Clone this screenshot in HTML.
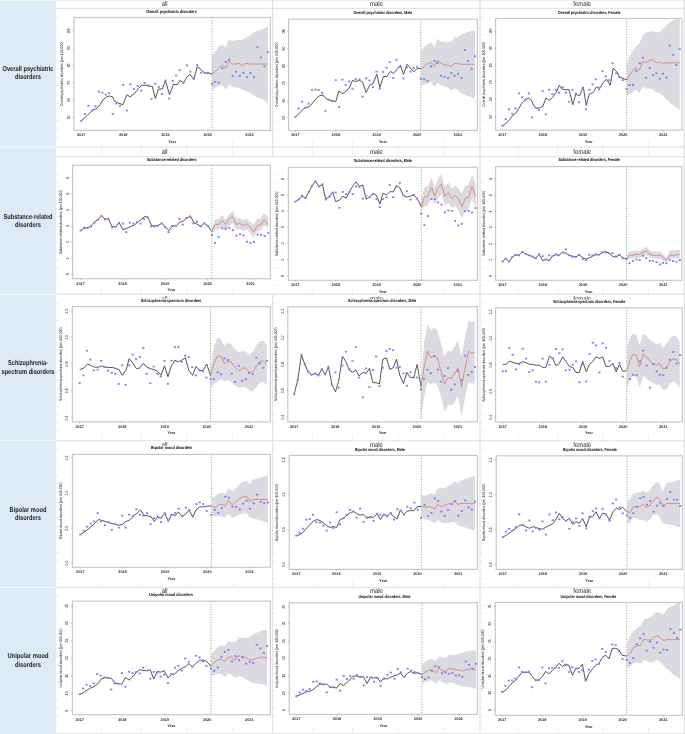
<!DOCTYPE html>
<html><head><meta charset="utf-8"><title>Charts</title>
<style>
html,body{margin:0;padding:0;background:#fff;}
body{width:685px;height:734px;overflow:hidden;font-family:"Liberation Sans",sans-serif;}
svg{display:block;text-rendering:geometricPrecision;}
svg{will-change:transform;}
</style></head><body>
<svg width="685" height="734" viewBox="0 0 685 734" font-family="Liberation Sans, sans-serif"><rect x="0" y="0" width="685" height="734" fill="#fff"/>
<rect x="0" y="0" width="56" height="734" fill="#DEEAF6"/>
<line x1="0" y1="0.5" x2="56" y2="0.5" stroke="#f4f8fc" stroke-width="1.2" />
<line x1="0" y1="147" x2="56" y2="147" stroke="#f4f8fc" stroke-width="1.2" />
<line x1="0" y1="294.3" x2="56" y2="294.3" stroke="#f4f8fc" stroke-width="1.2" />
<line x1="0" y1="440.5" x2="56" y2="440.5" stroke="#f4f8fc" stroke-width="1.2" />
<line x1="0" y1="587.4" x2="56" y2="587.4" stroke="#f4f8fc" stroke-width="1.2" />
<line x1="56" y1="0.5" x2="685" y2="0.5" stroke="#ebebeb" stroke-width="1.2" />
<line x1="56" y1="147" x2="685" y2="147" stroke="#e6e6e6" stroke-width="1.6" />
<line x1="56" y1="294.3" x2="685" y2="294.3" stroke="#e6e6e6" stroke-width="1.6" />
<line x1="56" y1="440.5" x2="685" y2="440.5" stroke="#e6e6e6" stroke-width="1.6" />
<line x1="56" y1="587.4" x2="685" y2="587.4" stroke="#e6e6e6" stroke-width="1.6" />
<line x1="56" y1="733.5" x2="685" y2="733.5" stroke="#e6e6e6" stroke-width="1.2" />
<line x1="56" y1="8.4" x2="685" y2="8.4" stroke="#e4e4e4" stroke-width="1.2" />
<line x1="56" y1="156.6" x2="685" y2="156.6" stroke="#e4e4e4" stroke-width="1.2" />
<line x1="272.6" y1="0" x2="272.6" y2="734" stroke="#e2e2e2" stroke-width="1.3" />
<line x1="480" y1="0" x2="480" y2="734" stroke="#e2e2e2" stroke-width="1.3" />
<line x1="684.3" y1="0" x2="684.3" y2="734" stroke="#e2e2e2" stroke-width="1.3" />
<rect x="271.5" y="157.4" width="2.4" height="136.2" fill="#fff"/>
<text x="164.7" y="5.8" font-size="6.8" text-anchor="middle" fill="#262626" textLength="5.8" lengthAdjust="spacingAndGlyphs" >all</text>
<text x="376.4" y="5.8" font-size="6.8" text-anchor="middle" fill="#262626" textLength="13" lengthAdjust="spacingAndGlyphs" >male</text>
<text x="582.2" y="5.8" font-size="6.8" text-anchor="middle" fill="#262626" textLength="17.9" lengthAdjust="spacingAndGlyphs" >female</text>
<text x="164.7" y="153.8" font-size="6.8" text-anchor="middle" fill="#262626" textLength="5.8" lengthAdjust="spacingAndGlyphs" >all</text>
<text x="376.4" y="153.8" font-size="6.8" text-anchor="middle" fill="#262626" textLength="13" lengthAdjust="spacingAndGlyphs" >male</text>
<text x="582.2" y="153.8" font-size="6.8" text-anchor="middle" fill="#262626" textLength="17.9" lengthAdjust="spacingAndGlyphs" >female</text>
<text x="164.7" y="300.7" font-size="6.8" text-anchor="middle" fill="#262626" textLength="5.8" lengthAdjust="spacingAndGlyphs" >all</text>
<text x="376.4" y="300.7" font-size="6.8" text-anchor="middle" fill="#262626" textLength="13" lengthAdjust="spacingAndGlyphs" >male</text>
<text x="582.2" y="300.7" font-size="6.8" text-anchor="middle" fill="#262626" textLength="17.9" lengthAdjust="spacingAndGlyphs" >female</text>
<text x="164.7" y="446.7" font-size="6.8" text-anchor="middle" fill="#262626" textLength="5.8" lengthAdjust="spacingAndGlyphs" >all</text>
<text x="376.4" y="446.7" font-size="6.8" text-anchor="middle" fill="#262626" textLength="13" lengthAdjust="spacingAndGlyphs" >male</text>
<text x="582.2" y="446.7" font-size="6.8" text-anchor="middle" fill="#262626" textLength="17.9" lengthAdjust="spacingAndGlyphs" >female</text>
<text x="164.7" y="593.2" font-size="6.8" text-anchor="middle" fill="#262626" textLength="5.8" lengthAdjust="spacingAndGlyphs" >all</text>
<text x="376.4" y="593.2" font-size="6.8" text-anchor="middle" fill="#262626" textLength="13" lengthAdjust="spacingAndGlyphs" >male</text>
<text x="582.2" y="593.2" font-size="6.8" text-anchor="middle" fill="#262626" textLength="17.9" lengthAdjust="spacingAndGlyphs" >female</text>
<rect x="57" y="298.5" width="214.8" height="141.3" fill="#fff"/>
<rect x="273.4" y="299" width="205.8" height="140.8" fill="#fff"/>
<rect x="480.8" y="299.5" width="202.8" height="140.3" fill="#fff"/>
<rect x="57" y="445.8" width="214.8" height="140.8" fill="#fff"/>
<rect x="273.4" y="447.4" width="205.8" height="139.2" fill="#fff"/>
<rect x="480.8" y="447.4" width="202.8" height="139.2" fill="#fff"/>
<rect x="57" y="593" width="214.8" height="139.8" fill="#fff"/>
<rect x="273.4" y="593.8" width="205.8" height="139" fill="#fff"/>
<rect x="480.8" y="593.8" width="202.8" height="139" fill="#fff"/>
<line x1="56.3" y1="17.3" x2="58.9" y2="17.3" stroke="#e4e4e4" stroke-width="0.8"/>
<line x1="56.3" y1="25.89" x2="58.9" y2="25.89" stroke="#e4e4e4" stroke-width="0.8"/>
<line x1="56.3" y1="34.48" x2="58.9" y2="34.48" stroke="#e4e4e4" stroke-width="0.8"/>
<line x1="56.3" y1="43.07" x2="58.9" y2="43.07" stroke="#e4e4e4" stroke-width="0.8"/>
<line x1="56.3" y1="51.66" x2="58.9" y2="51.66" stroke="#e4e4e4" stroke-width="0.8"/>
<line x1="56.3" y1="60.25" x2="58.9" y2="60.25" stroke="#e4e4e4" stroke-width="0.8"/>
<line x1="56.3" y1="68.84" x2="58.9" y2="68.84" stroke="#e4e4e4" stroke-width="0.8"/>
<line x1="56.3" y1="77.43" x2="58.9" y2="77.43" stroke="#e4e4e4" stroke-width="0.8"/>
<line x1="56.3" y1="86.02" x2="58.9" y2="86.02" stroke="#e4e4e4" stroke-width="0.8"/>
<line x1="56.3" y1="94.61" x2="58.9" y2="94.61" stroke="#e4e4e4" stroke-width="0.8"/>
<line x1="56.3" y1="103.2" x2="58.9" y2="103.2" stroke="#e4e4e4" stroke-width="0.8"/>
<line x1="56.3" y1="111.79" x2="58.9" y2="111.79" stroke="#e4e4e4" stroke-width="0.8"/>
<line x1="56.3" y1="120.38" x2="58.9" y2="120.38" stroke="#e4e4e4" stroke-width="0.8"/>
<line x1="56.3" y1="128.97" x2="58.9" y2="128.97" stroke="#e4e4e4" stroke-width="0.8"/>
<line x1="56.3" y1="137.56" x2="58.9" y2="137.56" stroke="#e4e4e4" stroke-width="0.8"/>
<line x1="56.3" y1="165.8" x2="58.9" y2="165.8" stroke="#e4e4e4" stroke-width="0.8"/>
<line x1="56.3" y1="174.35" x2="58.9" y2="174.35" stroke="#e4e4e4" stroke-width="0.8"/>
<line x1="56.3" y1="182.9" x2="58.9" y2="182.9" stroke="#e4e4e4" stroke-width="0.8"/>
<line x1="56.3" y1="191.45" x2="58.9" y2="191.45" stroke="#e4e4e4" stroke-width="0.8"/>
<line x1="56.3" y1="200" x2="58.9" y2="200" stroke="#e4e4e4" stroke-width="0.8"/>
<line x1="56.3" y1="208.55" x2="58.9" y2="208.55" stroke="#e4e4e4" stroke-width="0.8"/>
<line x1="56.3" y1="217.1" x2="58.9" y2="217.1" stroke="#e4e4e4" stroke-width="0.8"/>
<line x1="56.3" y1="225.65" x2="58.9" y2="225.65" stroke="#e4e4e4" stroke-width="0.8"/>
<line x1="56.3" y1="234.2" x2="58.9" y2="234.2" stroke="#e4e4e4" stroke-width="0.8"/>
<line x1="56.3" y1="242.75" x2="58.9" y2="242.75" stroke="#e4e4e4" stroke-width="0.8"/>
<line x1="56.3" y1="251.3" x2="58.9" y2="251.3" stroke="#e4e4e4" stroke-width="0.8"/>
<line x1="56.3" y1="259.85" x2="58.9" y2="259.85" stroke="#e4e4e4" stroke-width="0.8"/>
<line x1="56.3" y1="268.4" x2="58.9" y2="268.4" stroke="#e4e4e4" stroke-width="0.8"/>
<line x1="56.3" y1="276.95" x2="58.9" y2="276.95" stroke="#e4e4e4" stroke-width="0.8"/>
<line x1="56.3" y1="285.5" x2="58.9" y2="285.5" stroke="#e4e4e4" stroke-width="0.8"/>
<line x1="56.3" y1="303.3" x2="58.9" y2="303.3" stroke="#e4e4e4" stroke-width="0.8"/>
<line x1="56.3" y1="311.86" x2="58.9" y2="311.86" stroke="#e4e4e4" stroke-width="0.8"/>
<line x1="56.3" y1="320.42" x2="58.9" y2="320.42" stroke="#e4e4e4" stroke-width="0.8"/>
<line x1="56.3" y1="328.98" x2="58.9" y2="328.98" stroke="#e4e4e4" stroke-width="0.8"/>
<line x1="56.3" y1="337.54" x2="58.9" y2="337.54" stroke="#e4e4e4" stroke-width="0.8"/>
<line x1="56.3" y1="346.1" x2="58.9" y2="346.1" stroke="#e4e4e4" stroke-width="0.8"/>
<line x1="56.3" y1="354.66" x2="58.9" y2="354.66" stroke="#e4e4e4" stroke-width="0.8"/>
<line x1="56.3" y1="363.22" x2="58.9" y2="363.22" stroke="#e4e4e4" stroke-width="0.8"/>
<line x1="56.3" y1="371.78" x2="58.9" y2="371.78" stroke="#e4e4e4" stroke-width="0.8"/>
<line x1="56.3" y1="380.34" x2="58.9" y2="380.34" stroke="#e4e4e4" stroke-width="0.8"/>
<line x1="56.3" y1="388.9" x2="58.9" y2="388.9" stroke="#e4e4e4" stroke-width="0.8"/>
<line x1="56.3" y1="397.46" x2="58.9" y2="397.46" stroke="#e4e4e4" stroke-width="0.8"/>
<line x1="56.3" y1="406.02" x2="58.9" y2="406.02" stroke="#e4e4e4" stroke-width="0.8"/>
<line x1="56.3" y1="414.58" x2="58.9" y2="414.58" stroke="#e4e4e4" stroke-width="0.8"/>
<line x1="56.3" y1="423.14" x2="58.9" y2="423.14" stroke="#e4e4e4" stroke-width="0.8"/>
<line x1="56.3" y1="431.7" x2="58.9" y2="431.7" stroke="#e4e4e4" stroke-width="0.8"/>
<line x1="56.3" y1="449.5" x2="58.9" y2="449.5" stroke="#e4e4e4" stroke-width="0.8"/>
<line x1="56.3" y1="458.1" x2="58.9" y2="458.1" stroke="#e4e4e4" stroke-width="0.8"/>
<line x1="56.3" y1="466.7" x2="58.9" y2="466.7" stroke="#e4e4e4" stroke-width="0.8"/>
<line x1="56.3" y1="475.3" x2="58.9" y2="475.3" stroke="#e4e4e4" stroke-width="0.8"/>
<line x1="56.3" y1="483.9" x2="58.9" y2="483.9" stroke="#e4e4e4" stroke-width="0.8"/>
<line x1="56.3" y1="492.5" x2="58.9" y2="492.5" stroke="#e4e4e4" stroke-width="0.8"/>
<line x1="56.3" y1="501.1" x2="58.9" y2="501.1" stroke="#e4e4e4" stroke-width="0.8"/>
<line x1="56.3" y1="509.7" x2="58.9" y2="509.7" stroke="#e4e4e4" stroke-width="0.8"/>
<line x1="56.3" y1="518.3" x2="58.9" y2="518.3" stroke="#e4e4e4" stroke-width="0.8"/>
<line x1="56.3" y1="526.9" x2="58.9" y2="526.9" stroke="#e4e4e4" stroke-width="0.8"/>
<line x1="56.3" y1="535.5" x2="58.9" y2="535.5" stroke="#e4e4e4" stroke-width="0.8"/>
<line x1="56.3" y1="544.1" x2="58.9" y2="544.1" stroke="#e4e4e4" stroke-width="0.8"/>
<line x1="56.3" y1="552.7" x2="58.9" y2="552.7" stroke="#e4e4e4" stroke-width="0.8"/>
<line x1="56.3" y1="561.3" x2="58.9" y2="561.3" stroke="#e4e4e4" stroke-width="0.8"/>
<line x1="56.3" y1="569.9" x2="58.9" y2="569.9" stroke="#e4e4e4" stroke-width="0.8"/>
<line x1="56.3" y1="578.5" x2="58.9" y2="578.5" stroke="#e4e4e4" stroke-width="0.8"/>
<line x1="56.3" y1="596.3" x2="58.9" y2="596.3" stroke="#e4e4e4" stroke-width="0.8"/>
<line x1="56.3" y1="604.88" x2="58.9" y2="604.88" stroke="#e4e4e4" stroke-width="0.8"/>
<line x1="56.3" y1="613.46" x2="58.9" y2="613.46" stroke="#e4e4e4" stroke-width="0.8"/>
<line x1="56.3" y1="622.04" x2="58.9" y2="622.04" stroke="#e4e4e4" stroke-width="0.8"/>
<line x1="56.3" y1="630.62" x2="58.9" y2="630.62" stroke="#e4e4e4" stroke-width="0.8"/>
<line x1="56.3" y1="639.2" x2="58.9" y2="639.2" stroke="#e4e4e4" stroke-width="0.8"/>
<line x1="56.3" y1="647.78" x2="58.9" y2="647.78" stroke="#e4e4e4" stroke-width="0.8"/>
<line x1="56.3" y1="656.36" x2="58.9" y2="656.36" stroke="#e4e4e4" stroke-width="0.8"/>
<line x1="56.3" y1="664.94" x2="58.9" y2="664.94" stroke="#e4e4e4" stroke-width="0.8"/>
<line x1="56.3" y1="673.52" x2="58.9" y2="673.52" stroke="#e4e4e4" stroke-width="0.8"/>
<line x1="56.3" y1="682.1" x2="58.9" y2="682.1" stroke="#e4e4e4" stroke-width="0.8"/>
<line x1="56.3" y1="690.68" x2="58.9" y2="690.68" stroke="#e4e4e4" stroke-width="0.8"/>
<line x1="56.3" y1="699.26" x2="58.9" y2="699.26" stroke="#e4e4e4" stroke-width="0.8"/>
<line x1="56.3" y1="707.84" x2="58.9" y2="707.84" stroke="#e4e4e4" stroke-width="0.8"/>
<line x1="56.3" y1="716.42" x2="58.9" y2="716.42" stroke="#e4e4e4" stroke-width="0.8"/>
<line x1="56.3" y1="725" x2="58.9" y2="725" stroke="#e4e4e4" stroke-width="0.8"/>
<line x1="273.3" y1="17.3" x2="275.9" y2="17.3" stroke="#e4e4e4" stroke-width="0.8"/>
<line x1="273.3" y1="25.89" x2="275.9" y2="25.89" stroke="#e4e4e4" stroke-width="0.8"/>
<line x1="273.3" y1="34.48" x2="275.9" y2="34.48" stroke="#e4e4e4" stroke-width="0.8"/>
<line x1="273.3" y1="43.07" x2="275.9" y2="43.07" stroke="#e4e4e4" stroke-width="0.8"/>
<line x1="273.3" y1="51.66" x2="275.9" y2="51.66" stroke="#e4e4e4" stroke-width="0.8"/>
<line x1="273.3" y1="60.25" x2="275.9" y2="60.25" stroke="#e4e4e4" stroke-width="0.8"/>
<line x1="273.3" y1="68.84" x2="275.9" y2="68.84" stroke="#e4e4e4" stroke-width="0.8"/>
<line x1="273.3" y1="77.43" x2="275.9" y2="77.43" stroke="#e4e4e4" stroke-width="0.8"/>
<line x1="273.3" y1="86.02" x2="275.9" y2="86.02" stroke="#e4e4e4" stroke-width="0.8"/>
<line x1="273.3" y1="94.61" x2="275.9" y2="94.61" stroke="#e4e4e4" stroke-width="0.8"/>
<line x1="273.3" y1="103.2" x2="275.9" y2="103.2" stroke="#e4e4e4" stroke-width="0.8"/>
<line x1="273.3" y1="111.79" x2="275.9" y2="111.79" stroke="#e4e4e4" stroke-width="0.8"/>
<line x1="273.3" y1="120.38" x2="275.9" y2="120.38" stroke="#e4e4e4" stroke-width="0.8"/>
<line x1="273.3" y1="128.97" x2="275.9" y2="128.97" stroke="#e4e4e4" stroke-width="0.8"/>
<line x1="273.3" y1="137.56" x2="275.9" y2="137.56" stroke="#e4e4e4" stroke-width="0.8"/>
<line x1="273.3" y1="165.8" x2="275.9" y2="165.8" stroke="#e4e4e4" stroke-width="0.8"/>
<line x1="273.3" y1="174.35" x2="275.9" y2="174.35" stroke="#e4e4e4" stroke-width="0.8"/>
<line x1="273.3" y1="182.9" x2="275.9" y2="182.9" stroke="#e4e4e4" stroke-width="0.8"/>
<line x1="273.3" y1="191.45" x2="275.9" y2="191.45" stroke="#e4e4e4" stroke-width="0.8"/>
<line x1="273.3" y1="200" x2="275.9" y2="200" stroke="#e4e4e4" stroke-width="0.8"/>
<line x1="273.3" y1="208.55" x2="275.9" y2="208.55" stroke="#e4e4e4" stroke-width="0.8"/>
<line x1="273.3" y1="217.1" x2="275.9" y2="217.1" stroke="#e4e4e4" stroke-width="0.8"/>
<line x1="273.3" y1="225.65" x2="275.9" y2="225.65" stroke="#e4e4e4" stroke-width="0.8"/>
<line x1="273.3" y1="234.2" x2="275.9" y2="234.2" stroke="#e4e4e4" stroke-width="0.8"/>
<line x1="273.3" y1="242.75" x2="275.9" y2="242.75" stroke="#e4e4e4" stroke-width="0.8"/>
<line x1="273.3" y1="251.3" x2="275.9" y2="251.3" stroke="#e4e4e4" stroke-width="0.8"/>
<line x1="273.3" y1="259.85" x2="275.9" y2="259.85" stroke="#e4e4e4" stroke-width="0.8"/>
<line x1="273.3" y1="268.4" x2="275.9" y2="268.4" stroke="#e4e4e4" stroke-width="0.8"/>
<line x1="273.3" y1="276.95" x2="275.9" y2="276.95" stroke="#e4e4e4" stroke-width="0.8"/>
<line x1="273.3" y1="285.5" x2="275.9" y2="285.5" stroke="#e4e4e4" stroke-width="0.8"/>
<line x1="273.3" y1="303.3" x2="275.9" y2="303.3" stroke="#e4e4e4" stroke-width="0.8"/>
<line x1="273.3" y1="311.86" x2="275.9" y2="311.86" stroke="#e4e4e4" stroke-width="0.8"/>
<line x1="273.3" y1="320.42" x2="275.9" y2="320.42" stroke="#e4e4e4" stroke-width="0.8"/>
<line x1="273.3" y1="328.98" x2="275.9" y2="328.98" stroke="#e4e4e4" stroke-width="0.8"/>
<line x1="273.3" y1="337.54" x2="275.9" y2="337.54" stroke="#e4e4e4" stroke-width="0.8"/>
<line x1="273.3" y1="346.1" x2="275.9" y2="346.1" stroke="#e4e4e4" stroke-width="0.8"/>
<line x1="273.3" y1="354.66" x2="275.9" y2="354.66" stroke="#e4e4e4" stroke-width="0.8"/>
<line x1="273.3" y1="363.22" x2="275.9" y2="363.22" stroke="#e4e4e4" stroke-width="0.8"/>
<line x1="273.3" y1="371.78" x2="275.9" y2="371.78" stroke="#e4e4e4" stroke-width="0.8"/>
<line x1="273.3" y1="380.34" x2="275.9" y2="380.34" stroke="#e4e4e4" stroke-width="0.8"/>
<line x1="273.3" y1="388.9" x2="275.9" y2="388.9" stroke="#e4e4e4" stroke-width="0.8"/>
<line x1="273.3" y1="397.46" x2="275.9" y2="397.46" stroke="#e4e4e4" stroke-width="0.8"/>
<line x1="273.3" y1="406.02" x2="275.9" y2="406.02" stroke="#e4e4e4" stroke-width="0.8"/>
<line x1="273.3" y1="414.58" x2="275.9" y2="414.58" stroke="#e4e4e4" stroke-width="0.8"/>
<line x1="273.3" y1="423.14" x2="275.9" y2="423.14" stroke="#e4e4e4" stroke-width="0.8"/>
<line x1="273.3" y1="431.7" x2="275.9" y2="431.7" stroke="#e4e4e4" stroke-width="0.8"/>
<line x1="273.3" y1="449.5" x2="275.9" y2="449.5" stroke="#e4e4e4" stroke-width="0.8"/>
<line x1="273.3" y1="458.1" x2="275.9" y2="458.1" stroke="#e4e4e4" stroke-width="0.8"/>
<line x1="273.3" y1="466.7" x2="275.9" y2="466.7" stroke="#e4e4e4" stroke-width="0.8"/>
<line x1="273.3" y1="475.3" x2="275.9" y2="475.3" stroke="#e4e4e4" stroke-width="0.8"/>
<line x1="273.3" y1="483.9" x2="275.9" y2="483.9" stroke="#e4e4e4" stroke-width="0.8"/>
<line x1="273.3" y1="492.5" x2="275.9" y2="492.5" stroke="#e4e4e4" stroke-width="0.8"/>
<line x1="273.3" y1="501.1" x2="275.9" y2="501.1" stroke="#e4e4e4" stroke-width="0.8"/>
<line x1="273.3" y1="509.7" x2="275.9" y2="509.7" stroke="#e4e4e4" stroke-width="0.8"/>
<line x1="273.3" y1="518.3" x2="275.9" y2="518.3" stroke="#e4e4e4" stroke-width="0.8"/>
<line x1="273.3" y1="526.9" x2="275.9" y2="526.9" stroke="#e4e4e4" stroke-width="0.8"/>
<line x1="273.3" y1="535.5" x2="275.9" y2="535.5" stroke="#e4e4e4" stroke-width="0.8"/>
<line x1="273.3" y1="544.1" x2="275.9" y2="544.1" stroke="#e4e4e4" stroke-width="0.8"/>
<line x1="273.3" y1="552.7" x2="275.9" y2="552.7" stroke="#e4e4e4" stroke-width="0.8"/>
<line x1="273.3" y1="561.3" x2="275.9" y2="561.3" stroke="#e4e4e4" stroke-width="0.8"/>
<line x1="273.3" y1="569.9" x2="275.9" y2="569.9" stroke="#e4e4e4" stroke-width="0.8"/>
<line x1="273.3" y1="578.5" x2="275.9" y2="578.5" stroke="#e4e4e4" stroke-width="0.8"/>
<line x1="273.3" y1="596.3" x2="275.9" y2="596.3" stroke="#e4e4e4" stroke-width="0.8"/>
<line x1="273.3" y1="604.88" x2="275.9" y2="604.88" stroke="#e4e4e4" stroke-width="0.8"/>
<line x1="273.3" y1="613.46" x2="275.9" y2="613.46" stroke="#e4e4e4" stroke-width="0.8"/>
<line x1="273.3" y1="622.04" x2="275.9" y2="622.04" stroke="#e4e4e4" stroke-width="0.8"/>
<line x1="273.3" y1="630.62" x2="275.9" y2="630.62" stroke="#e4e4e4" stroke-width="0.8"/>
<line x1="273.3" y1="639.2" x2="275.9" y2="639.2" stroke="#e4e4e4" stroke-width="0.8"/>
<line x1="273.3" y1="647.78" x2="275.9" y2="647.78" stroke="#e4e4e4" stroke-width="0.8"/>
<line x1="273.3" y1="656.36" x2="275.9" y2="656.36" stroke="#e4e4e4" stroke-width="0.8"/>
<line x1="273.3" y1="664.94" x2="275.9" y2="664.94" stroke="#e4e4e4" stroke-width="0.8"/>
<line x1="273.3" y1="673.52" x2="275.9" y2="673.52" stroke="#e4e4e4" stroke-width="0.8"/>
<line x1="273.3" y1="682.1" x2="275.9" y2="682.1" stroke="#e4e4e4" stroke-width="0.8"/>
<line x1="273.3" y1="690.68" x2="275.9" y2="690.68" stroke="#e4e4e4" stroke-width="0.8"/>
<line x1="273.3" y1="699.26" x2="275.9" y2="699.26" stroke="#e4e4e4" stroke-width="0.8"/>
<line x1="273.3" y1="707.84" x2="275.9" y2="707.84" stroke="#e4e4e4" stroke-width="0.8"/>
<line x1="273.3" y1="716.42" x2="275.9" y2="716.42" stroke="#e4e4e4" stroke-width="0.8"/>
<line x1="273.3" y1="725" x2="275.9" y2="725" stroke="#e4e4e4" stroke-width="0.8"/>
<line x1="480.8" y1="17.3" x2="483.4" y2="17.3" stroke="#e4e4e4" stroke-width="0.8"/>
<line x1="480.8" y1="25.89" x2="483.4" y2="25.89" stroke="#e4e4e4" stroke-width="0.8"/>
<line x1="480.8" y1="34.48" x2="483.4" y2="34.48" stroke="#e4e4e4" stroke-width="0.8"/>
<line x1="480.8" y1="43.07" x2="483.4" y2="43.07" stroke="#e4e4e4" stroke-width="0.8"/>
<line x1="480.8" y1="51.66" x2="483.4" y2="51.66" stroke="#e4e4e4" stroke-width="0.8"/>
<line x1="480.8" y1="60.25" x2="483.4" y2="60.25" stroke="#e4e4e4" stroke-width="0.8"/>
<line x1="480.8" y1="68.84" x2="483.4" y2="68.84" stroke="#e4e4e4" stroke-width="0.8"/>
<line x1="480.8" y1="77.43" x2="483.4" y2="77.43" stroke="#e4e4e4" stroke-width="0.8"/>
<line x1="480.8" y1="86.02" x2="483.4" y2="86.02" stroke="#e4e4e4" stroke-width="0.8"/>
<line x1="480.8" y1="94.61" x2="483.4" y2="94.61" stroke="#e4e4e4" stroke-width="0.8"/>
<line x1="480.8" y1="103.2" x2="483.4" y2="103.2" stroke="#e4e4e4" stroke-width="0.8"/>
<line x1="480.8" y1="111.79" x2="483.4" y2="111.79" stroke="#e4e4e4" stroke-width="0.8"/>
<line x1="480.8" y1="120.38" x2="483.4" y2="120.38" stroke="#e4e4e4" stroke-width="0.8"/>
<line x1="480.8" y1="128.97" x2="483.4" y2="128.97" stroke="#e4e4e4" stroke-width="0.8"/>
<line x1="480.8" y1="137.56" x2="483.4" y2="137.56" stroke="#e4e4e4" stroke-width="0.8"/>
<line x1="480.8" y1="165.8" x2="483.4" y2="165.8" stroke="#e4e4e4" stroke-width="0.8"/>
<line x1="480.8" y1="174.35" x2="483.4" y2="174.35" stroke="#e4e4e4" stroke-width="0.8"/>
<line x1="480.8" y1="182.9" x2="483.4" y2="182.9" stroke="#e4e4e4" stroke-width="0.8"/>
<line x1="480.8" y1="191.45" x2="483.4" y2="191.45" stroke="#e4e4e4" stroke-width="0.8"/>
<line x1="480.8" y1="200" x2="483.4" y2="200" stroke="#e4e4e4" stroke-width="0.8"/>
<line x1="480.8" y1="208.55" x2="483.4" y2="208.55" stroke="#e4e4e4" stroke-width="0.8"/>
<line x1="480.8" y1="217.1" x2="483.4" y2="217.1" stroke="#e4e4e4" stroke-width="0.8"/>
<line x1="480.8" y1="225.65" x2="483.4" y2="225.65" stroke="#e4e4e4" stroke-width="0.8"/>
<line x1="480.8" y1="234.2" x2="483.4" y2="234.2" stroke="#e4e4e4" stroke-width="0.8"/>
<line x1="480.8" y1="242.75" x2="483.4" y2="242.75" stroke="#e4e4e4" stroke-width="0.8"/>
<line x1="480.8" y1="251.3" x2="483.4" y2="251.3" stroke="#e4e4e4" stroke-width="0.8"/>
<line x1="480.8" y1="259.85" x2="483.4" y2="259.85" stroke="#e4e4e4" stroke-width="0.8"/>
<line x1="480.8" y1="268.4" x2="483.4" y2="268.4" stroke="#e4e4e4" stroke-width="0.8"/>
<line x1="480.8" y1="276.95" x2="483.4" y2="276.95" stroke="#e4e4e4" stroke-width="0.8"/>
<line x1="480.8" y1="285.5" x2="483.4" y2="285.5" stroke="#e4e4e4" stroke-width="0.8"/>
<line x1="480.8" y1="303.3" x2="483.4" y2="303.3" stroke="#e4e4e4" stroke-width="0.8"/>
<line x1="480.8" y1="311.86" x2="483.4" y2="311.86" stroke="#e4e4e4" stroke-width="0.8"/>
<line x1="480.8" y1="320.42" x2="483.4" y2="320.42" stroke="#e4e4e4" stroke-width="0.8"/>
<line x1="480.8" y1="328.98" x2="483.4" y2="328.98" stroke="#e4e4e4" stroke-width="0.8"/>
<line x1="480.8" y1="337.54" x2="483.4" y2="337.54" stroke="#e4e4e4" stroke-width="0.8"/>
<line x1="480.8" y1="346.1" x2="483.4" y2="346.1" stroke="#e4e4e4" stroke-width="0.8"/>
<line x1="480.8" y1="354.66" x2="483.4" y2="354.66" stroke="#e4e4e4" stroke-width="0.8"/>
<line x1="480.8" y1="363.22" x2="483.4" y2="363.22" stroke="#e4e4e4" stroke-width="0.8"/>
<line x1="480.8" y1="371.78" x2="483.4" y2="371.78" stroke="#e4e4e4" stroke-width="0.8"/>
<line x1="480.8" y1="380.34" x2="483.4" y2="380.34" stroke="#e4e4e4" stroke-width="0.8"/>
<line x1="480.8" y1="388.9" x2="483.4" y2="388.9" stroke="#e4e4e4" stroke-width="0.8"/>
<line x1="480.8" y1="397.46" x2="483.4" y2="397.46" stroke="#e4e4e4" stroke-width="0.8"/>
<line x1="480.8" y1="406.02" x2="483.4" y2="406.02" stroke="#e4e4e4" stroke-width="0.8"/>
<line x1="480.8" y1="414.58" x2="483.4" y2="414.58" stroke="#e4e4e4" stroke-width="0.8"/>
<line x1="480.8" y1="423.14" x2="483.4" y2="423.14" stroke="#e4e4e4" stroke-width="0.8"/>
<line x1="480.8" y1="431.7" x2="483.4" y2="431.7" stroke="#e4e4e4" stroke-width="0.8"/>
<line x1="480.8" y1="449.5" x2="483.4" y2="449.5" stroke="#e4e4e4" stroke-width="0.8"/>
<line x1="480.8" y1="458.1" x2="483.4" y2="458.1" stroke="#e4e4e4" stroke-width="0.8"/>
<line x1="480.8" y1="466.7" x2="483.4" y2="466.7" stroke="#e4e4e4" stroke-width="0.8"/>
<line x1="480.8" y1="475.3" x2="483.4" y2="475.3" stroke="#e4e4e4" stroke-width="0.8"/>
<line x1="480.8" y1="483.9" x2="483.4" y2="483.9" stroke="#e4e4e4" stroke-width="0.8"/>
<line x1="480.8" y1="492.5" x2="483.4" y2="492.5" stroke="#e4e4e4" stroke-width="0.8"/>
<line x1="480.8" y1="501.1" x2="483.4" y2="501.1" stroke="#e4e4e4" stroke-width="0.8"/>
<line x1="480.8" y1="509.7" x2="483.4" y2="509.7" stroke="#e4e4e4" stroke-width="0.8"/>
<line x1="480.8" y1="518.3" x2="483.4" y2="518.3" stroke="#e4e4e4" stroke-width="0.8"/>
<line x1="480.8" y1="526.9" x2="483.4" y2="526.9" stroke="#e4e4e4" stroke-width="0.8"/>
<line x1="480.8" y1="535.5" x2="483.4" y2="535.5" stroke="#e4e4e4" stroke-width="0.8"/>
<line x1="480.8" y1="544.1" x2="483.4" y2="544.1" stroke="#e4e4e4" stroke-width="0.8"/>
<line x1="480.8" y1="552.7" x2="483.4" y2="552.7" stroke="#e4e4e4" stroke-width="0.8"/>
<line x1="480.8" y1="561.3" x2="483.4" y2="561.3" stroke="#e4e4e4" stroke-width="0.8"/>
<line x1="480.8" y1="569.9" x2="483.4" y2="569.9" stroke="#e4e4e4" stroke-width="0.8"/>
<line x1="480.8" y1="578.5" x2="483.4" y2="578.5" stroke="#e4e4e4" stroke-width="0.8"/>
<line x1="480.8" y1="596.3" x2="483.4" y2="596.3" stroke="#e4e4e4" stroke-width="0.8"/>
<line x1="480.8" y1="604.88" x2="483.4" y2="604.88" stroke="#e4e4e4" stroke-width="0.8"/>
<line x1="480.8" y1="613.46" x2="483.4" y2="613.46" stroke="#e4e4e4" stroke-width="0.8"/>
<line x1="480.8" y1="622.04" x2="483.4" y2="622.04" stroke="#e4e4e4" stroke-width="0.8"/>
<line x1="480.8" y1="630.62" x2="483.4" y2="630.62" stroke="#e4e4e4" stroke-width="0.8"/>
<line x1="480.8" y1="639.2" x2="483.4" y2="639.2" stroke="#e4e4e4" stroke-width="0.8"/>
<line x1="480.8" y1="647.78" x2="483.4" y2="647.78" stroke="#e4e4e4" stroke-width="0.8"/>
<line x1="480.8" y1="656.36" x2="483.4" y2="656.36" stroke="#e4e4e4" stroke-width="0.8"/>
<line x1="480.8" y1="664.94" x2="483.4" y2="664.94" stroke="#e4e4e4" stroke-width="0.8"/>
<line x1="480.8" y1="673.52" x2="483.4" y2="673.52" stroke="#e4e4e4" stroke-width="0.8"/>
<line x1="480.8" y1="682.1" x2="483.4" y2="682.1" stroke="#e4e4e4" stroke-width="0.8"/>
<line x1="480.8" y1="690.68" x2="483.4" y2="690.68" stroke="#e4e4e4" stroke-width="0.8"/>
<line x1="480.8" y1="699.26" x2="483.4" y2="699.26" stroke="#e4e4e4" stroke-width="0.8"/>
<line x1="480.8" y1="707.84" x2="483.4" y2="707.84" stroke="#e4e4e4" stroke-width="0.8"/>
<line x1="480.8" y1="716.42" x2="483.4" y2="716.42" stroke="#e4e4e4" stroke-width="0.8"/>
<line x1="480.8" y1="725" x2="483.4" y2="725" stroke="#e4e4e4" stroke-width="0.8"/>
<line x1="101.6" y1="141" x2="101.6" y2="156.6" stroke="#ececec" stroke-width="0.8"/>
<line x1="141.2" y1="141" x2="141.2" y2="156.6" stroke="#ececec" stroke-width="0.8"/>
<line x1="186.9" y1="141" x2="186.9" y2="156.6" stroke="#ececec" stroke-width="0.8"/>
<line x1="232.6" y1="141" x2="232.6" y2="156.6" stroke="#ececec" stroke-width="0.8"/>
<line x1="312.4" y1="141" x2="312.4" y2="156.6" stroke="#ececec" stroke-width="0.8"/>
<line x1="352.5" y1="141" x2="352.5" y2="156.6" stroke="#ececec" stroke-width="0.8"/>
<line x1="398" y1="141" x2="398" y2="156.6" stroke="#ececec" stroke-width="0.8"/>
<line x1="443.6" y1="141" x2="443.6" y2="156.6" stroke="#ececec" stroke-width="0.8"/>
<line x1="518" y1="141" x2="518" y2="156.6" stroke="#ececec" stroke-width="0.8"/>
<line x1="557.8" y1="141" x2="557.8" y2="156.6" stroke="#ececec" stroke-width="0.8"/>
<line x1="602.7" y1="141" x2="602.7" y2="156.6" stroke="#ececec" stroke-width="0.8"/>
<line x1="648.5" y1="141" x2="648.5" y2="156.6" stroke="#ececec" stroke-width="0.8"/>
<line x1="101.6" y1="288.3" x2="101.6" y2="294.3" stroke="#ececec" stroke-width="0.8"/>
<line x1="141.2" y1="288.3" x2="141.2" y2="294.3" stroke="#ececec" stroke-width="0.8"/>
<line x1="186.9" y1="288.3" x2="186.9" y2="294.3" stroke="#ececec" stroke-width="0.8"/>
<line x1="232.6" y1="288.3" x2="232.6" y2="294.3" stroke="#ececec" stroke-width="0.8"/>
<line x1="312.4" y1="288.3" x2="312.4" y2="294.3" stroke="#ececec" stroke-width="0.8"/>
<line x1="352.5" y1="288.3" x2="352.5" y2="294.3" stroke="#ececec" stroke-width="0.8"/>
<line x1="398" y1="288.3" x2="398" y2="294.3" stroke="#ececec" stroke-width="0.8"/>
<line x1="443.6" y1="288.3" x2="443.6" y2="294.3" stroke="#ececec" stroke-width="0.8"/>
<line x1="518" y1="288.3" x2="518" y2="294.3" stroke="#ececec" stroke-width="0.8"/>
<line x1="557.8" y1="288.3" x2="557.8" y2="294.3" stroke="#ececec" stroke-width="0.8"/>
<line x1="602.7" y1="288.3" x2="602.7" y2="294.3" stroke="#ececec" stroke-width="0.8"/>
<line x1="648.5" y1="288.3" x2="648.5" y2="294.3" stroke="#ececec" stroke-width="0.8"/>
<line x1="101.6" y1="434.5" x2="101.6" y2="440.5" stroke="#ececec" stroke-width="0.8"/>
<line x1="141.2" y1="434.5" x2="141.2" y2="440.5" stroke="#ececec" stroke-width="0.8"/>
<line x1="186.9" y1="434.5" x2="186.9" y2="440.5" stroke="#ececec" stroke-width="0.8"/>
<line x1="232.6" y1="434.5" x2="232.6" y2="440.5" stroke="#ececec" stroke-width="0.8"/>
<line x1="312.4" y1="434.5" x2="312.4" y2="440.5" stroke="#ececec" stroke-width="0.8"/>
<line x1="352.5" y1="434.5" x2="352.5" y2="440.5" stroke="#ececec" stroke-width="0.8"/>
<line x1="398" y1="434.5" x2="398" y2="440.5" stroke="#ececec" stroke-width="0.8"/>
<line x1="443.6" y1="434.5" x2="443.6" y2="440.5" stroke="#ececec" stroke-width="0.8"/>
<line x1="518" y1="434.5" x2="518" y2="440.5" stroke="#ececec" stroke-width="0.8"/>
<line x1="557.8" y1="434.5" x2="557.8" y2="440.5" stroke="#ececec" stroke-width="0.8"/>
<line x1="602.7" y1="434.5" x2="602.7" y2="440.5" stroke="#ececec" stroke-width="0.8"/>
<line x1="648.5" y1="434.5" x2="648.5" y2="440.5" stroke="#ececec" stroke-width="0.8"/>
<line x1="101.6" y1="581.4" x2="101.6" y2="587.4" stroke="#ececec" stroke-width="0.8"/>
<line x1="141.2" y1="581.4" x2="141.2" y2="587.4" stroke="#ececec" stroke-width="0.8"/>
<line x1="186.9" y1="581.4" x2="186.9" y2="587.4" stroke="#ececec" stroke-width="0.8"/>
<line x1="232.6" y1="581.4" x2="232.6" y2="587.4" stroke="#ececec" stroke-width="0.8"/>
<line x1="312.4" y1="581.4" x2="312.4" y2="587.4" stroke="#ececec" stroke-width="0.8"/>
<line x1="352.5" y1="581.4" x2="352.5" y2="587.4" stroke="#ececec" stroke-width="0.8"/>
<line x1="398" y1="581.4" x2="398" y2="587.4" stroke="#ececec" stroke-width="0.8"/>
<line x1="443.6" y1="581.4" x2="443.6" y2="587.4" stroke="#ececec" stroke-width="0.8"/>
<line x1="518" y1="581.4" x2="518" y2="587.4" stroke="#ececec" stroke-width="0.8"/>
<line x1="557.8" y1="581.4" x2="557.8" y2="587.4" stroke="#ececec" stroke-width="0.8"/>
<line x1="602.7" y1="581.4" x2="602.7" y2="587.4" stroke="#ececec" stroke-width="0.8"/>
<line x1="648.5" y1="581.4" x2="648.5" y2="587.4" stroke="#ececec" stroke-width="0.8"/>
<line x1="101.6" y1="727.5" x2="101.6" y2="733.5" stroke="#ececec" stroke-width="0.8"/>
<line x1="141.2" y1="727.5" x2="141.2" y2="733.5" stroke="#ececec" stroke-width="0.8"/>
<line x1="186.9" y1="727.5" x2="186.9" y2="733.5" stroke="#ececec" stroke-width="0.8"/>
<line x1="232.6" y1="727.5" x2="232.6" y2="733.5" stroke="#ececec" stroke-width="0.8"/>
<line x1="312.4" y1="727.5" x2="312.4" y2="733.5" stroke="#ececec" stroke-width="0.8"/>
<line x1="352.5" y1="727.5" x2="352.5" y2="733.5" stroke="#ececec" stroke-width="0.8"/>
<line x1="398" y1="727.5" x2="398" y2="733.5" stroke="#ececec" stroke-width="0.8"/>
<line x1="443.6" y1="727.5" x2="443.6" y2="733.5" stroke="#ececec" stroke-width="0.8"/>
<line x1="518" y1="727.5" x2="518" y2="733.5" stroke="#ececec" stroke-width="0.8"/>
<line x1="557.8" y1="727.5" x2="557.8" y2="733.5" stroke="#ececec" stroke-width="0.8"/>
<line x1="602.7" y1="727.5" x2="602.7" y2="733.5" stroke="#ececec" stroke-width="0.8"/>
<line x1="648.5" y1="727.5" x2="648.5" y2="733.5" stroke="#ececec" stroke-width="0.8"/>
<text x="28" y="71" font-size="7.2" text-anchor="middle" fill="#1a1a1a" font-weight="bold" textLength="51" lengthAdjust="spacingAndGlyphs" >Overall psychiatric</text>
<text x="28" y="79.4" font-size="7.2" text-anchor="middle" fill="#1a1a1a" font-weight="bold" textLength="26" lengthAdjust="spacingAndGlyphs" >disorders</text>
<text x="28" y="218.6" font-size="7.2" text-anchor="middle" fill="#1a1a1a" font-weight="bold" textLength="49" lengthAdjust="spacingAndGlyphs" >Substance-related</text>
<text x="28" y="227" font-size="7.2" text-anchor="middle" fill="#1a1a1a" font-weight="bold" textLength="25.8" lengthAdjust="spacingAndGlyphs" >disorders</text>
<text x="28" y="365.2" font-size="7.2" text-anchor="middle" fill="#1a1a1a" font-weight="bold" textLength="39.8" lengthAdjust="spacingAndGlyphs" >Schizophrenia-</text>
<text x="28" y="373.7" font-size="7.2" text-anchor="middle" fill="#1a1a1a" font-weight="bold" textLength="53" lengthAdjust="spacingAndGlyphs" >spectrum disorders</text>
<text x="28" y="511.5" font-size="7.2" text-anchor="middle" fill="#1a1a1a" font-weight="bold" textLength="36.8" lengthAdjust="spacingAndGlyphs" >Bipolar mood</text>
<text x="28" y="520" font-size="7.2" text-anchor="middle" fill="#1a1a1a" font-weight="bold" textLength="25.8" lengthAdjust="spacingAndGlyphs" >disorders</text>
<text x="28" y="658" font-size="7.2" text-anchor="middle" fill="#1a1a1a" font-weight="bold" textLength="41.2" lengthAdjust="spacingAndGlyphs" >Unipolar mood</text>
<text x="28" y="666.8" font-size="7.2" text-anchor="middle" fill="#1a1a1a" font-weight="bold" textLength="26" lengthAdjust="spacingAndGlyphs" >disorders</text>
<polygon points="212.1,55.02 215.52,51.14 218.93,46.48 222.19,44.62 225.6,47.26 229.02,39.03 232.28,41.05 235.69,40.28 239.1,39.97 242.36,40.28 245.78,37.17 249.19,36.4 252.45,33.29 255.86,31.28 259.74,30.19 263.62,28.64 267.97,26 267.97,102.66 263.62,100.02 259.74,98.47 255.86,96.91 252.45,94.59 249.19,92.26 245.78,91.17 242.36,89.93 239.1,88.07 235.69,87.6 232.28,86.83 229.02,84.5 225.6,89.62 222.19,85.28 218.93,85.74 215.52,87.6 212.1,89.93" fill="#dadae0"/>
<polyline points="81.23,120.89 87.53,115.21 92.26,110.48 96.99,108.27 100.15,104.18 103.3,99.45 106.45,96.92 109.61,95.98 112.76,96.92 114.34,101.02 117.49,102.6 122.85,104.81 126.95,94.72 130.1,96.92 134.83,93.14 138.62,88.41 141.77,85.26 145.87,85.26 149.02,86.2 152.18,86.2 155.33,98.5 158.48,89.04 162.27,89.04 165.42,80.53 169.52,94.72 173.3,84.62 177.4,84.62 179.92,80.53 183.71,82.73 186.86,77.37 190.01,74.22 193.8,79.26 197.27,66.65 201.05,69.49 204.84,73.27 207.99,72.64 212.1,74.1" fill="none" stroke="#2a2a2a" stroke-width="0.8" stroke-linejoin="round"/>
<polyline points="212.1,74.1 215.52,71.31 218.93,68.21 222.19,65.1 225.6,68.21 229.02,61.22 232.28,64.02 235.69,64.02 239.1,63.24 242.36,65.57 245.78,63.24 249.19,64.02 252.45,64.02 267.97,64.02" fill="none" stroke="#d9746a" stroke-width="0.75" stroke-linejoin="round"/>
<rect x="80.18" y="119.99" width="2.1" height="1.8" fill="#8080f6"/>
<rect x="83.96" y="113.05" width="2.1" height="1.8" fill="#8080f6"/>
<rect x="87.43" y="104.85" width="2.1" height="1.8" fill="#8080f6"/>
<rect x="90.9" y="109.58" width="2.1" height="1.8" fill="#8080f6"/>
<rect x="94.37" y="105.17" width="2.1" height="1.8" fill="#8080f6"/>
<rect x="97.83" y="90.66" width="2.1" height="1.8" fill="#8080f6"/>
<rect x="101.3" y="91.92" width="2.1" height="1.8" fill="#8080f6"/>
<rect x="104.77" y="93.82" width="2.1" height="1.8" fill="#8080f6"/>
<rect x="107.93" y="92.24" width="2.1" height="1.8" fill="#8080f6"/>
<rect x="111.71" y="113.05" width="2.1" height="1.8" fill="#8080f6"/>
<rect x="115.49" y="102.64" width="2.1" height="1.8" fill="#8080f6"/>
<rect x="118.96" y="104.85" width="2.1" height="1.8" fill="#8080f6"/>
<rect x="122.11" y="84.04" width="2.1" height="1.8" fill="#8080f6"/>
<rect x="125.9" y="109.58" width="2.1" height="1.8" fill="#8080f6"/>
<rect x="129.37" y="83.41" width="2.1" height="1.8" fill="#8080f6"/>
<rect x="132.84" y="88.14" width="2.1" height="1.8" fill="#8080f6"/>
<rect x="136.62" y="84.99" width="2.1" height="1.8" fill="#8080f6"/>
<rect x="140.09" y="89.72" width="2.1" height="1.8" fill="#8080f6"/>
<rect x="143.56" y="82.15" width="2.1" height="1.8" fill="#8080f6"/>
<rect x="147.34" y="84.36" width="2.1" height="1.8" fill="#8080f6"/>
<rect x="150.49" y="97.91" width="2.1" height="1.8" fill="#8080f6"/>
<rect x="154.28" y="82.78" width="2.1" height="1.8" fill="#8080f6"/>
<rect x="157.75" y="85.93" width="2.1" height="1.8" fill="#8080f6"/>
<rect x="160.9" y="93.18" width="2.1" height="1.8" fill="#8080f6"/>
<rect x="164.37" y="79.63" width="2.1" height="1.8" fill="#8080f6"/>
<rect x="168.15" y="97.6" width="2.1" height="1.8" fill="#8080f6"/>
<rect x="171.62" y="79.94" width="2.1" height="1.8" fill="#8080f6"/>
<rect x="175.09" y="74.58" width="2.1" height="1.8" fill="#8080f6"/>
<rect x="178.56" y="69.22" width="2.1" height="1.8" fill="#8080f6"/>
<rect x="182.34" y="82.15" width="2.1" height="1.8" fill="#8080f6"/>
<rect x="185.81" y="64.49" width="2.1" height="1.8" fill="#8080f6"/>
<rect x="189.28" y="70.8" width="2.1" height="1.8" fill="#8080f6"/>
<rect x="192.75" y="78.36" width="2.1" height="1.8" fill="#8080f6"/>
<rect x="196.22" y="64.17" width="2.1" height="1.8" fill="#8080f6"/>
<rect x="200" y="71.74" width="2.1" height="1.8" fill="#8080f6"/>
<rect x="203.47" y="72.06" width="2.1" height="1.8" fill="#8080f6"/>
<rect x="206.94" y="72.37" width="2.1" height="1.8" fill="#8080f6"/>
<rect x="211.05" y="82.82" width="2.1" height="1.8" fill="#8080f6"/>
<rect x="214.16" y="80.96" width="2.1" height="1.8" fill="#8080f6"/>
<rect x="217.73" y="81.74" width="2.1" height="1.8" fill="#8080f6"/>
<rect x="221.14" y="67.31" width="2.1" height="1.8" fill="#8080f6"/>
<rect x="224.71" y="61.1" width="2.1" height="1.8" fill="#8080f6"/>
<rect x="227.97" y="58.93" width="2.1" height="1.8" fill="#8080f6"/>
<rect x="231.69" y="75.22" width="2.1" height="1.8" fill="#8080f6"/>
<rect x="235.11" y="70.88" width="2.1" height="1.8" fill="#8080f6"/>
<rect x="238.83" y="75.07" width="2.1" height="1.8" fill="#8080f6"/>
<rect x="242.24" y="71.96" width="2.1" height="1.8" fill="#8080f6"/>
<rect x="245.81" y="76" width="2.1" height="1.8" fill="#8080f6"/>
<rect x="249.38" y="72.12" width="2.1" height="1.8" fill="#8080f6"/>
<rect x="252.95" y="76.31" width="2.1" height="1.8" fill="#8080f6"/>
<rect x="256.36" y="46.36" width="2.1" height="1.8" fill="#8080f6"/>
<rect x="259.93" y="56.44" width="2.1" height="1.8" fill="#8080f6"/>
<rect x="263.5" y="65.44" width="2.1" height="1.8" fill="#8080f6"/>
<rect x="266.92" y="51.32" width="2.1" height="1.8" fill="#8080f6"/>
<line x1="212.1" y1="17.5" x2="212.1" y2="130.4" stroke="#5ea45a" stroke-width="0.8" stroke-dasharray="1.1 1.5"/>
<rect x="74" y="17.5" width="196.4" height="112.9" fill="none" stroke="#c8c8c8" stroke-width="1.2"/>
<line x1="81.23" y1="130.4" x2="81.23" y2="132" stroke="#aaa" stroke-width="0.6"/>
<line x1="123.16" y1="130.4" x2="123.16" y2="132" stroke="#aaa" stroke-width="0.6"/>
<line x1="165.42" y1="130.4" x2="165.42" y2="132" stroke="#aaa" stroke-width="0.6"/>
<line x1="207.67" y1="130.4" x2="207.67" y2="132" stroke="#aaa" stroke-width="0.6"/>
<line x1="249.61" y1="130.4" x2="249.61" y2="132" stroke="#aaa" stroke-width="0.6"/>
<text x="81.23" y="136.2" font-size="3.9" text-anchor="middle" fill="#333" font-weight="bold" textLength="8.5" lengthAdjust="spacingAndGlyphs">2017</text>
<text x="123.16" y="136.2" font-size="3.9" text-anchor="middle" fill="#333" font-weight="bold" textLength="8.5" lengthAdjust="spacingAndGlyphs">2018</text>
<text x="165.42" y="136.2" font-size="3.9" text-anchor="middle" fill="#333" font-weight="bold" textLength="8.5" lengthAdjust="spacingAndGlyphs">2019</text>
<text x="207.67" y="136.2" font-size="3.9" text-anchor="middle" fill="#333" font-weight="bold" textLength="8.5" lengthAdjust="spacingAndGlyphs">2020</text>
<text x="249.61" y="136.2" font-size="3.9" text-anchor="middle" fill="#333" font-weight="bold" textLength="8.5" lengthAdjust="spacingAndGlyphs">2021</text>
<text x="172.2" y="142.7" font-size="3.9" text-anchor="middle" fill="#333" font-weight="bold" textLength="7.9" lengthAdjust="spacingAndGlyphs">Year</text>
<line x1="72.4" y1="30.7" x2="74" y2="30.7" stroke="#aaa" stroke-width="0.6"/>
<text x="70" y="30.7" font-size="4.5" text-anchor="middle" fill="#1a1a1a" textLength="4.9" lengthAdjust="spacingAndGlyphs" transform="rotate(-90 70 30.7)">100</text>
<line x1="72.4" y1="48.05" x2="74" y2="48.05" stroke="#aaa" stroke-width="0.6"/>
<text x="70" y="48.05" font-size="4.5" text-anchor="middle" fill="#1a1a1a" textLength="3.8" lengthAdjust="spacingAndGlyphs" transform="rotate(-90 70 48.05)">90</text>
<line x1="72.4" y1="65.39" x2="74" y2="65.39" stroke="#aaa" stroke-width="0.6"/>
<text x="70" y="65.39" font-size="4.5" text-anchor="middle" fill="#1a1a1a" textLength="3.8" lengthAdjust="spacingAndGlyphs" transform="rotate(-90 70 65.39)">80</text>
<line x1="72.4" y1="82.73" x2="74" y2="82.73" stroke="#aaa" stroke-width="0.6"/>
<text x="70" y="82.73" font-size="4.5" text-anchor="middle" fill="#1a1a1a" textLength="3.8" lengthAdjust="spacingAndGlyphs" transform="rotate(-90 70 82.73)">70</text>
<line x1="72.4" y1="99.76" x2="74" y2="99.76" stroke="#aaa" stroke-width="0.6"/>
<text x="70" y="99.76" font-size="4.5" text-anchor="middle" fill="#1a1a1a" textLength="3.8" lengthAdjust="spacingAndGlyphs" transform="rotate(-90 70 99.76)">60</text>
<line x1="72.4" y1="117.42" x2="74" y2="117.42" stroke="#aaa" stroke-width="0.6"/>
<text x="70" y="117.42" font-size="4.5" text-anchor="middle" fill="#1a1a1a" textLength="3.8" lengthAdjust="spacingAndGlyphs" transform="rotate(-90 70 117.42)">50</text>
<text x="63.2" y="73.95" font-size="4" text-anchor="middle" fill="#111" textLength="64.81" lengthAdjust="spacingAndGlyphs" transform="rotate(-90 63.2 73.95)">Overall psychiatric disorders (per 100,000)</text>
<text x="171.5" y="13.3" font-size="4.4" text-anchor="middle" font-weight="bold" textLength="50.64" lengthAdjust="spacingAndGlyphs">Overall psychiatric disorders</text>
<polygon points="421.19,50.03 424.29,46.93 427.4,44.6 430.97,42.28 434.38,46.93 437.48,38.86 440.59,41.19 444.47,41.97 448.03,41.97 451.14,41.5 454.55,37.62 457.66,37.31 461.07,34.52 464.64,32.97 468.52,31.72 471.62,30.64 475.03,29.86 475.03,98.91 471.62,97.36 468.52,96.28 464.64,95.03 461.07,93.48 457.66,89.6 454.55,88.52 451.14,90.38 448.03,87.28 444.47,86.5 440.59,84.95 437.48,82.62 434.38,87.28 430.97,81.84 427.4,83.4 424.29,84.48 421.19,86.03" fill="#dadae0"/>
<polyline points="295.38,116.91 299.33,113.26 302.36,109.92 305.4,107.49 309.05,106.88 312.39,103.24 316.03,98.69 319.67,95.65 323.01,95.04 326.05,98.69 329.69,100.2 332.73,100.81 335.77,101.72 338.8,91.09 342.45,93.52 345.79,91.7 349.43,87.45 352.47,80.47 355.5,81.38 359.45,80.47 362.49,81.99 366.13,92.61 369.78,85.02 373.12,83.5 376.76,74.39 379.8,87.45 383.44,76.52 386.78,76.52 390.42,71.36 393.46,73.48 397.1,69.23 400.44,65.28 403.48,74.39 407.12,64.37 410.77,68.32 413.8,71.96 417.14,68.32 421.19,68.66" fill="none" stroke="#2a2a2a" stroke-width="0.8" stroke-linejoin="round"/>
<polyline points="421.19,68.66 424.29,66.33 427.4,64 430.97,62.14 434.38,66.33 437.48,60.12 440.59,63.22 444.47,64.78 448.03,65.24 451.14,66.33 454.55,63.53 457.66,63.53 461.07,64.31 475.03,64.31" fill="none" stroke="#d9746a" stroke-width="0.75" stroke-linejoin="round"/>
<rect x="294.33" y="116.01" width="2.1" height="1.8" fill="#8080f6"/>
<rect x="297.67" y="107.5" width="2.1" height="1.8" fill="#8080f6"/>
<rect x="301.01" y="100.82" width="2.1" height="1.8" fill="#8080f6"/>
<rect x="304.35" y="106.9" width="2.1" height="1.8" fill="#8080f6"/>
<rect x="307.69" y="102.64" width="2.1" height="1.8" fill="#8080f6"/>
<rect x="311.03" y="88.98" width="2.1" height="1.8" fill="#8080f6"/>
<rect x="314.37" y="88.68" width="2.1" height="1.8" fill="#8080f6"/>
<rect x="317.71" y="88.98" width="2.1" height="1.8" fill="#8080f6"/>
<rect x="321.05" y="92.02" width="2.1" height="1.8" fill="#8080f6"/>
<rect x="324.39" y="109.93" width="2.1" height="1.8" fill="#8080f6"/>
<rect x="327.73" y="98.7" width="2.1" height="1.8" fill="#8080f6"/>
<rect x="331.07" y="100.22" width="2.1" height="1.8" fill="#8080f6"/>
<rect x="334.72" y="79.26" width="2.1" height="1.8" fill="#8080f6"/>
<rect x="338.06" y="105.98" width="2.1" height="1.8" fill="#8080f6"/>
<rect x="341.4" y="78.66" width="2.1" height="1.8" fill="#8080f6"/>
<rect x="344.74" y="84.12" width="2.1" height="1.8" fill="#8080f6"/>
<rect x="348.08" y="80.48" width="2.1" height="1.8" fill="#8080f6"/>
<rect x="351.42" y="87.77" width="2.1" height="1.8" fill="#8080f6"/>
<rect x="354.76" y="78.05" width="2.1" height="1.8" fill="#8080f6"/>
<rect x="358.4" y="78.66" width="2.1" height="1.8" fill="#8080f6"/>
<rect x="361.44" y="95.66" width="2.1" height="1.8" fill="#8080f6"/>
<rect x="365.08" y="77.44" width="2.1" height="1.8" fill="#8080f6"/>
<rect x="368.42" y="79.57" width="2.1" height="1.8" fill="#8080f6"/>
<rect x="371.76" y="86.25" width="2.1" height="1.8" fill="#8080f6"/>
<rect x="375.41" y="70.76" width="2.1" height="1.8" fill="#8080f6"/>
<rect x="378.75" y="87.77" width="2.1" height="1.8" fill="#8080f6"/>
<rect x="382.09" y="71.06" width="2.1" height="1.8" fill="#8080f6"/>
<rect x="385.43" y="66.81" width="2.1" height="1.8" fill="#8080f6"/>
<rect x="388.77" y="61.35" width="2.1" height="1.8" fill="#8080f6"/>
<rect x="392.11" y="77.14" width="2.1" height="1.8" fill="#8080f6"/>
<rect x="395.45" y="58.92" width="2.1" height="1.8" fill="#8080f6"/>
<rect x="398.79" y="65.9" width="2.1" height="1.8" fill="#8080f6"/>
<rect x="402.43" y="77.44" width="2.1" height="1.8" fill="#8080f6"/>
<rect x="405.77" y="66.51" width="2.1" height="1.8" fill="#8080f6"/>
<rect x="409.41" y="70.76" width="2.1" height="1.8" fill="#8080f6"/>
<rect x="412.75" y="67.12" width="2.1" height="1.8" fill="#8080f6"/>
<rect x="416.09" y="65.9" width="2.1" height="1.8" fill="#8080f6"/>
<rect x="419.83" y="77.84" width="2.1" height="1.8" fill="#8080f6"/>
<rect x="423.09" y="78.31" width="2.1" height="1.8" fill="#8080f6"/>
<rect x="426.5" y="80.17" width="2.1" height="1.8" fill="#8080f6"/>
<rect x="429.92" y="65.58" width="2.1" height="1.8" fill="#8080f6"/>
<rect x="433.33" y="60" width="2.1" height="1.8" fill="#8080f6"/>
<rect x="436.59" y="62.01" width="2.1" height="1.8" fill="#8080f6"/>
<rect x="439.85" y="74.89" width="2.1" height="1.8" fill="#8080f6"/>
<rect x="443.42" y="75.67" width="2.1" height="1.8" fill="#8080f6"/>
<rect x="446.98" y="77.07" width="2.1" height="1.8" fill="#8080f6"/>
<rect x="450.24" y="72.1" width="2.1" height="1.8" fill="#8080f6"/>
<rect x="453.5" y="74.89" width="2.1" height="1.8" fill="#8080f6"/>
<rect x="456.92" y="72.88" width="2.1" height="1.8" fill="#8080f6"/>
<rect x="460.48" y="77.07" width="2.1" height="1.8" fill="#8080f6"/>
<rect x="463.9" y="49.13" width="2.1" height="1.8" fill="#8080f6"/>
<rect x="467.16" y="60" width="2.1" height="1.8" fill="#8080f6"/>
<rect x="470.57" y="67.76" width="2.1" height="1.8" fill="#8080f6"/>
<rect x="473.98" y="55.34" width="2.1" height="1.8" fill="#8080f6"/>
<line x1="420.72" y1="19.2" x2="420.72" y2="130.5" stroke="#5ea45a" stroke-width="0.8" stroke-dasharray="1.1 1.5"/>
<rect x="288.6" y="19.2" width="188.8" height="111.3" fill="none" stroke="#c8c8c8" stroke-width="1.2"/>
<line x1="295.38" y1="130.5" x2="295.38" y2="132.1" stroke="#aaa" stroke-width="0.6"/>
<line x1="335.77" y1="130.5" x2="335.77" y2="132.1" stroke="#aaa" stroke-width="0.6"/>
<line x1="376.76" y1="130.5" x2="376.76" y2="132.1" stroke="#aaa" stroke-width="0.6"/>
<line x1="417.14" y1="130.5" x2="417.14" y2="132.1" stroke="#aaa" stroke-width="0.6"/>
<line x1="457.83" y1="130.5" x2="457.83" y2="132.1" stroke="#aaa" stroke-width="0.6"/>
<text x="295.38" y="136.3" font-size="3.9" text-anchor="middle" fill="#333" font-weight="bold" textLength="8.5" lengthAdjust="spacingAndGlyphs">2017</text>
<text x="335.77" y="136.3" font-size="3.9" text-anchor="middle" fill="#333" font-weight="bold" textLength="8.5" lengthAdjust="spacingAndGlyphs">2018</text>
<text x="376.76" y="136.3" font-size="3.9" text-anchor="middle" fill="#333" font-weight="bold" textLength="8.5" lengthAdjust="spacingAndGlyphs">2019</text>
<text x="417.14" y="136.3" font-size="3.9" text-anchor="middle" fill="#333" font-weight="bold" textLength="8.5" lengthAdjust="spacingAndGlyphs">2020</text>
<text x="457.83" y="136.3" font-size="3.9" text-anchor="middle" fill="#333" font-weight="bold" textLength="8.5" lengthAdjust="spacingAndGlyphs">2021</text>
<text x="383" y="142.8" font-size="3.9" text-anchor="middle" fill="#333" font-weight="bold" textLength="7.9" lengthAdjust="spacingAndGlyphs">Year</text>
<line x1="287" y1="31.28" x2="288.6" y2="31.28" stroke="#aaa" stroke-width="0.6"/>
<text x="284.6" y="31.28" font-size="4.5" text-anchor="middle" fill="#1a1a1a" textLength="4.9" lengthAdjust="spacingAndGlyphs" transform="rotate(-90 284.6 31.28)">100</text>
<line x1="287" y1="48.58" x2="288.6" y2="48.58" stroke="#aaa" stroke-width="0.6"/>
<text x="284.6" y="48.58" font-size="4.5" text-anchor="middle" fill="#1a1a1a" textLength="3.8" lengthAdjust="spacingAndGlyphs" transform="rotate(-90 284.6 48.58)">90</text>
<line x1="287" y1="65.89" x2="288.6" y2="65.89" stroke="#aaa" stroke-width="0.6"/>
<text x="284.6" y="65.89" font-size="4.5" text-anchor="middle" fill="#1a1a1a" textLength="3.8" lengthAdjust="spacingAndGlyphs" transform="rotate(-90 284.6 65.89)">80</text>
<line x1="287" y1="83.2" x2="288.6" y2="83.2" stroke="#aaa" stroke-width="0.6"/>
<text x="284.6" y="83.2" font-size="4.5" text-anchor="middle" fill="#1a1a1a" textLength="3.8" lengthAdjust="spacingAndGlyphs" transform="rotate(-90 284.6 83.2)">70</text>
<line x1="287" y1="100.51" x2="288.6" y2="100.51" stroke="#aaa" stroke-width="0.6"/>
<text x="284.6" y="100.51" font-size="4.5" text-anchor="middle" fill="#1a1a1a" textLength="3.8" lengthAdjust="spacingAndGlyphs" transform="rotate(-90 284.6 100.51)">60</text>
<line x1="287" y1="117.82" x2="288.6" y2="117.82" stroke="#aaa" stroke-width="0.6"/>
<text x="284.6" y="117.82" font-size="4.5" text-anchor="middle" fill="#1a1a1a" textLength="3.8" lengthAdjust="spacingAndGlyphs" transform="rotate(-90 284.6 117.82)">50</text>
<text x="277.8" y="74.85" font-size="4" text-anchor="middle" fill="#111" textLength="64.81" lengthAdjust="spacingAndGlyphs" transform="rotate(-90 277.8 74.85)">Overall psychiatric disorders (per 100,000)</text>
<text x="382.8" y="14.3" font-size="4.4" text-anchor="middle" font-weight="bold" textLength="58.66" lengthAdjust="spacingAndGlyphs">Overall psychiatric disorders, Male</text>
<polygon points="626.97,65.1 629.29,56.57 632.4,51.14 635.97,46.48 639.38,43.38 642.48,35.62 645.9,32.52 649.47,31.74 653.03,30.97 656.14,32.52 659.55,31.74 662.66,29.41 666.07,25.53 669.64,22.43 673.52,20.1 676.62,18.86 679.72,18.55 679.72,110.1 676.62,107.78 673.52,105.45 669.64,102.34 666.07,99.24 662.66,95.36 659.55,93.03 656.14,92.26 653.03,89.16 649.47,88.38 645.9,88.69 642.48,86.83 639.38,93.03 635.97,89.93 632.4,92.26 629.29,94.28 626.97,96.14" fill="#dadae0"/>
<polyline points="502.45,125.69 506.34,123.3 509.93,119.11 512.92,115.22 515.91,113.12 518.91,108.34 521.9,103.25 524.89,100.26 528.48,98.16 531.47,100.26 533.87,106.24 536.86,108.34 539.85,107.74 542.85,106.24 545.84,98.16 549.43,100.26 552.72,97.26 556.31,92.18 559.31,85.29 562.3,89.18 565.89,89.78 569.18,89.78 572.77,104.74 575.77,94.27 579.66,95.77 583.25,86.79 586.24,105.34 589.23,94.27 592.82,92.77 596.72,86.79 599.71,88.28 603.3,82.3 606.59,79.31 610.18,85.29 613.18,68.23 616.77,71.82 619.76,77.21 623.05,78.41 626.97,79.84" fill="none" stroke="#2a2a2a" stroke-width="0.8" stroke-linejoin="round"/>
<polyline points="626.97,79.84 629.29,75.97 632.4,71.31 635.97,67.9 639.38,70.07 642.79,61.22 645.9,62.78 649.47,60.45 653.03,59.21 656.14,62.78 659.55,61.69 662.66,63.86 666.07,62.78 679.72,62.78" fill="none" stroke="#d9746a" stroke-width="0.75" stroke-linejoin="round"/>
<rect x="501.4" y="124.79" width="2.1" height="1.8" fill="#8080f6"/>
<rect x="504.69" y="118.21" width="2.1" height="1.8" fill="#8080f6"/>
<rect x="507.98" y="108.33" width="2.1" height="1.8" fill="#8080f6"/>
<rect x="511.27" y="112.82" width="2.1" height="1.8" fill="#8080f6"/>
<rect x="514.56" y="107.44" width="2.1" height="1.8" fill="#8080f6"/>
<rect x="517.86" y="92.47" width="2.1" height="1.8" fill="#8080f6"/>
<rect x="521.15" y="96.36" width="2.1" height="1.8" fill="#8080f6"/>
<rect x="524.44" y="98.46" width="2.1" height="1.8" fill="#8080f6"/>
<rect x="527.73" y="92.47" width="2.1" height="1.8" fill="#8080f6"/>
<rect x="531.02" y="116.41" width="2.1" height="1.8" fill="#8080f6"/>
<rect x="534.61" y="106.84" width="2.1" height="1.8" fill="#8080f6"/>
<rect x="537.91" y="109.23" width="2.1" height="1.8" fill="#8080f6"/>
<rect x="541.5" y="90.08" width="2.1" height="1.8" fill="#8080f6"/>
<rect x="544.79" y="113.42" width="2.1" height="1.8" fill="#8080f6"/>
<rect x="548.08" y="88.88" width="2.1" height="1.8" fill="#8080f6"/>
<rect x="551.37" y="93.37" width="2.1" height="1.8" fill="#8080f6"/>
<rect x="554.67" y="88.88" width="2.1" height="1.8" fill="#8080f6"/>
<rect x="557.96" y="91.87" width="2.1" height="1.8" fill="#8080f6"/>
<rect x="561.55" y="86.49" width="2.1" height="1.8" fill="#8080f6"/>
<rect x="564.84" y="91.87" width="2.1" height="1.8" fill="#8080f6"/>
<rect x="568.13" y="100.85" width="2.1" height="1.8" fill="#8080f6"/>
<rect x="571.42" y="88.88" width="2.1" height="1.8" fill="#8080f6"/>
<rect x="574.72" y="92.47" width="2.1" height="1.8" fill="#8080f6"/>
<rect x="578.01" y="101.45" width="2.1" height="1.8" fill="#8080f6"/>
<rect x="581.6" y="87.38" width="2.1" height="1.8" fill="#8080f6"/>
<rect x="584.89" y="108.33" width="2.1" height="1.8" fill="#8080f6"/>
<rect x="588.18" y="88.88" width="2.1" height="1.8" fill="#8080f6"/>
<rect x="591.48" y="83.49" width="2.1" height="1.8" fill="#8080f6"/>
<rect x="594.77" y="78.41" width="2.1" height="1.8" fill="#8080f6"/>
<rect x="598.06" y="88.28" width="2.1" height="1.8" fill="#8080f6"/>
<rect x="601.35" y="70.33" width="2.1" height="1.8" fill="#8080f6"/>
<rect x="604.64" y="75.41" width="2.1" height="1.8" fill="#8080f6"/>
<rect x="608.23" y="79.3" width="2.1" height="1.8" fill="#8080f6"/>
<rect x="611.53" y="62.55" width="2.1" height="1.8" fill="#8080f6"/>
<rect x="615.12" y="72.42" width="2.1" height="1.8" fill="#8080f6"/>
<rect x="618.41" y="76.31" width="2.1" height="1.8" fill="#8080f6"/>
<rect x="621.7" y="79.3" width="2.1" height="1.8" fill="#8080f6"/>
<rect x="625.45" y="88.26" width="2.1" height="1.8" fill="#8080f6"/>
<rect x="628.55" y="84.07" width="2.1" height="1.8" fill="#8080f6"/>
<rect x="631.97" y="84.07" width="2.1" height="1.8" fill="#8080f6"/>
<rect x="635.23" y="70.1" width="2.1" height="1.8" fill="#8080f6"/>
<rect x="638.64" y="62.34" width="2.1" height="1.8" fill="#8080f6"/>
<rect x="641.9" y="56.91" width="2.1" height="1.8" fill="#8080f6"/>
<rect x="645" y="76.93" width="2.1" height="1.8" fill="#8080f6"/>
<rect x="648.73" y="67" width="2.1" height="1.8" fill="#8080f6"/>
<rect x="651.98" y="74.29" width="2.1" height="1.8" fill="#8080f6"/>
<rect x="655.24" y="72.43" width="2.1" height="1.8" fill="#8080f6"/>
<rect x="658.66" y="77.86" width="2.1" height="1.8" fill="#8080f6"/>
<rect x="661.92" y="72.74" width="2.1" height="1.8" fill="#8080f6"/>
<rect x="665.33" y="76.62" width="2.1" height="1.8" fill="#8080f6"/>
<rect x="668.74" y="44.81" width="2.1" height="1.8" fill="#8080f6"/>
<rect x="672.16" y="53.81" width="2.1" height="1.8" fill="#8080f6"/>
<rect x="675.26" y="64.2" width="2.1" height="1.8" fill="#8080f6"/>
<rect x="678.67" y="48.22" width="2.1" height="1.8" fill="#8080f6"/>
<line x1="626.66" y1="18.5" x2="626.66" y2="130.2" stroke="#5ea45a" stroke-width="0.8" stroke-dasharray="1.1 1.5"/>
<rect x="495.6" y="18.5" width="186.4" height="111.7" fill="none" stroke="#c8c8c8" stroke-width="1.2"/>
<line x1="502.45" y1="130.2" x2="502.45" y2="131.8" stroke="#aaa" stroke-width="0.6"/>
<line x1="542.85" y1="130.2" x2="542.85" y2="131.8" stroke="#aaa" stroke-width="0.6"/>
<line x1="582.95" y1="130.2" x2="582.95" y2="131.8" stroke="#aaa" stroke-width="0.6"/>
<line x1="623.05" y1="130.2" x2="623.05" y2="131.8" stroke="#aaa" stroke-width="0.6"/>
<line x1="663.15" y1="130.2" x2="663.15" y2="131.8" stroke="#aaa" stroke-width="0.6"/>
<text x="502.45" y="136" font-size="3.9" text-anchor="middle" fill="#333" font-weight="bold" textLength="8.5" lengthAdjust="spacingAndGlyphs">2017</text>
<text x="542.85" y="136" font-size="3.9" text-anchor="middle" fill="#333" font-weight="bold" textLength="8.5" lengthAdjust="spacingAndGlyphs">2018</text>
<text x="582.95" y="136" font-size="3.9" text-anchor="middle" fill="#333" font-weight="bold" textLength="8.5" lengthAdjust="spacingAndGlyphs">2019</text>
<text x="623.05" y="136" font-size="3.9" text-anchor="middle" fill="#333" font-weight="bold" textLength="8.5" lengthAdjust="spacingAndGlyphs">2020</text>
<text x="663.15" y="136" font-size="3.9" text-anchor="middle" fill="#333" font-weight="bold" textLength="8.5" lengthAdjust="spacingAndGlyphs">2021</text>
<text x="588.8" y="142.5" font-size="3.9" text-anchor="middle" fill="#333" font-weight="bold" textLength="7.9" lengthAdjust="spacingAndGlyphs">Year</text>
<line x1="494" y1="31.12" x2="495.6" y2="31.12" stroke="#aaa" stroke-width="0.6"/>
<text x="491.6" y="31.12" font-size="4.5" text-anchor="middle" fill="#1a1a1a" textLength="4.9" lengthAdjust="spacingAndGlyphs" transform="rotate(-90 491.6 31.12)">100</text>
<line x1="494" y1="48.18" x2="495.6" y2="48.18" stroke="#aaa" stroke-width="0.6"/>
<text x="491.6" y="48.18" font-size="4.5" text-anchor="middle" fill="#1a1a1a" textLength="3.8" lengthAdjust="spacingAndGlyphs" transform="rotate(-90 491.6 48.18)">90</text>
<line x1="494" y1="65.24" x2="495.6" y2="65.24" stroke="#aaa" stroke-width="0.6"/>
<text x="491.6" y="65.24" font-size="4.5" text-anchor="middle" fill="#1a1a1a" textLength="3.8" lengthAdjust="spacingAndGlyphs" transform="rotate(-90 491.6 65.24)">80</text>
<line x1="494" y1="82.3" x2="495.6" y2="82.3" stroke="#aaa" stroke-width="0.6"/>
<text x="491.6" y="82.3" font-size="4.5" text-anchor="middle" fill="#1a1a1a" textLength="3.8" lengthAdjust="spacingAndGlyphs" transform="rotate(-90 491.6 82.3)">70</text>
<line x1="494" y1="99.36" x2="495.6" y2="99.36" stroke="#aaa" stroke-width="0.6"/>
<text x="491.6" y="99.36" font-size="4.5" text-anchor="middle" fill="#1a1a1a" textLength="3.8" lengthAdjust="spacingAndGlyphs" transform="rotate(-90 491.6 99.36)">60</text>
<line x1="494" y1="116.72" x2="495.6" y2="116.72" stroke="#aaa" stroke-width="0.6"/>
<text x="491.6" y="116.72" font-size="4.5" text-anchor="middle" fill="#1a1a1a" textLength="3.8" lengthAdjust="spacingAndGlyphs" transform="rotate(-90 491.6 116.72)">50</text>
<text x="484.8" y="74.35" font-size="4" text-anchor="middle" fill="#111" textLength="64.81" lengthAdjust="spacingAndGlyphs" transform="rotate(-90 484.8 74.35)">Overall psychiatric disorders (per 100,000)</text>
<text x="589.2" y="13.5" font-size="4.4" text-anchor="middle" font-weight="bold" textLength="62.37" lengthAdjust="spacingAndGlyphs">Overall psychiatric disorders, Female</text>
<polygon points="212.1,227.84 215.21,219.31 218.62,219 222.19,214.97 225.6,219.62 229.17,214.34 232.59,211.24 236.16,217.76 239.57,218.07 243.14,220.55 246.55,218.53 249.97,221.64 253.53,224.74 257.1,218.53 260.52,218.53 263.93,213.41 267.5,216.21 268.28,216.98 268.28,228.62 267.5,227.07 263.93,225.52 260.52,230.95 257.1,230.95 253.53,237.93 249.97,232.5 246.55,229.4 243.14,230.95 239.57,228.93 236.16,229.86 232.59,223.19 229.17,225.52 225.6,230.95 222.19,226.29 218.62,229.86 215.21,229.4 212.1,233.28" fill="#dadae0"/>
<polyline points="80.6,230.56 83.75,228.35 87.53,227.72 90.69,226.46 93.84,222.68 97.62,219.53 101.41,215.74 104.88,218.89 108.34,218.89 112.13,226.78 115.91,226.46 119.07,222.68 122.85,229.62 126.95,228.35 130.73,226.46 134.2,225.2 137.99,222.05 141.14,219.53 144.92,216.37 148.08,217.95 151.86,225.83 155.33,225.83 158.48,225.2 161.95,223.31 165.73,227.41 168.89,230.56 172.67,225.83 176.46,225.83 179.92,222.05 183.39,221.1 186.86,217.95 190.65,216.37 193.8,222.68 197.27,224.26 201.05,226.46 204.2,223.31 207.99,225.83 211.79,231.72" fill="none" stroke="#2a2a2a" stroke-width="0.8" stroke-linejoin="round"/>
<polyline points="211.79,231.72 215.21,224.43 218.62,224.74 222.19,220.09 225.6,224.28 229.17,218.53 232.59,216.67 236.16,224.28 239.57,223.19 243.14,225.98 246.55,223.97 249.97,227.07 254,232.03 257.41,225.21 260.52,225.21 264.4,219.62 268.28,224.28" fill="none" stroke="#d9746a" stroke-width="0.75" stroke-linejoin="round"/>
<rect x="79.55" y="229.66" width="2.1" height="1.8" fill="#8080f6"/>
<rect x="83.01" y="226.82" width="2.1" height="1.8" fill="#8080f6"/>
<rect x="86.48" y="226.82" width="2.1" height="1.8" fill="#8080f6"/>
<rect x="89.95" y="225.56" width="2.1" height="1.8" fill="#8080f6"/>
<rect x="93.42" y="221.78" width="2.1" height="1.8" fill="#8080f6"/>
<rect x="96.89" y="218.94" width="2.1" height="1.8" fill="#8080f6"/>
<rect x="100.36" y="214.84" width="2.1" height="1.8" fill="#8080f6"/>
<rect x="103.83" y="218.63" width="2.1" height="1.8" fill="#8080f6"/>
<rect x="107.29" y="217.99" width="2.1" height="1.8" fill="#8080f6"/>
<rect x="111.08" y="226.51" width="2.1" height="1.8" fill="#8080f6"/>
<rect x="114.55" y="225.88" width="2.1" height="1.8" fill="#8080f6"/>
<rect x="118.02" y="221.78" width="2.1" height="1.8" fill="#8080f6"/>
<rect x="121.8" y="222.72" width="2.1" height="1.8" fill="#8080f6"/>
<rect x="125.27" y="231.24" width="2.1" height="1.8" fill="#8080f6"/>
<rect x="128.74" y="221.78" width="2.1" height="1.8" fill="#8080f6"/>
<rect x="132.21" y="222.72" width="2.1" height="1.8" fill="#8080f6"/>
<rect x="135.99" y="221.15" width="2.1" height="1.8" fill="#8080f6"/>
<rect x="139.46" y="222.72" width="2.1" height="1.8" fill="#8080f6"/>
<rect x="142.93" y="217.99" width="2.1" height="1.8" fill="#8080f6"/>
<rect x="146.4" y="216.1" width="2.1" height="1.8" fill="#8080f6"/>
<rect x="149.86" y="225.56" width="2.1" height="1.8" fill="#8080f6"/>
<rect x="153.33" y="225.56" width="2.1" height="1.8" fill="#8080f6"/>
<rect x="156.8" y="224.93" width="2.1" height="1.8" fill="#8080f6"/>
<rect x="160.59" y="222.41" width="2.1" height="1.8" fill="#8080f6"/>
<rect x="164.05" y="226.51" width="2.1" height="1.8" fill="#8080f6"/>
<rect x="167.52" y="231.24" width="2.1" height="1.8" fill="#8080f6"/>
<rect x="170.99" y="224.93" width="2.1" height="1.8" fill="#8080f6"/>
<rect x="174.77" y="224.93" width="2.1" height="1.8" fill="#8080f6"/>
<rect x="178.24" y="217.99" width="2.1" height="1.8" fill="#8080f6"/>
<rect x="181.71" y="223.67" width="2.1" height="1.8" fill="#8080f6"/>
<rect x="185.5" y="217.05" width="2.1" height="1.8" fill="#8080f6"/>
<rect x="188.96" y="215.47" width="2.1" height="1.8" fill="#8080f6"/>
<rect x="192.43" y="222.41" width="2.1" height="1.8" fill="#8080f6"/>
<rect x="195.9" y="220.83" width="2.1" height="1.8" fill="#8080f6"/>
<rect x="199.69" y="225.56" width="2.1" height="1.8" fill="#8080f6"/>
<rect x="203.15" y="222.41" width="2.1" height="1.8" fill="#8080f6"/>
<rect x="206.62" y="224.93" width="2.1" height="1.8" fill="#8080f6"/>
<rect x="210.74" y="234.24" width="2.1" height="1.8" fill="#8080f6"/>
<rect x="214" y="242" width="2.1" height="1.8" fill="#8080f6"/>
<rect x="217.57" y="236.26" width="2.1" height="1.8" fill="#8080f6"/>
<rect x="221.14" y="227.41" width="2.1" height="1.8" fill="#8080f6"/>
<rect x="224.71" y="227.72" width="2.1" height="1.8" fill="#8080f6"/>
<rect x="228.28" y="227.1" width="2.1" height="1.8" fill="#8080f6"/>
<rect x="231.85" y="229.27" width="2.1" height="1.8" fill="#8080f6"/>
<rect x="235.42" y="234.7" width="2.1" height="1.8" fill="#8080f6"/>
<rect x="238.98" y="233.31" width="2.1" height="1.8" fill="#8080f6"/>
<rect x="242.4" y="234.55" width="2.1" height="1.8" fill="#8080f6"/>
<rect x="245.97" y="240.76" width="2.1" height="1.8" fill="#8080f6"/>
<rect x="249.54" y="242" width="2.1" height="1.8" fill="#8080f6"/>
<rect x="252.95" y="241.07" width="2.1" height="1.8" fill="#8080f6"/>
<rect x="256.67" y="233.62" width="2.1" height="1.8" fill="#8080f6"/>
<rect x="260.09" y="233.93" width="2.1" height="1.8" fill="#8080f6"/>
<rect x="263.66" y="235.01" width="2.1" height="1.8" fill="#8080f6"/>
<rect x="267.23" y="231.91" width="2.1" height="1.8" fill="#8080f6"/>
<line x1="211.79" y1="165.3" x2="211.79" y2="278.7" stroke="#5ea45a" stroke-width="0.8" stroke-dasharray="1.1 1.5"/>
<rect x="72.6" y="165.3" width="197.8" height="113.4" fill="none" stroke="#c8c8c8" stroke-width="1.2"/>
<line x1="80.6" y1="278.7" x2="80.6" y2="280.3" stroke="#aaa" stroke-width="0.6"/>
<line x1="122.53" y1="278.7" x2="122.53" y2="280.3" stroke="#aaa" stroke-width="0.6"/>
<line x1="165.1" y1="278.7" x2="165.1" y2="280.3" stroke="#aaa" stroke-width="0.6"/>
<line x1="207.67" y1="278.7" x2="207.67" y2="280.3" stroke="#aaa" stroke-width="0.6"/>
<line x1="250.56" y1="278.7" x2="250.56" y2="280.3" stroke="#aaa" stroke-width="0.6"/>
<text x="80.6" y="284.5" font-size="3.9" text-anchor="middle" fill="#333" font-weight="bold" textLength="8.5" lengthAdjust="spacingAndGlyphs">2017</text>
<text x="122.53" y="284.5" font-size="3.9" text-anchor="middle" fill="#333" font-weight="bold" textLength="8.5" lengthAdjust="spacingAndGlyphs">2018</text>
<text x="165.1" y="284.5" font-size="3.9" text-anchor="middle" fill="#333" font-weight="bold" textLength="8.5" lengthAdjust="spacingAndGlyphs">2019</text>
<text x="207.67" y="284.5" font-size="3.9" text-anchor="middle" fill="#333" font-weight="bold" textLength="8.5" lengthAdjust="spacingAndGlyphs">2020</text>
<text x="250.56" y="284.5" font-size="3.9" text-anchor="middle" fill="#333" font-weight="bold" textLength="8.5" lengthAdjust="spacingAndGlyphs">2021</text>
<text x="171.5" y="291" font-size="3.9" text-anchor="middle" fill="#333" font-weight="bold" textLength="7.9" lengthAdjust="spacingAndGlyphs">Year</text>
<line x1="71" y1="177.59" x2="72.6" y2="177.59" stroke="#aaa" stroke-width="0.6"/>
<text x="68.6" y="177.59" font-size="4.5" text-anchor="middle" fill="#1a1a1a" textLength="2.1" lengthAdjust="spacingAndGlyphs" transform="rotate(-90 68.6 177.59)">6</text>
<line x1="71" y1="193.67" x2="72.6" y2="193.67" stroke="#aaa" stroke-width="0.6"/>
<text x="68.6" y="193.67" font-size="4.5" text-anchor="middle" fill="#1a1a1a" textLength="2.1" lengthAdjust="spacingAndGlyphs" transform="rotate(-90 68.6 193.67)">5</text>
<line x1="71" y1="210.07" x2="72.6" y2="210.07" stroke="#aaa" stroke-width="0.6"/>
<text x="68.6" y="210.07" font-size="4.5" text-anchor="middle" fill="#1a1a1a" textLength="2.1" lengthAdjust="spacingAndGlyphs" transform="rotate(-90 68.6 210.07)">4</text>
<line x1="71" y1="225.83" x2="72.6" y2="225.83" stroke="#aaa" stroke-width="0.6"/>
<text x="68.6" y="225.83" font-size="4.5" text-anchor="middle" fill="#1a1a1a" textLength="2.1" lengthAdjust="spacingAndGlyphs" transform="rotate(-90 68.6 225.83)">3</text>
<line x1="71" y1="242.23" x2="72.6" y2="242.23" stroke="#aaa" stroke-width="0.6"/>
<text x="68.6" y="242.23" font-size="4.5" text-anchor="middle" fill="#1a1a1a" textLength="2.1" lengthAdjust="spacingAndGlyphs" transform="rotate(-90 68.6 242.23)">2</text>
<line x1="71" y1="258.31" x2="72.6" y2="258.31" stroke="#aaa" stroke-width="0.6"/>
<text x="68.6" y="258.31" font-size="4.5" text-anchor="middle" fill="#1a1a1a" textLength="2.1" lengthAdjust="spacingAndGlyphs" transform="rotate(-90 68.6 258.31)">1</text>
<line x1="71" y1="274.08" x2="72.6" y2="274.08" stroke="#aaa" stroke-width="0.6"/>
<text x="68.6" y="274.08" font-size="4.5" text-anchor="middle" fill="#1a1a1a" textLength="2.1" lengthAdjust="spacingAndGlyphs" transform="rotate(-90 68.6 274.08)">0</text>
<text x="61.8" y="222" font-size="4" text-anchor="middle" fill="#111" textLength="64.63" lengthAdjust="spacingAndGlyphs" transform="rotate(-90 61.8 222)">Substance-related disorders (per 100,000)</text>
<text x="171.7" y="161.1" font-size="4.4" text-anchor="middle" font-weight="bold" textLength="49.61" lengthAdjust="spacingAndGlyphs">Substance-related disorders</text>
<polygon points="421.66,199.59 424.29,187.17 427.86,186.4 431.59,177.09 434.69,187.95 437.95,178.64 441.36,173.98 444.93,187.17 448.34,182.52 451.76,188.72 455.33,185.62 458.43,188.72 462,193.38 465.41,185.62 468.52,184.38 472.09,174.45 475.5,184.84 475.5,208.12 472.09,198.03 468.52,209.67 465.41,210.45 462,218.21 458.43,210.45 455.33,205.79 451.76,208.12 448.34,202.69 444.93,205.79 441.36,194.16 437.95,198.81 434.69,205.02 431.59,197.26 427.86,205.79 424.29,206.57 421.66,210.45" fill="#dadae0"/>
<polyline points="295.38,201.66 298.72,199.23 302.06,196.19 305.4,198.01 308.74,191.94 312.08,185.87 315.42,181.31 319.07,186.47 322.41,184.35 325.75,199.53 329.39,196.49 332.73,192.55 335.77,201.66 339.41,200.14 342.75,196.19 346.09,198.01 349.43,191.94 352.77,185.87 356.11,181.92 359.45,186.47 362.79,184.96 366.13,199.23 369.78,197.1 373.12,193.15 376.46,195.58 379.8,204.09 383.14,193.15 386.48,194.98 389.82,191.64 393.16,191.94 396.5,185.87 399.84,187.99 403.48,195.58 406.82,197.1 410.46,196.19 413.8,194.98 417.14,198.62 421.34,206.57" fill="none" stroke="#2a2a2a" stroke-width="0.8" stroke-linejoin="round"/>
<polyline points="421.34,206.57 424.29,196.95 427.86,196.17 431.59,186.86 434.69,196.17 437.95,187.64 441.36,184.07 444.93,196.48 448.34,192.6 451.76,198.81 455.33,195.4 458.43,198.5 462,206.57 465.41,198.03 468.52,197.26 472.09,186.4 475.5,196.48" fill="none" stroke="#d9746a" stroke-width="0.75" stroke-linejoin="round"/>
<rect x="294.33" y="200.76" width="2.1" height="1.8" fill="#8080f6"/>
<rect x="297.67" y="198.63" width="2.1" height="1.8" fill="#8080f6"/>
<rect x="301.01" y="194.68" width="2.1" height="1.8" fill="#8080f6"/>
<rect x="304.35" y="197.11" width="2.1" height="1.8" fill="#8080f6"/>
<rect x="307.69" y="191.04" width="2.1" height="1.8" fill="#8080f6"/>
<rect x="311.03" y="184.97" width="2.1" height="1.8" fill="#8080f6"/>
<rect x="314.37" y="180.41" width="2.1" height="1.8" fill="#8080f6"/>
<rect x="318.02" y="185.57" width="2.1" height="1.8" fill="#8080f6"/>
<rect x="321.36" y="183.45" width="2.1" height="1.8" fill="#8080f6"/>
<rect x="324.7" y="198.63" width="2.1" height="1.8" fill="#8080f6"/>
<rect x="328.34" y="195.59" width="2.1" height="1.8" fill="#8080f6"/>
<rect x="331.68" y="191.65" width="2.1" height="1.8" fill="#8080f6"/>
<rect x="334.72" y="191.65" width="2.1" height="1.8" fill="#8080f6"/>
<rect x="338.36" y="206.83" width="2.1" height="1.8" fill="#8080f6"/>
<rect x="341.7" y="191.04" width="2.1" height="1.8" fill="#8080f6"/>
<rect x="345.04" y="193.17" width="2.1" height="1.8" fill="#8080f6"/>
<rect x="348.38" y="191.04" width="2.1" height="1.8" fill="#8080f6"/>
<rect x="351.72" y="193.17" width="2.1" height="1.8" fill="#8080f6"/>
<rect x="355.06" y="185.57" width="2.1" height="1.8" fill="#8080f6"/>
<rect x="358.4" y="186.18" width="2.1" height="1.8" fill="#8080f6"/>
<rect x="361.74" y="197.72" width="2.1" height="1.8" fill="#8080f6"/>
<rect x="365.08" y="195.29" width="2.1" height="1.8" fill="#8080f6"/>
<rect x="368.73" y="196.2" width="2.1" height="1.8" fill="#8080f6"/>
<rect x="372.07" y="193.17" width="2.1" height="1.8" fill="#8080f6"/>
<rect x="375.41" y="198.33" width="2.1" height="1.8" fill="#8080f6"/>
<rect x="378.75" y="206.22" width="2.1" height="1.8" fill="#8080f6"/>
<rect x="382.09" y="198.33" width="2.1" height="1.8" fill="#8080f6"/>
<rect x="385.43" y="196.2" width="2.1" height="1.8" fill="#8080f6"/>
<rect x="388.77" y="184.06" width="2.1" height="1.8" fill="#8080f6"/>
<rect x="392.11" y="196.2" width="2.1" height="1.8" fill="#8080f6"/>
<rect x="395.45" y="185.57" width="2.1" height="1.8" fill="#8080f6"/>
<rect x="398.79" y="181.93" width="2.1" height="1.8" fill="#8080f6"/>
<rect x="402.43" y="194.68" width="2.1" height="1.8" fill="#8080f6"/>
<rect x="405.77" y="190.13" width="2.1" height="1.8" fill="#8080f6"/>
<rect x="409.41" y="198.63" width="2.1" height="1.8" fill="#8080f6"/>
<rect x="412.75" y="194.08" width="2.1" height="1.8" fill="#8080f6"/>
<rect x="416.09" y="197.72" width="2.1" height="1.8" fill="#8080f6"/>
<rect x="420.14" y="212.65" width="2.1" height="1.8" fill="#8080f6"/>
<rect x="423.4" y="224.29" width="2.1" height="1.8" fill="#8080f6"/>
<rect x="426.81" y="215.13" width="2.1" height="1.8" fill="#8080f6"/>
<rect x="430.23" y="198.22" width="2.1" height="1.8" fill="#8080f6"/>
<rect x="433.79" y="198.22" width="2.1" height="1.8" fill="#8080f6"/>
<rect x="437.05" y="201.48" width="2.1" height="1.8" fill="#8080f6"/>
<rect x="440.47" y="203.65" width="2.1" height="1.8" fill="#8080f6"/>
<rect x="443.88" y="211.41" width="2.1" height="1.8" fill="#8080f6"/>
<rect x="447.29" y="209.55" width="2.1" height="1.8" fill="#8080f6"/>
<rect x="450.86" y="210.01" width="2.1" height="1.8" fill="#8080f6"/>
<rect x="453.97" y="220.1" width="2.1" height="1.8" fill="#8080f6"/>
<rect x="457.38" y="224.6" width="2.1" height="1.8" fill="#8080f6"/>
<rect x="460.79" y="222.89" width="2.1" height="1.8" fill="#8080f6"/>
<rect x="464.21" y="210.17" width="2.1" height="1.8" fill="#8080f6"/>
<rect x="467.62" y="210.01" width="2.1" height="1.8" fill="#8080f6"/>
<rect x="471.04" y="211.57" width="2.1" height="1.8" fill="#8080f6"/>
<rect x="474.45" y="207.22" width="2.1" height="1.8" fill="#8080f6"/>
<line x1="421.34" y1="167.3" x2="421.34" y2="280.3" stroke="#5ea45a" stroke-width="0.8" stroke-dasharray="1.1 1.5"/>
<rect x="288.4" y="167.3" width="189" height="113" fill="none" stroke="#c8c8c8" stroke-width="1.2"/>
<line x1="295.38" y1="280.3" x2="295.38" y2="281.9" stroke="#aaa" stroke-width="0.6"/>
<line x1="335.77" y1="280.3" x2="335.77" y2="281.9" stroke="#aaa" stroke-width="0.6"/>
<line x1="376.76" y1="280.3" x2="376.76" y2="281.9" stroke="#aaa" stroke-width="0.6"/>
<line x1="417.14" y1="280.3" x2="417.14" y2="281.9" stroke="#aaa" stroke-width="0.6"/>
<line x1="457.83" y1="280.3" x2="457.83" y2="281.9" stroke="#aaa" stroke-width="0.6"/>
<text x="295.38" y="286.1" font-size="3.9" text-anchor="middle" fill="#333" font-weight="bold" textLength="8.5" lengthAdjust="spacingAndGlyphs">2017</text>
<text x="335.77" y="286.1" font-size="3.9" text-anchor="middle" fill="#333" font-weight="bold" textLength="8.5" lengthAdjust="spacingAndGlyphs">2018</text>
<text x="376.76" y="286.1" font-size="3.9" text-anchor="middle" fill="#333" font-weight="bold" textLength="8.5" lengthAdjust="spacingAndGlyphs">2019</text>
<text x="417.14" y="286.1" font-size="3.9" text-anchor="middle" fill="#333" font-weight="bold" textLength="8.5" lengthAdjust="spacingAndGlyphs">2020</text>
<text x="457.83" y="286.1" font-size="3.9" text-anchor="middle" fill="#333" font-weight="bold" textLength="8.5" lengthAdjust="spacingAndGlyphs">2021</text>
<text x="382.9" y="292.6" font-size="3.9" text-anchor="middle" fill="#333" font-weight="bold" textLength="7.9" lengthAdjust="spacingAndGlyphs">Year</text>
<line x1="286.8" y1="178.88" x2="288.4" y2="178.88" stroke="#aaa" stroke-width="0.6"/>
<text x="284.4" y="178.88" font-size="4.5" text-anchor="middle" fill="#1a1a1a" textLength="2.1" lengthAdjust="spacingAndGlyphs" transform="rotate(-90 284.4 178.88)">6</text>
<line x1="286.8" y1="194.98" x2="288.4" y2="194.98" stroke="#aaa" stroke-width="0.6"/>
<text x="284.4" y="194.98" font-size="4.5" text-anchor="middle" fill="#1a1a1a" textLength="2.1" lengthAdjust="spacingAndGlyphs" transform="rotate(-90 284.4 194.98)">5</text>
<line x1="286.8" y1="211.07" x2="288.4" y2="211.07" stroke="#aaa" stroke-width="0.6"/>
<text x="284.4" y="211.07" font-size="4.5" text-anchor="middle" fill="#1a1a1a" textLength="2.1" lengthAdjust="spacingAndGlyphs" transform="rotate(-90 284.4 211.07)">4</text>
<line x1="286.8" y1="227.16" x2="288.4" y2="227.16" stroke="#aaa" stroke-width="0.6"/>
<text x="284.4" y="227.16" font-size="4.5" text-anchor="middle" fill="#1a1a1a" textLength="2.1" lengthAdjust="spacingAndGlyphs" transform="rotate(-90 284.4 227.16)">3</text>
<line x1="286.8" y1="243.56" x2="288.4" y2="243.56" stroke="#aaa" stroke-width="0.6"/>
<text x="284.4" y="243.56" font-size="4.5" text-anchor="middle" fill="#1a1a1a" textLength="2.1" lengthAdjust="spacingAndGlyphs" transform="rotate(-90 284.4 243.56)">2</text>
<line x1="286.8" y1="259.65" x2="288.4" y2="259.65" stroke="#aaa" stroke-width="0.6"/>
<text x="284.4" y="259.65" font-size="4.5" text-anchor="middle" fill="#1a1a1a" textLength="2.1" lengthAdjust="spacingAndGlyphs" transform="rotate(-90 284.4 259.65)">1</text>
<line x1="286.8" y1="276.05" x2="288.4" y2="276.05" stroke="#aaa" stroke-width="0.6"/>
<text x="284.4" y="276.05" font-size="4.5" text-anchor="middle" fill="#1a1a1a" textLength="2.1" lengthAdjust="spacingAndGlyphs" transform="rotate(-90 284.4 276.05)">0</text>
<text x="277.6" y="223.8" font-size="4" text-anchor="middle" fill="#111" textLength="64.63" lengthAdjust="spacingAndGlyphs" transform="rotate(-90 277.6 223.8)">Substance-related disorders (per 100,000)</text>
<text x="382.8" y="162.2" font-size="4.4" text-anchor="middle" font-weight="bold" textLength="57.67" lengthAdjust="spacingAndGlyphs">Substance-related disorders, Male</text>
<polygon points="626.97,255.14 629.29,251.57 632.86,251.57 636.28,250.48 639.69,251.1 642.95,248.47 646.36,246.91 649.93,250.48 653.34,251.57 656.76,252.03 660.02,251.57 663.43,254.67 666.53,257.78 670.1,250.79 673.52,250.48 677.09,250.02 679.72,250.02 679.72,258.24 677.09,258.24 673.52,258.55 670.1,258.86 666.53,262.9 663.43,261.34 660.02,258.86 656.76,258.86 653.34,258.24 649.93,257.78 646.36,254.67 642.95,256.22 639.69,258.24 636.28,257.78 632.86,258.55 629.29,258.55 626.97,260.88" fill="#dadae0"/>
<polyline points="502.45,261.62 505.74,258.33 509.03,261.62 512.32,257.13 515.61,254.74 518.91,255.34 522.5,251.74 525.79,254.14 529.08,255.34 532.37,256.53 535.66,258.33 538.96,254.14 542.55,260.72 545.84,259.23 549.13,260.72 552.42,256.23 555.72,254.74 559.01,255.34 562.6,252.34 565.89,253.24 569.18,255.34 572.47,256.23 575.77,257.13 579.06,254.74 582.65,257.73 585.94,259.23 589.23,257.73 592.53,256.23 595.82,254.74 599.11,254.74 602.4,252.34 605.69,251.74 609.28,253.24 612.58,256.23 616.17,257.13 619.46,254.74 622.75,257.73 626.5,259.33" fill="none" stroke="#2a2a2a" stroke-width="0.8" stroke-linejoin="round"/>
<polyline points="626.5,259.33 629.29,255.14 632.86,255.45 636.28,254.21 639.69,254.67 642.95,252.34 646.36,251.1 649.93,254.21 653.34,255.45 656.76,255.45 660.02,255.14 663.43,257.78 666.53,259.79 670.1,255.14 673.52,255.45 677.09,254.67 679.72,254.67" fill="none" stroke="#d9746a" stroke-width="0.75" stroke-linejoin="round"/>
<rect x="501.4" y="260.72" width="2.1" height="1.8" fill="#8080f6"/>
<rect x="504.69" y="257.73" width="2.1" height="1.8" fill="#8080f6"/>
<rect x="507.98" y="260.72" width="2.1" height="1.8" fill="#8080f6"/>
<rect x="511.27" y="256.23" width="2.1" height="1.8" fill="#8080f6"/>
<rect x="514.56" y="253.84" width="2.1" height="1.8" fill="#8080f6"/>
<rect x="517.86" y="254.44" width="2.1" height="1.8" fill="#8080f6"/>
<rect x="521.45" y="250.84" width="2.1" height="1.8" fill="#8080f6"/>
<rect x="524.74" y="253.24" width="2.1" height="1.8" fill="#8080f6"/>
<rect x="528.03" y="254.44" width="2.1" height="1.8" fill="#8080f6"/>
<rect x="531.32" y="255.63" width="2.1" height="1.8" fill="#8080f6"/>
<rect x="534.61" y="257.43" width="2.1" height="1.8" fill="#8080f6"/>
<rect x="537.91" y="253.24" width="2.1" height="1.8" fill="#8080f6"/>
<rect x="541.5" y="255.33" width="2.1" height="1.8" fill="#8080f6"/>
<rect x="544.79" y="258.63" width="2.1" height="1.8" fill="#8080f6"/>
<rect x="548.08" y="254.44" width="2.1" height="1.8" fill="#8080f6"/>
<rect x="551.37" y="255.33" width="2.1" height="1.8" fill="#8080f6"/>
<rect x="554.67" y="253.24" width="2.1" height="1.8" fill="#8080f6"/>
<rect x="557.96" y="254.44" width="2.1" height="1.8" fill="#8080f6"/>
<rect x="561.55" y="251.44" width="2.1" height="1.8" fill="#8080f6"/>
<rect x="564.84" y="248.45" width="2.1" height="1.8" fill="#8080f6"/>
<rect x="568.13" y="254.44" width="2.1" height="1.8" fill="#8080f6"/>
<rect x="571.42" y="255.93" width="2.1" height="1.8" fill="#8080f6"/>
<rect x="574.72" y="256.23" width="2.1" height="1.8" fill="#8080f6"/>
<rect x="578.01" y="253.84" width="2.1" height="1.8" fill="#8080f6"/>
<rect x="581.6" y="258.33" width="2.1" height="1.8" fill="#8080f6"/>
<rect x="584.89" y="259.22" width="2.1" height="1.8" fill="#8080f6"/>
<rect x="588.18" y="253.84" width="2.1" height="1.8" fill="#8080f6"/>
<rect x="591.48" y="254.44" width="2.1" height="1.8" fill="#8080f6"/>
<rect x="594.77" y="253.24" width="2.1" height="1.8" fill="#8080f6"/>
<rect x="598.06" y="253.84" width="2.1" height="1.8" fill="#8080f6"/>
<rect x="601.35" y="251.44" width="2.1" height="1.8" fill="#8080f6"/>
<rect x="604.64" y="251.44" width="2.1" height="1.8" fill="#8080f6"/>
<rect x="608.23" y="252.34" width="2.1" height="1.8" fill="#8080f6"/>
<rect x="611.53" y="252.34" width="2.1" height="1.8" fill="#8080f6"/>
<rect x="615.12" y="255.33" width="2.1" height="1.8" fill="#8080f6"/>
<rect x="618.41" y="253.84" width="2.1" height="1.8" fill="#8080f6"/>
<rect x="621.7" y="257.43" width="2.1" height="1.8" fill="#8080f6"/>
<rect x="625.45" y="257.65" width="2.1" height="1.8" fill="#8080f6"/>
<rect x="628.55" y="262.31" width="2.1" height="1.8" fill="#8080f6"/>
<rect x="631.81" y="259.98" width="2.1" height="1.8" fill="#8080f6"/>
<rect x="635.23" y="258.43" width="2.1" height="1.8" fill="#8080f6"/>
<rect x="638.64" y="259.2" width="2.1" height="1.8" fill="#8080f6"/>
<rect x="642.05" y="254.86" width="2.1" height="1.8" fill="#8080f6"/>
<rect x="645.16" y="257.19" width="2.1" height="1.8" fill="#8080f6"/>
<rect x="648.73" y="259.98" width="2.1" height="1.8" fill="#8080f6"/>
<rect x="652.14" y="259.82" width="2.1" height="1.8" fill="#8080f6"/>
<rect x="655.4" y="261.38" width="2.1" height="1.8" fill="#8080f6"/>
<rect x="658.81" y="263.55" width="2.1" height="1.8" fill="#8080f6"/>
<rect x="661.92" y="262" width="2.1" height="1.8" fill="#8080f6"/>
<rect x="665.33" y="262.31" width="2.1" height="1.8" fill="#8080f6"/>
<rect x="668.74" y="258.89" width="2.1" height="1.8" fill="#8080f6"/>
<rect x="672" y="260.13" width="2.1" height="1.8" fill="#8080f6"/>
<rect x="675.42" y="260.76" width="2.1" height="1.8" fill="#8080f6"/>
<rect x="678.67" y="259.05" width="2.1" height="1.8" fill="#8080f6"/>
<line x1="626.5" y1="166.6" x2="626.5" y2="280.3" stroke="#5ea45a" stroke-width="0.8" stroke-dasharray="1.1 1.5"/>
<rect x="495.6" y="166.6" width="186.2" height="113.7" fill="none" stroke="#c8c8c8" stroke-width="1.2"/>
<line x1="502.45" y1="280.3" x2="502.45" y2="281.9" stroke="#aaa" stroke-width="0.6"/>
<line x1="542.85" y1="280.3" x2="542.85" y2="281.9" stroke="#aaa" stroke-width="0.6"/>
<line x1="582.95" y1="280.3" x2="582.95" y2="281.9" stroke="#aaa" stroke-width="0.6"/>
<line x1="623.05" y1="280.3" x2="623.05" y2="281.9" stroke="#aaa" stroke-width="0.6"/>
<line x1="663.15" y1="280.3" x2="663.15" y2="281.9" stroke="#aaa" stroke-width="0.6"/>
<text x="502.45" y="286.1" font-size="3.9" text-anchor="middle" fill="#333" font-weight="bold" textLength="8.5" lengthAdjust="spacingAndGlyphs">2017</text>
<text x="542.85" y="286.1" font-size="3.9" text-anchor="middle" fill="#333" font-weight="bold" textLength="8.5" lengthAdjust="spacingAndGlyphs">2018</text>
<text x="582.95" y="286.1" font-size="3.9" text-anchor="middle" fill="#333" font-weight="bold" textLength="8.5" lengthAdjust="spacingAndGlyphs">2019</text>
<text x="623.05" y="286.1" font-size="3.9" text-anchor="middle" fill="#333" font-weight="bold" textLength="8.5" lengthAdjust="spacingAndGlyphs">2020</text>
<text x="663.15" y="286.1" font-size="3.9" text-anchor="middle" fill="#333" font-weight="bold" textLength="8.5" lengthAdjust="spacingAndGlyphs">2021</text>
<text x="588.7" y="292.6" font-size="3.9" text-anchor="middle" fill="#333" font-weight="bold" textLength="7.9" lengthAdjust="spacingAndGlyphs">Year</text>
<line x1="494" y1="178.72" x2="495.6" y2="178.72" stroke="#aaa" stroke-width="0.6"/>
<text x="491.6" y="178.72" font-size="4.5" text-anchor="middle" fill="#1a1a1a" textLength="2.1" lengthAdjust="spacingAndGlyphs" transform="rotate(-90 491.6 178.72)">6</text>
<line x1="494" y1="195.18" x2="495.6" y2="195.18" stroke="#aaa" stroke-width="0.6"/>
<text x="491.6" y="195.18" font-size="4.5" text-anchor="middle" fill="#1a1a1a" textLength="2.1" lengthAdjust="spacingAndGlyphs" transform="rotate(-90 491.6 195.18)">5</text>
<line x1="494" y1="211.34" x2="495.6" y2="211.34" stroke="#aaa" stroke-width="0.6"/>
<text x="491.6" y="211.34" font-size="4.5" text-anchor="middle" fill="#1a1a1a" textLength="2.1" lengthAdjust="spacingAndGlyphs" transform="rotate(-90 491.6 211.34)">4</text>
<line x1="494" y1="227.5" x2="495.6" y2="227.5" stroke="#aaa" stroke-width="0.6"/>
<text x="491.6" y="227.5" font-size="4.5" text-anchor="middle" fill="#1a1a1a" textLength="2.1" lengthAdjust="spacingAndGlyphs" transform="rotate(-90 491.6 227.5)">3</text>
<line x1="494" y1="243.96" x2="495.6" y2="243.96" stroke="#aaa" stroke-width="0.6"/>
<text x="491.6" y="243.96" font-size="4.5" text-anchor="middle" fill="#1a1a1a" textLength="2.1" lengthAdjust="spacingAndGlyphs" transform="rotate(-90 491.6 243.96)">2</text>
<line x1="494" y1="259.82" x2="495.6" y2="259.82" stroke="#aaa" stroke-width="0.6"/>
<text x="491.6" y="259.82" font-size="4.5" text-anchor="middle" fill="#1a1a1a" textLength="2.1" lengthAdjust="spacingAndGlyphs" transform="rotate(-90 491.6 259.82)">1</text>
<line x1="494" y1="276.28" x2="495.6" y2="276.28" stroke="#aaa" stroke-width="0.6"/>
<text x="491.6" y="276.28" font-size="4.5" text-anchor="middle" fill="#1a1a1a" textLength="2.1" lengthAdjust="spacingAndGlyphs" transform="rotate(-90 491.6 276.28)">0</text>
<text x="484.8" y="223.45" font-size="4" text-anchor="middle" fill="#111" textLength="64.63" lengthAdjust="spacingAndGlyphs" transform="rotate(-90 484.8 223.45)">Substance-related disorders (per 100,000)</text>
<text x="589.2" y="161.4" font-size="4.4" text-anchor="middle" font-weight="bold" textLength="61.39" lengthAdjust="spacingAndGlyphs">Substance-related disorders, Female</text>
<polygon points="210.86,366.52 213.97,346.34 217.38,338.28 220.17,338.59 224.52,345.57 227.93,342.93 231.03,344.02 234.91,349.45 238.79,352.55 242.67,350.69 245.78,351.78 249.66,354.41 253.53,351 256.64,344.79 260.52,340.91 263.62,340.91 266.72,344.79 266.72,385.14 263.62,382.03 260.52,382.03 256.64,386.38 252.76,391.66 249.66,390.57 245.78,387.47 242.67,386.69 238.79,387.93 234.91,385.14 231.03,382.03 227.93,379.71 224.52,381.26 220.95,378.93 217.38,382.03 213.97,383.59 210.86,388.24" fill="#dadae0"/>
<polyline points="79.65,369.68 83.75,368.1 87.53,364 91.32,365.58 94.47,367.16 98.57,367.16 101.72,365.89 104.88,367.16 108.98,367.47 112.13,367.47 115.91,368.42 119.07,369.68 122.22,375.35 126,370.31 129.16,358.64 132.62,362.74 136.41,368.73 139.56,368.1 143.35,363.37 146.81,367.16 150.6,368.73 153.75,369.68 157.54,371.26 161,375.35 164.47,365.89 167.94,376.62 171.41,365.89 174.88,360.22 178.35,361.8 181.82,360.22 185.28,357.7 188.75,370.31 192.54,375.35 196.01,366.53 199.79,370.62 203.26,370.31 206.73,364 210.55,375.83" fill="none" stroke="#2a2a2a" stroke-width="0.8" stroke-linejoin="round"/>
<polyline points="210.55,375.83 213.97,363.41 217.38,356.12 220.95,356.43 224.52,363.72 227.93,361.09 231.03,361.86 234.91,366.98 238.79,371.17 242.67,368.07 245.78,368.38 249.66,372.72 253.53,371.17 256.64,365.74 260.52,361.09 263.62,361.09 266.72,364.97" fill="none" stroke="#d9746a" stroke-width="0.75" stroke-linejoin="round"/>
<rect x="78.6" y="382.02" width="2.1" height="1.8" fill="#8080f6"/>
<rect x="82.38" y="374.45" width="2.1" height="1.8" fill="#8080f6"/>
<rect x="85.85" y="349.86" width="2.1" height="1.8" fill="#8080f6"/>
<rect x="89.32" y="358.69" width="2.1" height="1.8" fill="#8080f6"/>
<rect x="92.79" y="369.41" width="2.1" height="1.8" fill="#8080f6"/>
<rect x="96.57" y="368.78" width="2.1" height="1.8" fill="#8080f6"/>
<rect x="100.04" y="359.95" width="2.1" height="1.8" fill="#8080f6"/>
<rect x="103.51" y="366.26" width="2.1" height="1.8" fill="#8080f6"/>
<rect x="106.98" y="369.72" width="2.1" height="1.8" fill="#8080f6"/>
<rect x="110.76" y="371.93" width="2.1" height="1.8" fill="#8080f6"/>
<rect x="114.23" y="372.88" width="2.1" height="1.8" fill="#8080f6"/>
<rect x="117.7" y="382.97" width="2.1" height="1.8" fill="#8080f6"/>
<rect x="121.17" y="364.36" width="2.1" height="1.8" fill="#8080f6"/>
<rect x="124.64" y="383.91" width="2.1" height="1.8" fill="#8080f6"/>
<rect x="128.11" y="364.36" width="2.1" height="1.8" fill="#8080f6"/>
<rect x="131.57" y="353.64" width="2.1" height="1.8" fill="#8080f6"/>
<rect x="135.04" y="358.06" width="2.1" height="1.8" fill="#8080f6"/>
<rect x="138.83" y="356.17" width="2.1" height="1.8" fill="#8080f6"/>
<rect x="142.3" y="347.02" width="2.1" height="1.8" fill="#8080f6"/>
<rect x="145.76" y="372.88" width="2.1" height="1.8" fill="#8080f6"/>
<rect x="149.23" y="382.34" width="2.1" height="1.8" fill="#8080f6"/>
<rect x="152.7" y="365.63" width="2.1" height="1.8" fill="#8080f6"/>
<rect x="156.17" y="372.88" width="2.1" height="1.8" fill="#8080f6"/>
<rect x="159.64" y="375.72" width="2.1" height="1.8" fill="#8080f6"/>
<rect x="163.42" y="359.95" width="2.1" height="1.8" fill="#8080f6"/>
<rect x="166.89" y="382.97" width="2.1" height="1.8" fill="#8080f6"/>
<rect x="170.36" y="359.95" width="2.1" height="1.8" fill="#8080f6"/>
<rect x="173.83" y="346.08" width="2.1" height="1.8" fill="#8080f6"/>
<rect x="177.3" y="346.08" width="2.1" height="1.8" fill="#8080f6"/>
<rect x="180.77" y="360.9" width="2.1" height="1.8" fill="#8080f6"/>
<rect x="184.23" y="354.59" width="2.1" height="1.8" fill="#8080f6"/>
<rect x="187.7" y="356.17" width="2.1" height="1.8" fill="#8080f6"/>
<rect x="191.17" y="366.26" width="2.1" height="1.8" fill="#8080f6"/>
<rect x="194.64" y="374.45" width="2.1" height="1.8" fill="#8080f6"/>
<rect x="198.42" y="369.41" width="2.1" height="1.8" fill="#8080f6"/>
<rect x="201.89" y="370.36" width="2.1" height="1.8" fill="#8080f6"/>
<rect x="205.36" y="376.66" width="2.1" height="1.8" fill="#8080f6"/>
<rect x="209.5" y="378.34" width="2.1" height="1.8" fill="#8080f6"/>
<rect x="212.92" y="378.03" width="2.1" height="1.8" fill="#8080f6"/>
<rect x="216.48" y="371.51" width="2.1" height="1.8" fill="#8080f6"/>
<rect x="219.9" y="373.38" width="2.1" height="1.8" fill="#8080f6"/>
<rect x="223.47" y="357.55" width="2.1" height="1.8" fill="#8080f6"/>
<rect x="227.04" y="359.1" width="2.1" height="1.8" fill="#8080f6"/>
<rect x="230.61" y="372.76" width="2.1" height="1.8" fill="#8080f6"/>
<rect x="234.02" y="381.13" width="2.1" height="1.8" fill="#8080f6"/>
<rect x="237.74" y="365" width="2.1" height="1.8" fill="#8080f6"/>
<rect x="241" y="379.89" width="2.1" height="1.8" fill="#8080f6"/>
<rect x="244.73" y="378.5" width="2.1" height="1.8" fill="#8080f6"/>
<rect x="247.98" y="371.98" width="2.1" height="1.8" fill="#8080f6"/>
<rect x="251.71" y="372.91" width="2.1" height="1.8" fill="#8080f6"/>
<rect x="255.28" y="356.77" width="2.1" height="1.8" fill="#8080f6"/>
<rect x="258.85" y="362.51" width="2.1" height="1.8" fill="#8080f6"/>
<rect x="262.26" y="366.86" width="2.1" height="1.8" fill="#8080f6"/>
<rect x="265.83" y="359.88" width="2.1" height="1.8" fill="#8080f6"/>
<line x1="210.55" y1="306.6" x2="210.55" y2="421.8" stroke="#5ea45a" stroke-width="0.8" stroke-dasharray="1.1 1.5"/>
<rect x="72.4" y="306.6" width="198" height="115.2" fill="none" stroke="#c8c8c8" stroke-width="1.2"/>
<line x1="79.65" y1="421.8" x2="79.65" y2="423.4" stroke="#aaa" stroke-width="0.6"/>
<line x1="122.22" y1="421.8" x2="122.22" y2="423.4" stroke="#aaa" stroke-width="0.6"/>
<line x1="164.79" y1="421.8" x2="164.79" y2="423.4" stroke="#aaa" stroke-width="0.6"/>
<line x1="206.73" y1="421.8" x2="206.73" y2="423.4" stroke="#aaa" stroke-width="0.6"/>
<line x1="248.98" y1="421.8" x2="248.98" y2="423.4" stroke="#aaa" stroke-width="0.6"/>
<text x="79.65" y="427.6" font-size="3.9" text-anchor="middle" fill="#333" font-weight="bold" textLength="8.5" lengthAdjust="spacingAndGlyphs">2017</text>
<text x="122.22" y="427.6" font-size="3.9" text-anchor="middle" fill="#333" font-weight="bold" textLength="8.5" lengthAdjust="spacingAndGlyphs">2018</text>
<text x="164.79" y="427.6" font-size="3.9" text-anchor="middle" fill="#333" font-weight="bold" textLength="8.5" lengthAdjust="spacingAndGlyphs">2019</text>
<text x="206.73" y="427.6" font-size="3.9" text-anchor="middle" fill="#333" font-weight="bold" textLength="8.5" lengthAdjust="spacingAndGlyphs">2020</text>
<text x="248.98" y="427.6" font-size="3.9" text-anchor="middle" fill="#333" font-weight="bold" textLength="8.5" lengthAdjust="spacingAndGlyphs">2021</text>
<text x="171.4" y="434.1" font-size="3.9" text-anchor="middle" fill="#333" font-weight="bold" textLength="7.9" lengthAdjust="spacingAndGlyphs">Year</text>
<line x1="70.8" y1="311.34" x2="72.4" y2="311.34" stroke="#aaa" stroke-width="0.6"/>
<text x="68.4" y="311.34" font-size="4.5" text-anchor="middle" fill="#1a1a1a" textLength="4.9" lengthAdjust="spacingAndGlyphs" transform="rotate(-90 68.4 311.34)">1.2</text>
<line x1="70.8" y1="337.2" x2="72.4" y2="337.2" stroke="#aaa" stroke-width="0.6"/>
<text x="68.4" y="337.2" font-size="4.5" text-anchor="middle" fill="#1a1a1a" textLength="4.9" lengthAdjust="spacingAndGlyphs" transform="rotate(-90 68.4 337.2)">1.0</text>
<line x1="70.8" y1="364" x2="72.4" y2="364" stroke="#aaa" stroke-width="0.6"/>
<text x="68.4" y="364" font-size="4.5" text-anchor="middle" fill="#1a1a1a" textLength="4.9" lengthAdjust="spacingAndGlyphs" transform="rotate(-90 68.4 364)">0.8</text>
<line x1="70.8" y1="390.81" x2="72.4" y2="390.81" stroke="#aaa" stroke-width="0.6"/>
<text x="68.4" y="390.81" font-size="4.5" text-anchor="middle" fill="#1a1a1a" textLength="4.9" lengthAdjust="spacingAndGlyphs" transform="rotate(-90 68.4 390.81)">0.6</text>
<line x1="70.8" y1="417.92" x2="72.4" y2="417.92" stroke="#aaa" stroke-width="0.6"/>
<text x="68.4" y="417.92" font-size="4.5" text-anchor="middle" fill="#1a1a1a" textLength="4.9" lengthAdjust="spacingAndGlyphs" transform="rotate(-90 68.4 417.92)">0.4</text>
<text x="61.6" y="364.2" font-size="4" text-anchor="middle" fill="#111" textLength="73.8" lengthAdjust="spacingAndGlyphs" transform="rotate(-90 61.6 364.2)">Schizophrenia-spectrum disorders (per 100,000)</text>
<text x="171.1" y="301.8" font-size="4.4" text-anchor="middle" font-weight="bold" textLength="60.63" lengthAdjust="spacingAndGlyphs">Schizophrenia-spectrum disorders</text>
<polygon points="421.34,377.38 423.98,343.24 427.4,324.62 430.97,330.05 434.38,327.72 437.48,330.83 440.9,343.24 444.47,356.43 448.03,350.22 451.45,351.78 454.55,346.34 457.97,340.91 461.53,355.66 465.1,337.03 468.52,320.74 471.62,322.29 474.72,321.52 474.72,383.59 471.62,383.59 468.52,382.03 465.1,397.55 461.53,416.95 457.97,396 454.55,402.98 451.45,405.31 448.03,405.31 444.47,411.52 440.9,396 437.48,385.14 434.38,382.81 430.97,384.36 427.4,382.03 423.98,397.55 421.34,417.72" fill="#dadae0"/>
<polyline points="294.17,394.2 297.81,379.63 301.45,354.73 304.79,364.45 308.13,371.73 311.47,374.77 315.12,373.56 318.46,375.38 321.8,369 325.14,374.47 328.48,366.88 332.12,385.09 335.46,391.78 338.8,380.54 342.45,356.25 345.79,361.41 349.13,369.91 352.47,372.34 355.81,369.91 359.15,375.99 362.79,372.34 366.13,373.56 369.47,368.39 372.81,382.67 376.15,382.67 379.49,383.88 382.83,359.28 386.48,357.77 389.82,369.31 393.16,367.79 396.5,359.28 399.84,375.38 403.48,383.58 406.82,372.34 410.46,377.5 413.8,377.5 417.14,364.45 421.03,386.69" fill="none" stroke="#2a2a2a" stroke-width="0.8" stroke-linejoin="round"/>
<polyline points="421.03,386.69 423.98,368.07 427.4,351.31 430.97,357.67 434.38,355.66 437.48,357.98 440.9,371.17 444.47,384.36 448.03,377.69 451.45,378.62 454.55,373.5 457.97,368.07 461.53,386.38 465.1,368.07 468.52,351.31 471.62,353.33 474.72,352.55" fill="none" stroke="#d9746a" stroke-width="0.75" stroke-linejoin="round"/>
<rect x="293.12" y="393.3" width="2.1" height="1.8" fill="#8080f6"/>
<rect x="296.76" y="378.73" width="2.1" height="1.8" fill="#8080f6"/>
<rect x="300.4" y="353.83" width="2.1" height="1.8" fill="#8080f6"/>
<rect x="303.74" y="363.55" width="2.1" height="1.8" fill="#8080f6"/>
<rect x="307.08" y="370.83" width="2.1" height="1.8" fill="#8080f6"/>
<rect x="310.42" y="373.87" width="2.1" height="1.8" fill="#8080f6"/>
<rect x="314.07" y="372.66" width="2.1" height="1.8" fill="#8080f6"/>
<rect x="317.41" y="374.48" width="2.1" height="1.8" fill="#8080f6"/>
<rect x="320.75" y="368.1" width="2.1" height="1.8" fill="#8080f6"/>
<rect x="324.09" y="373.57" width="2.1" height="1.8" fill="#8080f6"/>
<rect x="327.43" y="365.98" width="2.1" height="1.8" fill="#8080f6"/>
<rect x="331.07" y="384.19" width="2.1" height="1.8" fill="#8080f6"/>
<rect x="334.41" y="371.44" width="2.1" height="1.8" fill="#8080f6"/>
<rect x="337.75" y="386.62" width="2.1" height="1.8" fill="#8080f6"/>
<rect x="341.4" y="364.76" width="2.1" height="1.8" fill="#8080f6"/>
<rect x="344.74" y="350.79" width="2.1" height="1.8" fill="#8080f6"/>
<rect x="348.08" y="368.1" width="2.1" height="1.8" fill="#8080f6"/>
<rect x="351.42" y="359.9" width="2.1" height="1.8" fill="#8080f6"/>
<rect x="354.76" y="346.24" width="2.1" height="1.8" fill="#8080f6"/>
<rect x="358.1" y="376.6" width="2.1" height="1.8" fill="#8080f6"/>
<rect x="361.74" y="396.34" width="2.1" height="1.8" fill="#8080f6"/>
<rect x="365.08" y="367.49" width="2.1" height="1.8" fill="#8080f6"/>
<rect x="368.42" y="386.02" width="2.1" height="1.8" fill="#8080f6"/>
<rect x="371.76" y="369.01" width="2.1" height="1.8" fill="#8080f6"/>
<rect x="375.1" y="355.65" width="2.1" height="1.8" fill="#8080f6"/>
<rect x="378.44" y="385.11" width="2.1" height="1.8" fill="#8080f6"/>
<rect x="381.78" y="366.89" width="2.1" height="1.8" fill="#8080f6"/>
<rect x="385.43" y="350.19" width="2.1" height="1.8" fill="#8080f6"/>
<rect x="388.77" y="348.06" width="2.1" height="1.8" fill="#8080f6"/>
<rect x="392.11" y="349.28" width="2.1" height="1.8" fill="#8080f6"/>
<rect x="395.45" y="366.89" width="2.1" height="1.8" fill="#8080f6"/>
<rect x="398.79" y="365.98" width="2.1" height="1.8" fill="#8080f6"/>
<rect x="402.43" y="372.66" width="2.1" height="1.8" fill="#8080f6"/>
<rect x="405.77" y="384.8" width="2.1" height="1.8" fill="#8080f6"/>
<rect x="409.41" y="371.44" width="2.1" height="1.8" fill="#8080f6"/>
<rect x="412.75" y="376.6" width="2.1" height="1.8" fill="#8080f6"/>
<rect x="416.09" y="376.6" width="2.1" height="1.8" fill="#8080f6"/>
<rect x="419.67" y="388.43" width="2.1" height="1.8" fill="#8080f6"/>
<rect x="422.93" y="378.03" width="2.1" height="1.8" fill="#8080f6"/>
<rect x="426.35" y="369.03" width="2.1" height="1.8" fill="#8080f6"/>
<rect x="429.76" y="372.29" width="2.1" height="1.8" fill="#8080f6"/>
<rect x="433.33" y="355.07" width="2.1" height="1.8" fill="#8080f6"/>
<rect x="436.74" y="368.72" width="2.1" height="1.8" fill="#8080f6"/>
<rect x="439.85" y="380.67" width="2.1" height="1.8" fill="#8080f6"/>
<rect x="443.42" y="375.08" width="2.1" height="1.8" fill="#8080f6"/>
<rect x="446.98" y="367.17" width="2.1" height="1.8" fill="#8080f6"/>
<rect x="450.24" y="388.89" width="2.1" height="1.8" fill="#8080f6"/>
<rect x="453.81" y="383.46" width="2.1" height="1.8" fill="#8080f6"/>
<rect x="456.92" y="369.96" width="2.1" height="1.8" fill="#8080f6"/>
<rect x="460.48" y="379.27" width="2.1" height="1.8" fill="#8080f6"/>
<rect x="464.05" y="354.76" width="2.1" height="1.8" fill="#8080f6"/>
<rect x="467.16" y="374" width="2.1" height="1.8" fill="#8080f6"/>
<rect x="470.73" y="371.05" width="2.1" height="1.8" fill="#8080f6"/>
<rect x="473.98" y="366.08" width="2.1" height="1.8" fill="#8080f6"/>
<line x1="421.03" y1="306.8" x2="421.03" y2="421.8" stroke="#5ea45a" stroke-width="0.8" stroke-dasharray="1.1 1.5"/>
<rect x="287.8" y="306.8" width="189.6" height="115" fill="none" stroke="#c8c8c8" stroke-width="1.2"/>
<line x1="294.17" y1="421.8" x2="294.17" y2="423.4" stroke="#aaa" stroke-width="0.6"/>
<line x1="335.16" y1="421.8" x2="335.16" y2="423.4" stroke="#aaa" stroke-width="0.6"/>
<line x1="376.15" y1="421.8" x2="376.15" y2="423.4" stroke="#aaa" stroke-width="0.6"/>
<line x1="416.84" y1="421.8" x2="416.84" y2="423.4" stroke="#aaa" stroke-width="0.6"/>
<line x1="457.83" y1="421.8" x2="457.83" y2="423.4" stroke="#aaa" stroke-width="0.6"/>
<text x="294.17" y="427.6" font-size="3.9" text-anchor="middle" fill="#333" font-weight="bold" textLength="8.5" lengthAdjust="spacingAndGlyphs">2017</text>
<text x="335.16" y="427.6" font-size="3.9" text-anchor="middle" fill="#333" font-weight="bold" textLength="8.5" lengthAdjust="spacingAndGlyphs">2018</text>
<text x="376.15" y="427.6" font-size="3.9" text-anchor="middle" fill="#333" font-weight="bold" textLength="8.5" lengthAdjust="spacingAndGlyphs">2019</text>
<text x="416.84" y="427.6" font-size="3.9" text-anchor="middle" fill="#333" font-weight="bold" textLength="8.5" lengthAdjust="spacingAndGlyphs">2020</text>
<text x="457.83" y="427.6" font-size="3.9" text-anchor="middle" fill="#333" font-weight="bold" textLength="8.5" lengthAdjust="spacingAndGlyphs">2021</text>
<text x="382.6" y="434.1" font-size="3.9" text-anchor="middle" fill="#333" font-weight="bold" textLength="7.9" lengthAdjust="spacingAndGlyphs">Year</text>
<line x1="286.2" y1="311.31" x2="287.8" y2="311.31" stroke="#aaa" stroke-width="0.6"/>
<text x="283.8" y="311.31" font-size="4.5" text-anchor="middle" fill="#1a1a1a" textLength="4.9" lengthAdjust="spacingAndGlyphs" transform="rotate(-90 283.8 311.31)">1.2</text>
<line x1="286.2" y1="338.03" x2="287.8" y2="338.03" stroke="#aaa" stroke-width="0.6"/>
<text x="283.8" y="338.03" font-size="4.5" text-anchor="middle" fill="#1a1a1a" textLength="4.9" lengthAdjust="spacingAndGlyphs" transform="rotate(-90 283.8 338.03)">1.0</text>
<line x1="286.2" y1="364.45" x2="287.8" y2="364.45" stroke="#aaa" stroke-width="0.6"/>
<text x="283.8" y="364.45" font-size="4.5" text-anchor="middle" fill="#1a1a1a" textLength="4.9" lengthAdjust="spacingAndGlyphs" transform="rotate(-90 283.8 364.45)">0.8</text>
<line x1="286.2" y1="390.56" x2="287.8" y2="390.56" stroke="#aaa" stroke-width="0.6"/>
<text x="283.8" y="390.56" font-size="4.5" text-anchor="middle" fill="#1a1a1a" textLength="4.9" lengthAdjust="spacingAndGlyphs" transform="rotate(-90 283.8 390.56)">0.6</text>
<line x1="286.2" y1="416.98" x2="287.8" y2="416.98" stroke="#aaa" stroke-width="0.6"/>
<text x="283.8" y="416.98" font-size="4.5" text-anchor="middle" fill="#1a1a1a" textLength="4.9" lengthAdjust="spacingAndGlyphs" transform="rotate(-90 283.8 416.98)">0.4</text>
<text x="277" y="364.3" font-size="4" text-anchor="middle" fill="#111" textLength="73.8" lengthAdjust="spacingAndGlyphs" transform="rotate(-90 277 364.3)">Schizophrenia-spectrum disorders (per 100,000)</text>
<text x="382.2" y="301.6" font-size="4.4" text-anchor="middle" font-weight="bold" textLength="68.3" lengthAdjust="spacingAndGlyphs">Schizophrenia-spectrum disorders, Male</text>
<polygon points="627.28,346.57 630.07,337.26 633.17,333.38 636.28,334.93 639.69,345.02 643.26,333.69 646.36,335.71 649.93,340.36 653.34,341.91 656.76,344.24 659.55,342.69 662.97,348.12 666.53,343.47 670.1,338.03 673.52,335.71 676.62,336.48 679.72,341.91 679.72,387.69 676.62,383.03 673.52,381.48 670.1,383.03 666.53,389.24 662.97,390.02 659.55,384.59 656.76,385.36 653.34,383.03 649.93,381.48 646.36,378.38 643.26,376.05 639.69,387.69 636.28,376.83 633.17,376.05 630.07,379.93 627.28,387.69" fill="#dadae0"/>
<polyline points="502.74,364.33 506.04,364.33 509.33,361.34 512.62,362.23 515.91,363.43 519.2,363.43 522.8,361.64 526.09,362.83 529.38,364.33 532.67,364.33 535.96,365.23 539.26,365.23 542.55,367.32 545.84,367.32 549.43,356.25 552.72,358.34 556.01,365.82 559.31,363.43 562.6,356.85 565.89,361.34 569.48,366.72 572.77,367.32 576.07,372.41 579.36,372.41 582.65,361.34 586.24,371.81 589.53,364.33 592.82,361.34 596.12,356.85 599.41,358.34 602.7,356.85 605.99,366.42 609.58,366.42 612.88,363.43 616.17,371.81 619.46,364.33 622.75,371.21 626.66,370.93" fill="none" stroke="#2a2a2a" stroke-width="0.8" stroke-linejoin="round"/>
<polyline points="626.66,370.93 630.07,359.76 633.17,354.33 636.28,355.1 639.69,366.74 643.26,354.33 646.36,356.34 649.93,361.31 653.34,364.1 656.76,365.19 659.55,363.17 662.97,369.38 666.53,367.21 670.1,361 673.52,358.98 676.62,359.45 679.72,364.41" fill="none" stroke="#d9746a" stroke-width="0.75" stroke-linejoin="round"/>
<rect x="501.69" y="370.31" width="2.1" height="1.8" fill="#8080f6"/>
<rect x="504.99" y="370.31" width="2.1" height="1.8" fill="#8080f6"/>
<rect x="508.28" y="346.97" width="2.1" height="1.8" fill="#8080f6"/>
<rect x="511.57" y="353.85" width="2.1" height="1.8" fill="#8080f6"/>
<rect x="514.86" y="368.52" width="2.1" height="1.8" fill="#8080f6"/>
<rect x="518.15" y="363.43" width="2.1" height="1.8" fill="#8080f6"/>
<rect x="521.75" y="347.87" width="2.1" height="1.8" fill="#8080f6"/>
<rect x="525.04" y="357.74" width="2.1" height="1.8" fill="#8080f6"/>
<rect x="528.33" y="371.21" width="2.1" height="1.8" fill="#8080f6"/>
<rect x="531.62" y="369.41" width="2.1" height="1.8" fill="#8080f6"/>
<rect x="534.91" y="380.79" width="2.1" height="1.8" fill="#8080f6"/>
<rect x="538.21" y="381.38" width="2.1" height="1.8" fill="#8080f6"/>
<rect x="541.5" y="357.74" width="2.1" height="1.8" fill="#8080f6"/>
<rect x="544.79" y="380.79" width="2.1" height="1.8" fill="#8080f6"/>
<rect x="548.38" y="364.03" width="2.1" height="1.8" fill="#8080f6"/>
<rect x="551.67" y="357.14" width="2.1" height="1.8" fill="#8080f6"/>
<rect x="554.96" y="348.17" width="2.1" height="1.8" fill="#8080f6"/>
<rect x="558.26" y="352.36" width="2.1" height="1.8" fill="#8080f6"/>
<rect x="561.55" y="348.46" width="2.1" height="1.8" fill="#8080f6"/>
<rect x="564.84" y="369.41" width="2.1" height="1.8" fill="#8080f6"/>
<rect x="568.43" y="368.82" width="2.1" height="1.8" fill="#8080f6"/>
<rect x="571.72" y="363.73" width="2.1" height="1.8" fill="#8080f6"/>
<rect x="575.02" y="360.44" width="2.1" height="1.8" fill="#8080f6"/>
<rect x="578.31" y="381.38" width="2.1" height="1.8" fill="#8080f6"/>
<rect x="581.6" y="363.43" width="2.1" height="1.8" fill="#8080f6"/>
<rect x="585.19" y="380.49" width="2.1" height="1.8" fill="#8080f6"/>
<rect x="588.48" y="352.95" width="2.1" height="1.8" fill="#8080f6"/>
<rect x="591.77" y="341.88" width="2.1" height="1.8" fill="#8080f6"/>
<rect x="595.07" y="344.57" width="2.1" height="1.8" fill="#8080f6"/>
<rect x="598.36" y="371.51" width="2.1" height="1.8" fill="#8080f6"/>
<rect x="601.65" y="342.48" width="2.1" height="1.8" fill="#8080f6"/>
<rect x="604.94" y="346.97" width="2.1" height="1.8" fill="#8080f6"/>
<rect x="608.53" y="359.84" width="2.1" height="1.8" fill="#8080f6"/>
<rect x="611.83" y="363.43" width="2.1" height="1.8" fill="#8080f6"/>
<rect x="615.12" y="367.32" width="2.1" height="1.8" fill="#8080f6"/>
<rect x="618.41" y="361.93" width="2.1" height="1.8" fill="#8080f6"/>
<rect x="621.7" y="375.7" width="2.1" height="1.8" fill="#8080f6"/>
<rect x="628.71" y="377.94" width="2.1" height="1.8" fill="#8080f6"/>
<rect x="632.12" y="373.91" width="2.1" height="1.8" fill="#8080f6"/>
<rect x="635.54" y="374.38" width="2.1" height="1.8" fill="#8080f6"/>
<rect x="638.95" y="360.41" width="2.1" height="1.8" fill="#8080f6"/>
<rect x="642.21" y="349.7" width="2.1" height="1.8" fill="#8080f6"/>
<rect x="645.47" y="364.76" width="2.1" height="1.8" fill="#8080f6"/>
<rect x="648.88" y="386.79" width="2.1" height="1.8" fill="#8080f6"/>
<rect x="652.29" y="363.2" width="2.1" height="1.8" fill="#8080f6"/>
<rect x="655.71" y="370.65" width="2.1" height="1.8" fill="#8080f6"/>
<rect x="658.81" y="373.91" width="2.1" height="1.8" fill="#8080f6"/>
<rect x="662.23" y="374.38" width="2.1" height="1.8" fill="#8080f6"/>
<rect x="665.48" y="366.93" width="2.1" height="1.8" fill="#8080f6"/>
<rect x="669.05" y="358.86" width="2.1" height="1.8" fill="#8080f6"/>
<rect x="672.31" y="351.1" width="2.1" height="1.8" fill="#8080f6"/>
<rect x="675.57" y="362.74" width="2.1" height="1.8" fill="#8080f6"/>
<rect x="678.98" y="354.2" width="2.1" height="1.8" fill="#8080f6"/>
<line x1="626.66" y1="307.8" x2="626.66" y2="422.1" stroke="#5ea45a" stroke-width="0.8" stroke-dasharray="1.1 1.5"/>
<rect x="495.6" y="307.8" width="186.7" height="114.3" fill="none" stroke="#c8c8c8" stroke-width="1.2"/>
<line x1="502.74" y1="422.1" x2="502.74" y2="423.7" stroke="#aaa" stroke-width="0.6"/>
<line x1="542.85" y1="422.1" x2="542.85" y2="423.7" stroke="#aaa" stroke-width="0.6"/>
<line x1="582.95" y1="422.1" x2="582.95" y2="423.7" stroke="#aaa" stroke-width="0.6"/>
<line x1="623.05" y1="422.1" x2="623.05" y2="423.7" stroke="#aaa" stroke-width="0.6"/>
<line x1="663.15" y1="422.1" x2="663.15" y2="423.7" stroke="#aaa" stroke-width="0.6"/>
<text x="502.74" y="427.9" font-size="3.9" text-anchor="middle" fill="#333" font-weight="bold" textLength="8.5" lengthAdjust="spacingAndGlyphs">2017</text>
<text x="542.85" y="427.9" font-size="3.9" text-anchor="middle" fill="#333" font-weight="bold" textLength="8.5" lengthAdjust="spacingAndGlyphs">2018</text>
<text x="582.95" y="427.9" font-size="3.9" text-anchor="middle" fill="#333" font-weight="bold" textLength="8.5" lengthAdjust="spacingAndGlyphs">2019</text>
<text x="623.05" y="427.9" font-size="3.9" text-anchor="middle" fill="#333" font-weight="bold" textLength="8.5" lengthAdjust="spacingAndGlyphs">2020</text>
<text x="663.15" y="427.9" font-size="3.9" text-anchor="middle" fill="#333" font-weight="bold" textLength="8.5" lengthAdjust="spacingAndGlyphs">2021</text>
<text x="588.95" y="434.4" font-size="3.9" text-anchor="middle" fill="#333" font-weight="bold" textLength="7.9" lengthAdjust="spacingAndGlyphs">Year</text>
<line x1="494" y1="311.96" x2="495.6" y2="311.96" stroke="#aaa" stroke-width="0.6"/>
<text x="491.6" y="311.96" font-size="4.5" text-anchor="middle" fill="#1a1a1a" textLength="4.9" lengthAdjust="spacingAndGlyphs" transform="rotate(-90 491.6 311.96)">1.2</text>
<line x1="494" y1="338.29" x2="495.6" y2="338.29" stroke="#aaa" stroke-width="0.6"/>
<text x="491.6" y="338.29" font-size="4.5" text-anchor="middle" fill="#1a1a1a" textLength="4.9" lengthAdjust="spacingAndGlyphs" transform="rotate(-90 491.6 338.29)">1.0</text>
<line x1="494" y1="364.93" x2="495.6" y2="364.93" stroke="#aaa" stroke-width="0.6"/>
<text x="491.6" y="364.93" font-size="4.5" text-anchor="middle" fill="#1a1a1a" textLength="4.9" lengthAdjust="spacingAndGlyphs" transform="rotate(-90 491.6 364.93)">0.8</text>
<line x1="494" y1="391.26" x2="495.6" y2="391.26" stroke="#aaa" stroke-width="0.6"/>
<text x="491.6" y="391.26" font-size="4.5" text-anchor="middle" fill="#1a1a1a" textLength="4.9" lengthAdjust="spacingAndGlyphs" transform="rotate(-90 491.6 391.26)">0.6</text>
<line x1="494" y1="417.3" x2="495.6" y2="417.3" stroke="#aaa" stroke-width="0.6"/>
<text x="491.6" y="417.3" font-size="4.5" text-anchor="middle" fill="#1a1a1a" textLength="4.9" lengthAdjust="spacingAndGlyphs" transform="rotate(-90 491.6 417.3)">0.4</text>
<text x="484.8" y="364.95" font-size="4" text-anchor="middle" fill="#111" textLength="73.8" lengthAdjust="spacingAndGlyphs" transform="rotate(-90 484.8 364.95)">Schizophrenia-spectrum disorders (per 100,000)</text>
<text x="589.2" y="303" font-size="4.4" text-anchor="middle" font-weight="bold" textLength="71.91" lengthAdjust="spacingAndGlyphs">Schizophrenia-spectrum disorders, Female</text>
<polygon points="212.1,497.45 215.21,495.9 218.62,493.57 221.72,492.79 225.14,494.03 228.4,488.14 232.28,491.24 235.69,488.14 239.26,485.03 242.67,481.93 246.55,480.38 249.66,484.26 253.07,479.6 256.64,478.83 260.52,477.59 264.4,476.5 267.97,475.41 267.97,523.52 264.4,521.97 260.52,520.41 256.64,519.17 253.07,518.4 249.66,517.31 246.55,512.97 242.67,513.74 239.26,514.52 235.69,516.38 232.28,517.93 228.4,513.74 225.14,517.93 221.72,516.84 218.62,516.07 215.21,516.84 212.1,515.29" fill="#dadae0"/>
<polyline points="80.28,534.6 84.38,532.08 88.16,529.24 91.63,526.08 95.42,522.62 98.57,519.46 101.72,520.41 104.88,521.35 108.03,522.62 112.13,523.56 115.91,524.51 119.07,525.14 122.22,524.51 126,521.35 129.16,520.41 133.26,516.31 137.04,513.16 140.51,510 143.98,515.68 147.45,515.68 150.91,516.62 154.38,521.35 157.54,517.26 161,518.2 164.79,513.16 168.26,521.35 171.73,514.1 175.19,515.68 178.35,511.89 182.13,516.62 185.6,514.1 189.07,510 192.85,517.26 196.32,509.37 199.79,506.85 203.26,506.85 206.73,506.22 211.33,505.98" fill="none" stroke="#2a2a2a" stroke-width="0.8" stroke-linejoin="round"/>
<polyline points="211.33,505.98 215.21,507.53 218.62,504.9 221.72,504.43 225.14,505.98 228.4,500.55 232.28,504.9 235.69,502.1 239.26,498.69 242.67,497.14 246.55,496.21 249.97,501.33 253.07,499.47 267.97,499.47" fill="none" stroke="#d9746a" stroke-width="0.75" stroke-linejoin="round"/>
<rect x="79.23" y="533.7" width="2.1" height="1.8" fill="#8080f6"/>
<rect x="82.7" y="529.91" width="2.1" height="1.8" fill="#8080f6"/>
<rect x="86.17" y="525.82" width="2.1" height="1.8" fill="#8080f6"/>
<rect x="89.64" y="522.66" width="2.1" height="1.8" fill="#8080f6"/>
<rect x="93.1" y="520.45" width="2.1" height="1.8" fill="#8080f6"/>
<rect x="96.57" y="512.26" width="2.1" height="1.8" fill="#8080f6"/>
<rect x="100.04" y="520.45" width="2.1" height="1.8" fill="#8080f6"/>
<rect x="103.83" y="524.24" width="2.1" height="1.8" fill="#8080f6"/>
<rect x="107.29" y="521.09" width="2.1" height="1.8" fill="#8080f6"/>
<rect x="110.76" y="528.97" width="2.1" height="1.8" fill="#8080f6"/>
<rect x="114.23" y="523.29" width="2.1" height="1.8" fill="#8080f6"/>
<rect x="117.7" y="526.76" width="2.1" height="1.8" fill="#8080f6"/>
<rect x="121.17" y="514.78" width="2.1" height="1.8" fill="#8080f6"/>
<rect x="124.64" y="526.76" width="2.1" height="1.8" fill="#8080f6"/>
<rect x="128.11" y="513.83" width="2.1" height="1.8" fill="#8080f6"/>
<rect x="131.89" y="515.41" width="2.1" height="1.8" fill="#8080f6"/>
<rect x="135.36" y="508.47" width="2.1" height="1.8" fill="#8080f6"/>
<rect x="138.83" y="513.83" width="2.1" height="1.8" fill="#8080f6"/>
<rect x="142.3" y="514.78" width="2.1" height="1.8" fill="#8080f6"/>
<rect x="146.08" y="512.26" width="2.1" height="1.8" fill="#8080f6"/>
<rect x="149.55" y="523.29" width="2.1" height="1.8" fill="#8080f6"/>
<rect x="153.02" y="517.3" width="2.1" height="1.8" fill="#8080f6"/>
<rect x="156.49" y="515.41" width="2.1" height="1.8" fill="#8080f6"/>
<rect x="159.95" y="521.09" width="2.1" height="1.8" fill="#8080f6"/>
<rect x="163.74" y="512.26" width="2.1" height="1.8" fill="#8080f6"/>
<rect x="167.21" y="519.51" width="2.1" height="1.8" fill="#8080f6"/>
<rect x="170.68" y="513.83" width="2.1" height="1.8" fill="#8080f6"/>
<rect x="174.14" y="512.26" width="2.1" height="1.8" fill="#8080f6"/>
<rect x="177.61" y="507.84" width="2.1" height="1.8" fill="#8080f6"/>
<rect x="181.08" y="515.41" width="2.1" height="1.8" fill="#8080f6"/>
<rect x="184.87" y="506.9" width="2.1" height="1.8" fill="#8080f6"/>
<rect x="188.33" y="509.1" width="2.1" height="1.8" fill="#8080f6"/>
<rect x="191.8" y="514.78" width="2.1" height="1.8" fill="#8080f6"/>
<rect x="195.27" y="503.11" width="2.1" height="1.8" fill="#8080f6"/>
<rect x="198.74" y="501.54" width="2.1" height="1.8" fill="#8080f6"/>
<rect x="202.21" y="503.11" width="2.1" height="1.8" fill="#8080f6"/>
<rect x="205.68" y="510.05" width="2.1" height="1.8" fill="#8080f6"/>
<rect x="210.12" y="514.08" width="2.1" height="1.8" fill="#8080f6"/>
<rect x="213.69" y="508.96" width="2.1" height="1.8" fill="#8080f6"/>
<rect x="217.26" y="512.07" width="2.1" height="1.8" fill="#8080f6"/>
<rect x="220.83" y="507.1" width="2.1" height="1.8" fill="#8080f6"/>
<rect x="224.24" y="495.77" width="2.1" height="1.8" fill="#8080f6"/>
<rect x="227.81" y="496.86" width="2.1" height="1.8" fill="#8080f6"/>
<rect x="231.38" y="505.55" width="2.1" height="1.8" fill="#8080f6"/>
<rect x="234.95" y="506.01" width="2.1" height="1.8" fill="#8080f6"/>
<rect x="238.67" y="508.5" width="2.1" height="1.8" fill="#8080f6"/>
<rect x="242.09" y="502.76" width="2.1" height="1.8" fill="#8080f6"/>
<rect x="245.5" y="499.65" width="2.1" height="1.8" fill="#8080f6"/>
<rect x="248.92" y="507.88" width="2.1" height="1.8" fill="#8080f6"/>
<rect x="252.64" y="502.44" width="2.1" height="1.8" fill="#8080f6"/>
<rect x="256.05" y="493.76" width="2.1" height="1.8" fill="#8080f6"/>
<rect x="259.78" y="500.89" width="2.1" height="1.8" fill="#8080f6"/>
<rect x="263.19" y="502.13" width="2.1" height="1.8" fill="#8080f6"/>
<rect x="266.92" y="501.51" width="2.1" height="1.8" fill="#8080f6"/>
<line x1="211.33" y1="454.4" x2="211.33" y2="567.3" stroke="#5ea45a" stroke-width="0.8" stroke-dasharray="1.1 1.5"/>
<rect x="72.5" y="454.4" width="197.9" height="112.9" fill="none" stroke="#c8c8c8" stroke-width="1.2"/>
<line x1="80.28" y1="567.3" x2="80.28" y2="568.9" stroke="#aaa" stroke-width="0.6"/>
<line x1="122.53" y1="567.3" x2="122.53" y2="568.9" stroke="#aaa" stroke-width="0.6"/>
<line x1="165.1" y1="567.3" x2="165.1" y2="568.9" stroke="#aaa" stroke-width="0.6"/>
<line x1="207.36" y1="567.3" x2="207.36" y2="568.9" stroke="#aaa" stroke-width="0.6"/>
<line x1="249.61" y1="567.3" x2="249.61" y2="568.9" stroke="#aaa" stroke-width="0.6"/>
<text x="80.28" y="573.1" font-size="3.9" text-anchor="middle" fill="#333" font-weight="bold" textLength="8.5" lengthAdjust="spacingAndGlyphs">2017</text>
<text x="122.53" y="573.1" font-size="3.9" text-anchor="middle" fill="#333" font-weight="bold" textLength="8.5" lengthAdjust="spacingAndGlyphs">2018</text>
<text x="165.1" y="573.1" font-size="3.9" text-anchor="middle" fill="#333" font-weight="bold" textLength="8.5" lengthAdjust="spacingAndGlyphs">2019</text>
<text x="207.36" y="573.1" font-size="3.9" text-anchor="middle" fill="#333" font-weight="bold" textLength="8.5" lengthAdjust="spacingAndGlyphs">2020</text>
<text x="249.61" y="573.1" font-size="3.9" text-anchor="middle" fill="#333" font-weight="bold" textLength="8.5" lengthAdjust="spacingAndGlyphs">2021</text>
<text x="171.45" y="579.6" font-size="3.9" text-anchor="middle" fill="#333" font-weight="bold" textLength="7.9" lengthAdjust="spacingAndGlyphs">Year</text>
<line x1="70.9" y1="457.97" x2="72.5" y2="457.97" stroke="#aaa" stroke-width="0.6"/>
<text x="68.5" y="457.97" font-size="4.5" text-anchor="middle" fill="#1a1a1a" textLength="4.9" lengthAdjust="spacingAndGlyphs" transform="rotate(-90 68.5 457.97)">1.5</text>
<line x1="70.9" y1="492.98" x2="72.5" y2="492.98" stroke="#aaa" stroke-width="0.6"/>
<text x="68.5" y="492.98" font-size="4.5" text-anchor="middle" fill="#1a1a1a" textLength="4.9" lengthAdjust="spacingAndGlyphs" transform="rotate(-90 68.5 492.98)">1.0</text>
<line x1="70.9" y1="528.29" x2="72.5" y2="528.29" stroke="#aaa" stroke-width="0.6"/>
<text x="68.5" y="528.29" font-size="4.5" text-anchor="middle" fill="#1a1a1a" textLength="4.9" lengthAdjust="spacingAndGlyphs" transform="rotate(-90 68.5 528.29)">0.5</text>
<line x1="70.9" y1="562.98" x2="72.5" y2="562.98" stroke="#aaa" stroke-width="0.6"/>
<text x="68.5" y="562.98" font-size="4.5" text-anchor="middle" fill="#1a1a1a" textLength="4.9" lengthAdjust="spacingAndGlyphs" transform="rotate(-90 68.5 562.98)">0.0</text>
<text x="61.7" y="510.85" font-size="4" text-anchor="middle" fill="#111" textLength="56.98" lengthAdjust="spacingAndGlyphs" transform="rotate(-90 61.7 510.85)">Bipolar mood disorders (per 100,000)</text>
<text x="171.7" y="449.4" font-size="4.4" text-anchor="middle" font-weight="bold" textLength="41.44" lengthAdjust="spacingAndGlyphs">Bipolar mood disorders</text>
<polygon points="421.66,495.03 424.76,495.66 428.17,494.57 431.59,493.02 434.69,494.57 437.79,488.36 441.05,487.59 444.47,488.83 448.03,486.03 451.45,484.17 454.55,481.38 457.66,482.93 461.07,480.14 464.64,479.05 468.52,477.97 471.62,477.03 475.03,475.95 475.03,530.72 471.62,529.48 468.52,528.71 464.64,527.16 461.07,526.38 457.66,524.83 454.55,521.72 451.45,522.03 448.03,522.97 444.47,523.28 441.05,522.5 437.79,519.86 434.69,523.59 431.59,520.95 428.17,519.86 424.76,518.93 421.66,517.07" fill="#dadae0"/>
<polyline points="296.29,535.65 299.94,534.74 303.28,532.01 306.62,528.06 309.96,524.41 313.3,521.38 316.64,519.56 319.98,520.47 323.32,522.9 326.66,525.63 330,527.45 333.34,526.54 336.68,527.45 340.02,519.56 343.36,518.34 346.7,515.31 350.04,512.88 353.38,511.36 356.72,513.48 360.06,515.31 363.4,514.39 366.74,518.34 370.08,516.82 373.42,517.43 377.06,513.79 380.4,519.56 383.74,514.39 387.08,515.91 390.42,513.48 393.76,516.52 397.1,518.95 400.44,509.84 403.78,514.39 407.12,511.36 410.46,510.45 413.8,510.75 417.14,506.8 421.34,506.21" fill="none" stroke="#2a2a2a" stroke-width="0.8" stroke-linejoin="round"/>
<polyline points="421.34,506.21 424.76,506.98 428.17,506.98 431.59,507.29 434.69,509 437.79,504.34 441.05,506.52 444.47,505.43 448.03,503.88 451.45,503.88 454.55,501.24 457.97,504.34 461.07,503.41 475.03,503.41" fill="none" stroke="#d9746a" stroke-width="0.75" stroke-linejoin="round"/>
<rect x="295.24" y="534.75" width="2.1" height="1.8" fill="#8080f6"/>
<rect x="298.58" y="531.71" width="2.1" height="1.8" fill="#8080f6"/>
<rect x="301.92" y="527.77" width="2.1" height="1.8" fill="#8080f6"/>
<rect x="305.26" y="518.66" width="2.1" height="1.8" fill="#8080f6"/>
<rect x="308.6" y="518.05" width="2.1" height="1.8" fill="#8080f6"/>
<rect x="311.94" y="513.8" width="2.1" height="1.8" fill="#8080f6"/>
<rect x="315.28" y="521.09" width="2.1" height="1.8" fill="#8080f6"/>
<rect x="318.93" y="521.69" width="2.1" height="1.8" fill="#8080f6"/>
<rect x="322.27" y="524.73" width="2.1" height="1.8" fill="#8080f6"/>
<rect x="325.61" y="529.59" width="2.1" height="1.8" fill="#8080f6"/>
<rect x="328.95" y="521.69" width="2.1" height="1.8" fill="#8080f6"/>
<rect x="332.29" y="527.16" width="2.1" height="1.8" fill="#8080f6"/>
<rect x="335.63" y="511.37" width="2.1" height="1.8" fill="#8080f6"/>
<rect x="338.97" y="523.51" width="2.1" height="1.8" fill="#8080f6"/>
<rect x="342.31" y="517.44" width="2.1" height="1.8" fill="#8080f6"/>
<rect x="345.65" y="513.8" width="2.1" height="1.8" fill="#8080f6"/>
<rect x="348.99" y="508.94" width="2.1" height="1.8" fill="#8080f6"/>
<rect x="352.33" y="510.76" width="2.1" height="1.8" fill="#8080f6"/>
<rect x="355.67" y="516.83" width="2.1" height="1.8" fill="#8080f6"/>
<rect x="359.01" y="507.72" width="2.1" height="1.8" fill="#8080f6"/>
<rect x="362.65" y="521.09" width="2.1" height="1.8" fill="#8080f6"/>
<rect x="365.99" y="516.53" width="2.1" height="1.8" fill="#8080f6"/>
<rect x="369.33" y="516.53" width="2.1" height="1.8" fill="#8080f6"/>
<rect x="372.67" y="519.87" width="2.1" height="1.8" fill="#8080f6"/>
<rect x="376.01" y="512.89" width="2.1" height="1.8" fill="#8080f6"/>
<rect x="379.35" y="513.8" width="2.1" height="1.8" fill="#8080f6"/>
<rect x="382.69" y="513.8" width="2.1" height="1.8" fill="#8080f6"/>
<rect x="386.34" y="515.62" width="2.1" height="1.8" fill="#8080f6"/>
<rect x="389.68" y="511.98" width="2.1" height="1.8" fill="#8080f6"/>
<rect x="393.02" y="518.66" width="2.1" height="1.8" fill="#8080f6"/>
<rect x="396.36" y="508.33" width="2.1" height="1.8" fill="#8080f6"/>
<rect x="399.7" y="509.55" width="2.1" height="1.8" fill="#8080f6"/>
<rect x="403.04" y="513.49" width="2.1" height="1.8" fill="#8080f6"/>
<rect x="406.38" y="505.9" width="2.1" height="1.8" fill="#8080f6"/>
<rect x="409.72" y="507.42" width="2.1" height="1.8" fill="#8080f6"/>
<rect x="413.36" y="501.65" width="2.1" height="1.8" fill="#8080f6"/>
<rect x="416.7" y="508.94" width="2.1" height="1.8" fill="#8080f6"/>
<rect x="419.98" y="516.94" width="2.1" height="1.8" fill="#8080f6"/>
<rect x="423.55" y="504.07" width="2.1" height="1.8" fill="#8080f6"/>
<rect x="426.97" y="515.08" width="2.1" height="1.8" fill="#8080f6"/>
<rect x="430.23" y="511.98" width="2.1" height="1.8" fill="#8080f6"/>
<rect x="433.64" y="497.55" width="2.1" height="1.8" fill="#8080f6"/>
<rect x="437.05" y="500.03" width="2.1" height="1.8" fill="#8080f6"/>
<rect x="440.31" y="510.58" width="2.1" height="1.8" fill="#8080f6"/>
<rect x="443.73" y="515.08" width="2.1" height="1.8" fill="#8080f6"/>
<rect x="447.14" y="509.03" width="2.1" height="1.8" fill="#8080f6"/>
<rect x="450.55" y="503.44" width="2.1" height="1.8" fill="#8080f6"/>
<rect x="453.97" y="500.34" width="2.1" height="1.8" fill="#8080f6"/>
<rect x="457.23" y="514.77" width="2.1" height="1.8" fill="#8080f6"/>
<rect x="460.79" y="509.96" width="2.1" height="1.8" fill="#8080f6"/>
<rect x="464.21" y="499.57" width="2.1" height="1.8" fill="#8080f6"/>
<rect x="467.47" y="506.55" width="2.1" height="1.8" fill="#8080f6"/>
<rect x="470.88" y="508.72" width="2.1" height="1.8" fill="#8080f6"/>
<rect x="473.98" y="500.65" width="2.1" height="1.8" fill="#8080f6"/>
<line x1="421.34" y1="455.4" x2="421.34" y2="569.4" stroke="#5ea45a" stroke-width="0.8" stroke-dasharray="1.1 1.5"/>
<rect x="289.2" y="455.4" width="188.2" height="114" fill="none" stroke="#c8c8c8" stroke-width="1.2"/>
<line x1="296.29" y1="569.4" x2="296.29" y2="571" stroke="#aaa" stroke-width="0.6"/>
<line x1="336.37" y1="569.4" x2="336.37" y2="571" stroke="#aaa" stroke-width="0.6"/>
<line x1="377.06" y1="569.4" x2="377.06" y2="571" stroke="#aaa" stroke-width="0.6"/>
<line x1="417.45" y1="569.4" x2="417.45" y2="571" stroke="#aaa" stroke-width="0.6"/>
<line x1="458.14" y1="569.4" x2="458.14" y2="571" stroke="#aaa" stroke-width="0.6"/>
<text x="296.29" y="575.2" font-size="3.9" text-anchor="middle" fill="#333" font-weight="bold" textLength="8.5" lengthAdjust="spacingAndGlyphs">2017</text>
<text x="336.37" y="575.2" font-size="3.9" text-anchor="middle" fill="#333" font-weight="bold" textLength="8.5" lengthAdjust="spacingAndGlyphs">2018</text>
<text x="377.06" y="575.2" font-size="3.9" text-anchor="middle" fill="#333" font-weight="bold" textLength="8.5" lengthAdjust="spacingAndGlyphs">2019</text>
<text x="417.45" y="575.2" font-size="3.9" text-anchor="middle" fill="#333" font-weight="bold" textLength="8.5" lengthAdjust="spacingAndGlyphs">2020</text>
<text x="458.14" y="575.2" font-size="3.9" text-anchor="middle" fill="#333" font-weight="bold" textLength="8.5" lengthAdjust="spacingAndGlyphs">2021</text>
<text x="383.3" y="581.7" font-size="3.9" text-anchor="middle" fill="#333" font-weight="bold" textLength="7.9" lengthAdjust="spacingAndGlyphs">Year</text>
<line x1="287.6" y1="459.74" x2="289.2" y2="459.74" stroke="#aaa" stroke-width="0.6"/>
<text x="285.2" y="459.74" font-size="4.5" text-anchor="middle" fill="#1a1a1a" textLength="4.9" lengthAdjust="spacingAndGlyphs" transform="rotate(-90 285.2 459.74)">1.5</text>
<line x1="287.6" y1="494.66" x2="289.2" y2="494.66" stroke="#aaa" stroke-width="0.6"/>
<text x="285.2" y="494.66" font-size="4.5" text-anchor="middle" fill="#1a1a1a" textLength="4.9" lengthAdjust="spacingAndGlyphs" transform="rotate(-90 285.2 494.66)">1.0</text>
<line x1="287.6" y1="529.58" x2="289.2" y2="529.58" stroke="#aaa" stroke-width="0.6"/>
<text x="285.2" y="529.58" font-size="4.5" text-anchor="middle" fill="#1a1a1a" textLength="4.9" lengthAdjust="spacingAndGlyphs" transform="rotate(-90 285.2 529.58)">0.5</text>
<line x1="287.6" y1="564.5" x2="289.2" y2="564.5" stroke="#aaa" stroke-width="0.6"/>
<text x="285.2" y="564.5" font-size="4.5" text-anchor="middle" fill="#1a1a1a" textLength="4.9" lengthAdjust="spacingAndGlyphs" transform="rotate(-90 285.2 564.5)">0.0</text>
<text x="278.4" y="512.4" font-size="4" text-anchor="middle" fill="#111" textLength="56.98" lengthAdjust="spacingAndGlyphs" transform="rotate(-90 278.4 512.4)">Bipolar mood disorders (per 100,000)</text>
<text x="379.8" y="450.6" font-size="4.4" text-anchor="middle" font-weight="bold" textLength="49.79" lengthAdjust="spacingAndGlyphs">Bipolar mood disorders, Male</text>
<polygon points="627.28,500 630.07,499.22 633.17,493.48 636.59,493.02 639.69,492.24 643.26,490.38 646.36,493.02 649.93,489.91 653.34,485.26 656.76,481.69 659.55,482.93 662.66,491.47 666.53,482.93 670.1,482.16 673.52,481.38 676.62,480.6 680.03,479.52 680.03,527.16 676.62,526.38 673.52,525.6 670.1,524.83 666.53,524.05 662.66,523.28 659.55,517.07 656.76,514.74 653.34,514.74 649.93,519.4 646.36,522.03 643.26,519.4 639.69,520.17 636.59,518.62 633.17,517.84 630.07,523.28 627.28,523.28" fill="#dadae0"/>
<polyline points="502.74,537.26 506.34,535.17 509.63,532.77 512.92,530.38 516.21,528.28 519.5,525.29 522.8,525.29 526.09,526.79 529.38,528.28 532.67,526.79 535.96,527.39 539.26,528.58 542.55,529.18 545.84,527.39 549.43,525.29 552.72,523.8 556.01,519.31 559.31,513.32 562.6,518.41 565.89,520.8 569.48,518.41 572.77,524.39 576.07,521.7 579.36,523.2 582.65,518.41 586.24,526.79 589.53,517.21 592.82,516.31 596.12,511.82 599.41,518.41 602.7,513.32 605.99,514.22 609.58,520.2 612.88,511.82 616.17,508.23 619.46,509.43 622.75,507.34 626.97,511.64" fill="none" stroke="#2a2a2a" stroke-width="0.8" stroke-linejoin="round"/>
<polyline points="626.97,511.64 630.07,512.72 633.17,506.98 636.59,506.21 639.69,506.52 643.26,504.34 646.36,507.45 649.93,505.43 653.34,500.78 656.76,497.21 659.55,499.22 662.97,507.45 666.53,503.41 680.03,503.41" fill="none" stroke="#d9746a" stroke-width="0.75" stroke-linejoin="round"/>
<rect x="501.69" y="536.36" width="2.1" height="1.8" fill="#8080f6"/>
<rect x="504.99" y="530.68" width="2.1" height="1.8" fill="#8080f6"/>
<rect x="508.28" y="527.98" width="2.1" height="1.8" fill="#8080f6"/>
<rect x="511.57" y="529.48" width="2.1" height="1.8" fill="#8080f6"/>
<rect x="514.86" y="526.19" width="2.1" height="1.8" fill="#8080f6"/>
<rect x="518.15" y="513.32" width="2.1" height="1.8" fill="#8080f6"/>
<rect x="521.75" y="523.79" width="2.1" height="1.8" fill="#8080f6"/>
<rect x="525.04" y="529.48" width="2.1" height="1.8" fill="#8080f6"/>
<rect x="528.33" y="519.6" width="2.1" height="1.8" fill="#8080f6"/>
<rect x="531.62" y="530.38" width="2.1" height="1.8" fill="#8080f6"/>
<rect x="534.91" y="527.09" width="2.1" height="1.8" fill="#8080f6"/>
<rect x="538.21" y="528.88" width="2.1" height="1.8" fill="#8080f6"/>
<rect x="541.5" y="520.5" width="2.1" height="1.8" fill="#8080f6"/>
<rect x="544.79" y="533.67" width="2.1" height="1.8" fill="#8080f6"/>
<rect x="548.38" y="513.62" width="2.1" height="1.8" fill="#8080f6"/>
<rect x="551.67" y="519.3" width="2.1" height="1.8" fill="#8080f6"/>
<rect x="554.96" y="511.52" width="2.1" height="1.8" fill="#8080f6"/>
<rect x="558.26" y="518.41" width="2.1" height="1.8" fill="#8080f6"/>
<rect x="561.55" y="516.01" width="2.1" height="1.8" fill="#8080f6"/>
<rect x="564.84" y="519.9" width="2.1" height="1.8" fill="#8080f6"/>
<rect x="568.43" y="527.98" width="2.1" height="1.8" fill="#8080f6"/>
<rect x="571.72" y="521.4" width="2.1" height="1.8" fill="#8080f6"/>
<rect x="575.02" y="517.51" width="2.1" height="1.8" fill="#8080f6"/>
<rect x="578.31" y="524.99" width="2.1" height="1.8" fill="#8080f6"/>
<rect x="581.6" y="512.42" width="2.1" height="1.8" fill="#8080f6"/>
<rect x="585.19" y="527.38" width="2.1" height="1.8" fill="#8080f6"/>
<rect x="588.48" y="515.71" width="2.1" height="1.8" fill="#8080f6"/>
<rect x="591.77" y="510.33" width="2.1" height="1.8" fill="#8080f6"/>
<rect x="595.07" y="507.63" width="2.1" height="1.8" fill="#8080f6"/>
<rect x="598.36" y="517.51" width="2.1" height="1.8" fill="#8080f6"/>
<rect x="601.65" y="507.93" width="2.1" height="1.8" fill="#8080f6"/>
<rect x="604.94" y="513.32" width="2.1" height="1.8" fill="#8080f6"/>
<rect x="608.53" y="519.9" width="2.1" height="1.8" fill="#8080f6"/>
<rect x="611.83" y="502.55" width="2.1" height="1.8" fill="#8080f6"/>
<rect x="615.12" y="498.65" width="2.1" height="1.8" fill="#8080f6"/>
<rect x="618.41" y="506.44" width="2.1" height="1.8" fill="#8080f6"/>
<rect x="621.7" y="512.42" width="2.1" height="1.8" fill="#8080f6"/>
<rect x="625.92" y="514.62" width="2.1" height="1.8" fill="#8080f6"/>
<rect x="629.02" y="516.94" width="2.1" height="1.8" fill="#8080f6"/>
<rect x="632.28" y="512.29" width="2.1" height="1.8" fill="#8080f6"/>
<rect x="635.85" y="506.08" width="2.1" height="1.8" fill="#8080f6"/>
<rect x="639.26" y="497.24" width="2.1" height="1.8" fill="#8080f6"/>
<rect x="642.67" y="496" width="2.1" height="1.8" fill="#8080f6"/>
<rect x="645.93" y="503.76" width="2.1" height="1.8" fill="#8080f6"/>
<rect x="649.19" y="500.03" width="2.1" height="1.8" fill="#8080f6"/>
<rect x="652.76" y="510.89" width="2.1" height="1.8" fill="#8080f6"/>
<rect x="656.02" y="504.69" width="2.1" height="1.8" fill="#8080f6"/>
<rect x="659.28" y="501.89" width="2.1" height="1.8" fill="#8080f6"/>
<rect x="662.54" y="504.53" width="2.1" height="1.8" fill="#8080f6"/>
<rect x="665.95" y="498.17" width="2.1" height="1.8" fill="#8080f6"/>
<rect x="669.21" y="491.03" width="2.1" height="1.8" fill="#8080f6"/>
<rect x="672.78" y="498.79" width="2.1" height="1.8" fill="#8080f6"/>
<rect x="676.04" y="498.79" width="2.1" height="1.8" fill="#8080f6"/>
<rect x="679.14" y="505" width="2.1" height="1.8" fill="#8080f6"/>
<line x1="626.97" y1="455.8" x2="626.97" y2="569.4" stroke="#5ea45a" stroke-width="0.8" stroke-dasharray="1.1 1.5"/>
<rect x="496.2" y="455.8" width="186.2" height="113.6" fill="none" stroke="#c8c8c8" stroke-width="1.2"/>
<line x1="502.74" y1="569.4" x2="502.74" y2="571" stroke="#aaa" stroke-width="0.6"/>
<line x1="542.85" y1="569.4" x2="542.85" y2="571" stroke="#aaa" stroke-width="0.6"/>
<line x1="582.95" y1="569.4" x2="582.95" y2="571" stroke="#aaa" stroke-width="0.6"/>
<line x1="623.05" y1="569.4" x2="623.05" y2="571" stroke="#aaa" stroke-width="0.6"/>
<line x1="663.15" y1="569.4" x2="663.15" y2="571" stroke="#aaa" stroke-width="0.6"/>
<text x="502.74" y="575.2" font-size="3.9" text-anchor="middle" fill="#333" font-weight="bold" textLength="8.5" lengthAdjust="spacingAndGlyphs">2017</text>
<text x="542.85" y="575.2" font-size="3.9" text-anchor="middle" fill="#333" font-weight="bold" textLength="8.5" lengthAdjust="spacingAndGlyphs">2018</text>
<text x="582.95" y="575.2" font-size="3.9" text-anchor="middle" fill="#333" font-weight="bold" textLength="8.5" lengthAdjust="spacingAndGlyphs">2019</text>
<text x="623.05" y="575.2" font-size="3.9" text-anchor="middle" fill="#333" font-weight="bold" textLength="8.5" lengthAdjust="spacingAndGlyphs">2020</text>
<text x="663.15" y="575.2" font-size="3.9" text-anchor="middle" fill="#333" font-weight="bold" textLength="8.5" lengthAdjust="spacingAndGlyphs">2021</text>
<text x="589.3" y="581.7" font-size="3.9" text-anchor="middle" fill="#333" font-weight="bold" textLength="7.9" lengthAdjust="spacingAndGlyphs">Year</text>
<line x1="494.6" y1="460.05" x2="496.2" y2="460.05" stroke="#aaa" stroke-width="0.6"/>
<text x="492.2" y="460.05" font-size="4.5" text-anchor="middle" fill="#1a1a1a" textLength="4.9" lengthAdjust="spacingAndGlyphs" transform="rotate(-90 492.2 460.05)">1.5</text>
<line x1="494.6" y1="494.77" x2="496.2" y2="494.77" stroke="#aaa" stroke-width="0.6"/>
<text x="492.2" y="494.77" font-size="4.5" text-anchor="middle" fill="#1a1a1a" textLength="4.9" lengthAdjust="spacingAndGlyphs" transform="rotate(-90 492.2 494.77)">1.0</text>
<line x1="494.6" y1="529.78" x2="496.2" y2="529.78" stroke="#aaa" stroke-width="0.6"/>
<text x="492.2" y="529.78" font-size="4.5" text-anchor="middle" fill="#1a1a1a" textLength="4.9" lengthAdjust="spacingAndGlyphs" transform="rotate(-90 492.2 529.78)">0.5</text>
<line x1="494.6" y1="564.8" x2="496.2" y2="564.8" stroke="#aaa" stroke-width="0.6"/>
<text x="492.2" y="564.8" font-size="4.5" text-anchor="middle" fill="#1a1a1a" textLength="4.9" lengthAdjust="spacingAndGlyphs" transform="rotate(-90 492.2 564.8)">0.0</text>
<text x="485.4" y="512.6" font-size="4" text-anchor="middle" fill="#111" textLength="56.98" lengthAdjust="spacingAndGlyphs" transform="rotate(-90 485.4 512.6)">Bipolar mood disorders (per 100,000)</text>
<text x="589.8" y="451.1" font-size="4.4" text-anchor="middle" font-weight="bold" textLength="53.59" lengthAdjust="spacingAndGlyphs">Bipolar mood disorders, Female</text>
<polygon points="211.17,654.53 214.28,650.66 217.84,646.78 221.41,645.22 224.83,646 228.24,641.03 231.81,642.59 235.38,641.66 238.79,637.47 242.21,637.47 245.78,638.24 249.66,636.69 253.07,634.36 256.64,632.81 260.52,631.26 263.62,630.17 267.03,629.71 267.03,685.57 263.62,684.79 260.52,684.02 257.1,683.55 253.53,683.24 249.66,681.69 245.78,679.36 242.21,677.03 238.79,676.26 235.38,677.81 231.81,675.17 228.24,673.16 224.83,677.03 221.41,673.93 217.84,673.93 214.28,674.71 211.17,676.26" fill="#dadae0"/>
<polyline points="79.65,694.21 83.75,692.64 87.22,690.11 90.69,687.91 94.15,686.64 97.62,684.12 101.09,679.08 104.56,677.81 108.03,677.81 111.5,678.45 114.97,683.18 118.44,683.81 121.9,684.12 125.37,677.5 129.16,680.02 132.62,676.87 136.09,672.77 139.56,669.62 143.03,670.56 146.5,670.56 150.28,669.93 153.75,679.08 157.22,671.51 160.69,672.14 164.16,670.56 167.94,677.81 171.41,674.66 174.88,673.72 178.35,670.56 181.82,668.35 185.28,666.78 188.75,663.62 192.54,666.78 196.01,663.31 199.47,660.16 202.94,660.16 206.41,661.1 210.86,666.17" fill="none" stroke="#2a2a2a" stroke-width="0.8" stroke-linejoin="round"/>
<polyline points="210.86,666.17 214.28,662.29 217.84,659.97 221.41,659.5 224.83,661.52 228.24,656.86 231.81,657.64 235.38,659.97 238.79,655.62 242.21,656.55 245.78,657.64 249.66,659.97 253.07,659.66 256.64,658.41 260.52,657.17 263.62,657.17 267.03,658.1" fill="none" stroke="#d9746a" stroke-width="0.75" stroke-linejoin="round"/>
<rect x="78.6" y="693.31" width="2.1" height="1.8" fill="#8080f6"/>
<rect x="82.07" y="687.64" width="2.1" height="1.8" fill="#8080f6"/>
<rect x="85.54" y="683.85" width="2.1" height="1.8" fill="#8080f6"/>
<rect x="89.01" y="685.11" width="2.1" height="1.8" fill="#8080f6"/>
<rect x="92.79" y="682.59" width="2.1" height="1.8" fill="#8080f6"/>
<rect x="96.26" y="673.13" width="2.1" height="1.8" fill="#8080f6"/>
<rect x="99.73" y="674.71" width="2.1" height="1.8" fill="#8080f6"/>
<rect x="103.2" y="676.28" width="2.1" height="1.8" fill="#8080f6"/>
<rect x="106.66" y="676.91" width="2.1" height="1.8" fill="#8080f6"/>
<rect x="110.13" y="688.58" width="2.1" height="1.8" fill="#8080f6"/>
<rect x="113.6" y="682.59" width="2.1" height="1.8" fill="#8080f6"/>
<rect x="117.07" y="682.59" width="2.1" height="1.8" fill="#8080f6"/>
<rect x="120.85" y="672.18" width="2.1" height="1.8" fill="#8080f6"/>
<rect x="124.32" y="685.74" width="2.1" height="1.8" fill="#8080f6"/>
<rect x="128.11" y="670.92" width="2.1" height="1.8" fill="#8080f6"/>
<rect x="131.57" y="672.18" width="2.1" height="1.8" fill="#8080f6"/>
<rect x="135.04" y="671.24" width="2.1" height="1.8" fill="#8080f6"/>
<rect x="138.51" y="672.5" width="2.1" height="1.8" fill="#8080f6"/>
<rect x="141.98" y="666.82" width="2.1" height="1.8" fill="#8080f6"/>
<rect x="145.45" y="669.66" width="2.1" height="1.8" fill="#8080f6"/>
<rect x="149.23" y="677.86" width="2.1" height="1.8" fill="#8080f6"/>
<rect x="152.7" y="670.92" width="2.1" height="1.8" fill="#8080f6"/>
<rect x="156.17" y="671.87" width="2.1" height="1.8" fill="#8080f6"/>
<rect x="159.64" y="675.65" width="2.1" height="1.8" fill="#8080f6"/>
<rect x="163.11" y="673.76" width="2.1" height="1.8" fill="#8080f6"/>
<rect x="166.89" y="681.96" width="2.1" height="1.8" fill="#8080f6"/>
<rect x="170.36" y="673.13" width="2.1" height="1.8" fill="#8080f6"/>
<rect x="173.83" y="666.82" width="2.1" height="1.8" fill="#8080f6"/>
<rect x="177.3" y="664.93" width="2.1" height="1.8" fill="#8080f6"/>
<rect x="180.77" y="669.66" width="2.1" height="1.8" fill="#8080f6"/>
<rect x="184.23" y="657.68" width="2.1" height="1.8" fill="#8080f6"/>
<rect x="187.7" y="660.83" width="2.1" height="1.8" fill="#8080f6"/>
<rect x="191.49" y="665.88" width="2.1" height="1.8" fill="#8080f6"/>
<rect x="194.96" y="654.84" width="2.1" height="1.8" fill="#8080f6"/>
<rect x="198.42" y="656.42" width="2.1" height="1.8" fill="#8080f6"/>
<rect x="201.89" y="660.52" width="2.1" height="1.8" fill="#8080f6"/>
<rect x="205.36" y="664.93" width="2.1" height="1.8" fill="#8080f6"/>
<rect x="209.81" y="667.76" width="2.1" height="1.8" fill="#8080f6"/>
<rect x="213.23" y="669.93" width="2.1" height="1.8" fill="#8080f6"/>
<rect x="216.79" y="666.51" width="2.1" height="1.8" fill="#8080f6"/>
<rect x="220.36" y="655.96" width="2.1" height="1.8" fill="#8080f6"/>
<rect x="223.78" y="651" width="2.1" height="1.8" fill="#8080f6"/>
<rect x="227.35" y="648.98" width="2.1" height="1.8" fill="#8080f6"/>
<rect x="230.92" y="660.62" width="2.1" height="1.8" fill="#8080f6"/>
<rect x="234.48" y="655.34" width="2.1" height="1.8" fill="#8080f6"/>
<rect x="237.9" y="659.38" width="2.1" height="1.8" fill="#8080f6"/>
<rect x="241.47" y="656.43" width="2.1" height="1.8" fill="#8080f6"/>
<rect x="245.04" y="662.63" width="2.1" height="1.8" fill="#8080f6"/>
<rect x="248.61" y="661.08" width="2.1" height="1.8" fill="#8080f6"/>
<rect x="252.02" y="662.01" width="2.1" height="1.8" fill="#8080f6"/>
<rect x="255.74" y="644.01" width="2.1" height="1.8" fill="#8080f6"/>
<rect x="259.16" y="647.58" width="2.1" height="1.8" fill="#8080f6"/>
<rect x="262.73" y="652.08" width="2.1" height="1.8" fill="#8080f6"/>
<rect x="266.14" y="645.1" width="2.1" height="1.8" fill="#8080f6"/>
<line x1="210.86" y1="601.2" x2="210.86" y2="714.7" stroke="#5ea45a" stroke-width="0.8" stroke-dasharray="1.1 1.5"/>
<rect x="72.4" y="601.2" width="198" height="113.5" fill="none" stroke="#c8c8c8" stroke-width="1.2"/>
<line x1="79.65" y1="714.7" x2="79.65" y2="716.3" stroke="#aaa" stroke-width="0.6"/>
<line x1="122.22" y1="714.7" x2="122.22" y2="716.3" stroke="#aaa" stroke-width="0.6"/>
<line x1="164.79" y1="714.7" x2="164.79" y2="716.3" stroke="#aaa" stroke-width="0.6"/>
<line x1="207.04" y1="714.7" x2="207.04" y2="716.3" stroke="#aaa" stroke-width="0.6"/>
<line x1="249.3" y1="714.7" x2="249.3" y2="716.3" stroke="#aaa" stroke-width="0.6"/>
<text x="79.65" y="720.5" font-size="3.9" text-anchor="middle" fill="#333" font-weight="bold" textLength="8.5" lengthAdjust="spacingAndGlyphs">2017</text>
<text x="122.22" y="720.5" font-size="3.9" text-anchor="middle" fill="#333" font-weight="bold" textLength="8.5" lengthAdjust="spacingAndGlyphs">2018</text>
<text x="164.79" y="720.5" font-size="3.9" text-anchor="middle" fill="#333" font-weight="bold" textLength="8.5" lengthAdjust="spacingAndGlyphs">2019</text>
<text x="207.04" y="720.5" font-size="3.9" text-anchor="middle" fill="#333" font-weight="bold" textLength="8.5" lengthAdjust="spacingAndGlyphs">2020</text>
<text x="249.3" y="720.5" font-size="3.9" text-anchor="middle" fill="#333" font-weight="bold" textLength="8.5" lengthAdjust="spacingAndGlyphs">2021</text>
<text x="171.4" y="727" font-size="3.9" text-anchor="middle" fill="#333" font-weight="bold" textLength="7.9" lengthAdjust="spacingAndGlyphs">Year</text>
<line x1="70.8" y1="605.92" x2="72.4" y2="605.92" stroke="#aaa" stroke-width="0.6"/>
<text x="68.4" y="605.92" font-size="4.5" text-anchor="middle" fill="#1a1a1a" textLength="3.8" lengthAdjust="spacingAndGlyphs" transform="rotate(-90 68.4 605.92)">35</text>
<line x1="70.8" y1="623.26" x2="72.4" y2="623.26" stroke="#aaa" stroke-width="0.6"/>
<text x="68.4" y="623.26" font-size="4.5" text-anchor="middle" fill="#1a1a1a" textLength="3.8" lengthAdjust="spacingAndGlyphs" transform="rotate(-90 68.4 623.26)">30</text>
<line x1="70.8" y1="640.61" x2="72.4" y2="640.61" stroke="#aaa" stroke-width="0.6"/>
<text x="68.4" y="640.61" font-size="4.5" text-anchor="middle" fill="#1a1a1a" textLength="3.8" lengthAdjust="spacingAndGlyphs" transform="rotate(-90 68.4 640.61)">25</text>
<line x1="70.8" y1="658.26" x2="72.4" y2="658.26" stroke="#aaa" stroke-width="0.6"/>
<text x="68.4" y="658.26" font-size="4.5" text-anchor="middle" fill="#1a1a1a" textLength="3.8" lengthAdjust="spacingAndGlyphs" transform="rotate(-90 68.4 658.26)">20</text>
<line x1="70.8" y1="675.92" x2="72.4" y2="675.92" stroke="#aaa" stroke-width="0.6"/>
<text x="68.4" y="675.92" font-size="4.5" text-anchor="middle" fill="#1a1a1a" textLength="3.8" lengthAdjust="spacingAndGlyphs" transform="rotate(-90 68.4 675.92)">15</text>
<line x1="70.8" y1="693.27" x2="72.4" y2="693.27" stroke="#aaa" stroke-width="0.6"/>
<text x="68.4" y="693.27" font-size="4.5" text-anchor="middle" fill="#1a1a1a" textLength="3.8" lengthAdjust="spacingAndGlyphs" transform="rotate(-90 68.4 693.27)">10</text>
<line x1="70.8" y1="710.61" x2="72.4" y2="710.61" stroke="#aaa" stroke-width="0.6"/>
<text x="68.4" y="710.61" font-size="4.5" text-anchor="middle" fill="#1a1a1a" textLength="2.1" lengthAdjust="spacingAndGlyphs" transform="rotate(-90 68.4 710.61)">5</text>
<text x="61.6" y="657.95" font-size="4" text-anchor="middle" fill="#111" textLength="59.08" lengthAdjust="spacingAndGlyphs" transform="rotate(-90 61.6 657.95)">Unipolar mood disorders (per 100,000)</text>
<text x="171.1" y="596.4" font-size="4.4" text-anchor="middle" font-weight="bold" textLength="43.68" lengthAdjust="spacingAndGlyphs">Unipolar mood disorders</text>
<polygon points="422.28,664.84 425.07,661.74 428.48,659.72 432.05,659.1 435.62,660.66 438.72,656.62 442.14,657.55 445.55,658.17 449.12,654.76 453,655.07 456.1,654.76 459.21,653.21 462.31,652.9 466.19,651.66 469.29,650.88 472.4,650.41 475.97,650.41 475.97,688.9 472.4,688.12 469.29,687.34 466.19,687.03 462.31,686.57 459.21,685.02 456.1,684.24 453,682.69 449.12,682.69 445.55,684.24 442.14,681.91 438.72,680.36 435.62,683.47 432.05,680.36 428.48,680.83 425.07,681.91 422.28,683.47" fill="#dadae0"/>
<polyline points="296.29,696.31 299.94,694.8 303.28,693.28 306.62,691.76 309.96,691.15 313.3,689.63 316.64,686.6 319.98,684.17 323.32,684.17 326.66,684.17 330,687.2 333.34,687.2 336.68,688.12 340.02,683.56 343.36,685.69 346.7,682.65 350.04,679.61 353.38,675.97 356.72,675.97 360.06,677.18 363.4,676.58 367.04,683.56 370.38,677.49 373.72,678.09 377.06,677.18 380.4,682.04 383.74,678.09 387.08,679.01 390.42,677.18 393.76,675.97 397.1,675.06 400.44,672.93 403.78,677.18 407.12,673.54 410.77,671.41 414.11,673.54 417.45,672.63 421.97,674.62" fill="none" stroke="#2a2a2a" stroke-width="0.8" stroke-linejoin="round"/>
<polyline points="421.97,674.62 425.07,672.14 428.48,670.59 432.05,669.81 435.62,672.6 438.72,668.41 442.14,670.28 445.55,671.83 449.12,668.41 453,669.19 456.1,669.5 459.21,670.28 462.31,671.05 466.19,669.97 469.29,669.19 472.4,668.72 475.97,669.97" fill="none" stroke="#d9746a" stroke-width="0.75" stroke-linejoin="round"/>
<rect x="295.24" y="695.41" width="2.1" height="1.8" fill="#8080f6"/>
<rect x="298.58" y="691.47" width="2.1" height="1.8" fill="#8080f6"/>
<rect x="301.92" y="688.73" width="2.1" height="1.8" fill="#8080f6"/>
<rect x="305.26" y="689.95" width="2.1" height="1.8" fill="#8080f6"/>
<rect x="308.6" y="688.13" width="2.1" height="1.8" fill="#8080f6"/>
<rect x="312.25" y="680.84" width="2.1" height="1.8" fill="#8080f6"/>
<rect x="315.59" y="680.54" width="2.1" height="1.8" fill="#8080f6"/>
<rect x="318.93" y="682.36" width="2.1" height="1.8" fill="#8080f6"/>
<rect x="322.27" y="683.57" width="2.1" height="1.8" fill="#8080f6"/>
<rect x="325.61" y="691.47" width="2.1" height="1.8" fill="#8080f6"/>
<rect x="328.95" y="686.3" width="2.1" height="1.8" fill="#8080f6"/>
<rect x="332.29" y="686.3" width="2.1" height="1.8" fill="#8080f6"/>
<rect x="335.63" y="678.71" width="2.1" height="1.8" fill="#8080f6"/>
<rect x="338.97" y="689.64" width="2.1" height="1.8" fill="#8080f6"/>
<rect x="342.61" y="675.07" width="2.1" height="1.8" fill="#8080f6"/>
<rect x="345.95" y="678.11" width="2.1" height="1.8" fill="#8080f6"/>
<rect x="349.29" y="675.07" width="2.1" height="1.8" fill="#8080f6"/>
<rect x="352.63" y="677.8" width="2.1" height="1.8" fill="#8080f6"/>
<rect x="355.97" y="674.16" width="2.1" height="1.8" fill="#8080f6"/>
<rect x="359.31" y="675.68" width="2.1" height="1.8" fill="#8080f6"/>
<rect x="362.65" y="684.48" width="2.1" height="1.8" fill="#8080f6"/>
<rect x="365.99" y="676.28" width="2.1" height="1.8" fill="#8080f6"/>
<rect x="369.64" y="676.28" width="2.1" height="1.8" fill="#8080f6"/>
<rect x="372.98" y="680.84" width="2.1" height="1.8" fill="#8080f6"/>
<rect x="376.32" y="677.19" width="2.1" height="1.8" fill="#8080f6"/>
<rect x="379.66" y="684.79" width="2.1" height="1.8" fill="#8080f6"/>
<rect x="383" y="677.8" width="2.1" height="1.8" fill="#8080f6"/>
<rect x="386.34" y="673.85" width="2.1" height="1.8" fill="#8080f6"/>
<rect x="389.68" y="671.73" width="2.1" height="1.8" fill="#8080f6"/>
<rect x="393.32" y="677.8" width="2.1" height="1.8" fill="#8080f6"/>
<rect x="396.66" y="668.09" width="2.1" height="1.8" fill="#8080f6"/>
<rect x="400" y="671.43" width="2.1" height="1.8" fill="#8080f6"/>
<rect x="403.34" y="675.98" width="2.1" height="1.8" fill="#8080f6"/>
<rect x="406.68" y="667.78" width="2.1" height="1.8" fill="#8080f6"/>
<rect x="410.02" y="669.6" width="2.1" height="1.8" fill="#8080f6"/>
<rect x="413.36" y="671.12" width="2.1" height="1.8" fill="#8080f6"/>
<rect x="416.7" y="671.73" width="2.1" height="1.8" fill="#8080f6"/>
<rect x="420.92" y="676.2" width="2.1" height="1.8" fill="#8080f6"/>
<rect x="424.02" y="678.22" width="2.1" height="1.8" fill="#8080f6"/>
<rect x="427.43" y="676.67" width="2.1" height="1.8" fill="#8080f6"/>
<rect x="430.85" y="669.84" width="2.1" height="1.8" fill="#8080f6"/>
<rect x="434.26" y="665.34" width="2.1" height="1.8" fill="#8080f6"/>
<rect x="437.67" y="666.27" width="2.1" height="1.8" fill="#8080f6"/>
<rect x="440.93" y="672.32" width="2.1" height="1.8" fill="#8080f6"/>
<rect x="444.35" y="671.39" width="2.1" height="1.8" fill="#8080f6"/>
<rect x="447.76" y="672.79" width="2.1" height="1.8" fill="#8080f6"/>
<rect x="451.33" y="672.17" width="2.1" height="1.8" fill="#8080f6"/>
<rect x="454.74" y="674.5" width="2.1" height="1.8" fill="#8080f6"/>
<rect x="458" y="674.5" width="2.1" height="1.8" fill="#8080f6"/>
<rect x="461.26" y="675.89" width="2.1" height="1.8" fill="#8080f6"/>
<rect x="464.67" y="660.53" width="2.1" height="1.8" fill="#8080f6"/>
<rect x="468.09" y="663.94" width="2.1" height="1.8" fill="#8080f6"/>
<rect x="471.5" y="667.82" width="2.1" height="1.8" fill="#8080f6"/>
<rect x="474.92" y="662.86" width="2.1" height="1.8" fill="#8080f6"/>
<line x1="421.97" y1="602.8" x2="421.97" y2="714.5" stroke="#5ea45a" stroke-width="0.8" stroke-dasharray="1.1 1.5"/>
<rect x="289.3" y="602.8" width="188.1" height="111.7" fill="none" stroke="#c8c8c8" stroke-width="1.2"/>
<line x1="296.29" y1="714.5" x2="296.29" y2="716.1" stroke="#aaa" stroke-width="0.6"/>
<line x1="336.98" y1="714.5" x2="336.98" y2="716.1" stroke="#aaa" stroke-width="0.6"/>
<line x1="377.67" y1="714.5" x2="377.67" y2="716.1" stroke="#aaa" stroke-width="0.6"/>
<line x1="418.06" y1="714.5" x2="418.06" y2="716.1" stroke="#aaa" stroke-width="0.6"/>
<line x1="458.74" y1="714.5" x2="458.74" y2="716.1" stroke="#aaa" stroke-width="0.6"/>
<text x="296.29" y="720.3" font-size="3.9" text-anchor="middle" fill="#333" font-weight="bold" textLength="8.5" lengthAdjust="spacingAndGlyphs">2017</text>
<text x="336.98" y="720.3" font-size="3.9" text-anchor="middle" fill="#333" font-weight="bold" textLength="8.5" lengthAdjust="spacingAndGlyphs">2018</text>
<text x="377.67" y="720.3" font-size="3.9" text-anchor="middle" fill="#333" font-weight="bold" textLength="8.5" lengthAdjust="spacingAndGlyphs">2019</text>
<text x="418.06" y="720.3" font-size="3.9" text-anchor="middle" fill="#333" font-weight="bold" textLength="8.5" lengthAdjust="spacingAndGlyphs">2020</text>
<text x="458.74" y="720.3" font-size="3.9" text-anchor="middle" fill="#333" font-weight="bold" textLength="8.5" lengthAdjust="spacingAndGlyphs">2021</text>
<text x="383.35" y="726.8" font-size="3.9" text-anchor="middle" fill="#333" font-weight="bold" textLength="7.9" lengthAdjust="spacingAndGlyphs">Year</text>
<line x1="287.7" y1="606.74" x2="289.3" y2="606.74" stroke="#aaa" stroke-width="0.6"/>
<text x="285.3" y="606.74" font-size="4.5" text-anchor="middle" fill="#1a1a1a" textLength="3.8" lengthAdjust="spacingAndGlyphs" transform="rotate(-90 285.3 606.74)">35</text>
<line x1="287.7" y1="623.44" x2="289.3" y2="623.44" stroke="#aaa" stroke-width="0.6"/>
<text x="285.3" y="623.44" font-size="4.5" text-anchor="middle" fill="#1a1a1a" textLength="3.8" lengthAdjust="spacingAndGlyphs" transform="rotate(-90 285.3 623.44)">30</text>
<line x1="287.7" y1="641.05" x2="289.3" y2="641.05" stroke="#aaa" stroke-width="0.6"/>
<text x="285.3" y="641.05" font-size="4.5" text-anchor="middle" fill="#1a1a1a" textLength="3.8" lengthAdjust="spacingAndGlyphs" transform="rotate(-90 285.3 641.05)">25</text>
<line x1="287.7" y1="658.36" x2="289.3" y2="658.36" stroke="#aaa" stroke-width="0.6"/>
<text x="285.3" y="658.36" font-size="4.5" text-anchor="middle" fill="#1a1a1a" textLength="3.8" lengthAdjust="spacingAndGlyphs" transform="rotate(-90 285.3 658.36)">20</text>
<line x1="287.7" y1="675.67" x2="289.3" y2="675.67" stroke="#aaa" stroke-width="0.6"/>
<text x="285.3" y="675.67" font-size="4.5" text-anchor="middle" fill="#1a1a1a" textLength="3.8" lengthAdjust="spacingAndGlyphs" transform="rotate(-90 285.3 675.67)">15</text>
<line x1="287.7" y1="692.97" x2="289.3" y2="692.97" stroke="#aaa" stroke-width="0.6"/>
<text x="285.3" y="692.97" font-size="4.5" text-anchor="middle" fill="#1a1a1a" textLength="3.8" lengthAdjust="spacingAndGlyphs" transform="rotate(-90 285.3 692.97)">10</text>
<line x1="287.7" y1="710.28" x2="289.3" y2="710.28" stroke="#aaa" stroke-width="0.6"/>
<text x="285.3" y="710.28" font-size="4.5" text-anchor="middle" fill="#1a1a1a" textLength="2.1" lengthAdjust="spacingAndGlyphs" transform="rotate(-90 285.3 710.28)">5</text>
<text x="278.5" y="658.65" font-size="4" text-anchor="middle" fill="#111" textLength="59.08" lengthAdjust="spacingAndGlyphs" transform="rotate(-90 278.5 658.65)">Unipolar mood disorders (per 100,000)</text>
<text x="384.4" y="597.6" font-size="4.4" text-anchor="middle" font-weight="bold" textLength="51.95" lengthAdjust="spacingAndGlyphs">Unipolar mood disorders, Male</text>
<polygon points="627.28,642.9 630.07,635.91 633.48,631.26 637.05,628.16 640.62,625.83 644.03,619.62 647.45,618.38 651.02,617.29 654.59,613.41 658,611.86 661.1,613.72 664.21,613.41 667.31,608.76 671.19,606.43 674.29,604.88 677.4,603.33 680.03,602.55 680.03,679.36 677.4,677.03 674.29,675.17 671.19,672.38 667.31,669.28 664.21,666.17 661.1,663.07 658,659.97 654.59,661.52 651.02,662.76 647.45,661.21 644.03,659.97 640.62,663.84 637.05,662.29 633.48,663.07 630.07,666.95 627.28,667.72" fill="#dadae0"/>
<polyline points="502.15,692.34 505.74,690.25 509.03,686.36 512.32,682.77 515.61,680.37 518.91,676.18 522.2,672.29 525.49,672.29 529.08,672.29 532.37,676.78 535.66,680.37 538.96,679.77 542.25,676.78 545.54,671.39 548.83,673.79 552.12,670.8 555.72,667.2 559.01,663.31 562.3,666.31 565.59,664.21 568.88,665.41 572.47,675.28 575.77,668.4 579.06,668.4 582.35,664.21 585.64,681.27 588.93,673.79 592.23,669.3 595.52,665.41 599.11,663.31 602.4,657.33 605.69,655.23 608.99,658.82 612.28,648.35 615.57,648.35 618.86,649.85 622.15,655.23 626.66,656.09" fill="none" stroke="#2a2a2a" stroke-width="0.8" stroke-linejoin="round"/>
<polyline points="626.66,656.09 630.07,653.45 633.48,647.24 637.05,646 640.62,645.22 644.03,639.02 647.45,640.1 651.02,640.1 654.59,637 657.22,635.45 660.33,637.93 663.9,640.57 666.53,639.48 680.03,639.48" fill="none" stroke="#d9746a" stroke-width="0.75" stroke-linejoin="round"/>
<rect x="501.1" y="690.84" width="2.1" height="1.8" fill="#8080f6"/>
<rect x="504.39" y="684.86" width="2.1" height="1.8" fill="#8080f6"/>
<rect x="507.68" y="679.77" width="2.1" height="1.8" fill="#8080f6"/>
<rect x="510.97" y="679.47" width="2.1" height="1.8" fill="#8080f6"/>
<rect x="514.26" y="677.68" width="2.1" height="1.8" fill="#8080f6"/>
<rect x="517.86" y="666.6" width="2.1" height="1.8" fill="#8080f6"/>
<rect x="521.15" y="671.09" width="2.1" height="1.8" fill="#8080f6"/>
<rect x="524.44" y="671.39" width="2.1" height="1.8" fill="#8080f6"/>
<rect x="527.73" y="670.79" width="2.1" height="1.8" fill="#8080f6"/>
<rect x="531.02" y="686.36" width="2.1" height="1.8" fill="#8080f6"/>
<rect x="534.61" y="679.47" width="2.1" height="1.8" fill="#8080f6"/>
<rect x="537.91" y="679.17" width="2.1" height="1.8" fill="#8080f6"/>
<rect x="541.2" y="666.6" width="2.1" height="1.8" fill="#8080f6"/>
<rect x="544.49" y="682.46" width="2.1" height="1.8" fill="#8080f6"/>
<rect x="547.78" y="667.2" width="2.1" height="1.8" fill="#8080f6"/>
<rect x="551.07" y="666.9" width="2.1" height="1.8" fill="#8080f6"/>
<rect x="554.37" y="666.9" width="2.1" height="1.8" fill="#8080f6"/>
<rect x="557.96" y="666.9" width="2.1" height="1.8" fill="#8080f6"/>
<rect x="561.25" y="660.32" width="2.1" height="1.8" fill="#8080f6"/>
<rect x="564.54" y="664.51" width="2.1" height="1.8" fill="#8080f6"/>
<rect x="567.83" y="671.09" width="2.1" height="1.8" fill="#8080f6"/>
<rect x="571.13" y="666.3" width="2.1" height="1.8" fill="#8080f6"/>
<rect x="574.72" y="667.8" width="2.1" height="1.8" fill="#8080f6"/>
<rect x="578.01" y="671.09" width="2.1" height="1.8" fill="#8080f6"/>
<rect x="581.3" y="669.3" width="2.1" height="1.8" fill="#8080f6"/>
<rect x="584.59" y="679.47" width="2.1" height="1.8" fill="#8080f6"/>
<rect x="587.88" y="668.7" width="2.1" height="1.8" fill="#8080f6"/>
<rect x="591.18" y="660.02" width="2.1" height="1.8" fill="#8080f6"/>
<rect x="594.47" y="658.52" width="2.1" height="1.8" fill="#8080f6"/>
<rect x="597.76" y="663.01" width="2.1" height="1.8" fill="#8080f6"/>
<rect x="601.05" y="648.05" width="2.1" height="1.8" fill="#8080f6"/>
<rect x="604.64" y="651.04" width="2.1" height="1.8" fill="#8080f6"/>
<rect x="607.94" y="657.03" width="2.1" height="1.8" fill="#8080f6"/>
<rect x="611.23" y="643.56" width="2.1" height="1.8" fill="#8080f6"/>
<rect x="614.52" y="644.16" width="2.1" height="1.8" fill="#8080f6"/>
<rect x="617.81" y="650.44" width="2.1" height="1.8" fill="#8080f6"/>
<rect x="621.4" y="657.92" width="2.1" height="1.8" fill="#8080f6"/>
<rect x="625.61" y="659.07" width="2.1" height="1.8" fill="#8080f6"/>
<rect x="628.86" y="662.17" width="2.1" height="1.8" fill="#8080f6"/>
<rect x="632.12" y="657.2" width="2.1" height="1.8" fill="#8080f6"/>
<rect x="635.69" y="643.24" width="2.1" height="1.8" fill="#8080f6"/>
<rect x="639.11" y="637.34" width="2.1" height="1.8" fill="#8080f6"/>
<rect x="642.52" y="633" width="2.1" height="1.8" fill="#8080f6"/>
<rect x="645.78" y="649.76" width="2.1" height="1.8" fill="#8080f6"/>
<rect x="649.04" y="640.6" width="2.1" height="1.8" fill="#8080f6"/>
<rect x="652.45" y="646.81" width="2.1" height="1.8" fill="#8080f6"/>
<rect x="655.86" y="641.69" width="2.1" height="1.8" fill="#8080f6"/>
<rect x="659.12" y="651.77" width="2.1" height="1.8" fill="#8080f6"/>
<rect x="662.54" y="648.67" width="2.1" height="1.8" fill="#8080f6"/>
<rect x="665.95" y="648.98" width="2.1" height="1.8" fill="#8080f6"/>
<rect x="669.36" y="628.19" width="2.1" height="1.8" fill="#8080f6"/>
<rect x="672.78" y="632.22" width="2.1" height="1.8" fill="#8080f6"/>
<rect x="676.04" y="637.19" width="2.1" height="1.8" fill="#8080f6"/>
<rect x="679.29" y="628.81" width="2.1" height="1.8" fill="#8080f6"/>
<line x1="626.66" y1="602.5" x2="626.66" y2="715.3" stroke="#5ea45a" stroke-width="0.8" stroke-dasharray="1.1 1.5"/>
<rect x="495.3" y="602.5" width="187.1" height="112.8" fill="none" stroke="#c8c8c8" stroke-width="1.2"/>
<line x1="502.15" y1="715.3" x2="502.15" y2="716.9" stroke="#aaa" stroke-width="0.6"/>
<line x1="542.25" y1="715.3" x2="542.25" y2="716.9" stroke="#aaa" stroke-width="0.6"/>
<line x1="582.65" y1="715.3" x2="582.65" y2="716.9" stroke="#aaa" stroke-width="0.6"/>
<line x1="622.75" y1="715.3" x2="622.75" y2="716.9" stroke="#aaa" stroke-width="0.6"/>
<line x1="663.15" y1="715.3" x2="663.15" y2="716.9" stroke="#aaa" stroke-width="0.6"/>
<text x="502.15" y="721.1" font-size="3.9" text-anchor="middle" fill="#333" font-weight="bold" textLength="8.5" lengthAdjust="spacingAndGlyphs">2017</text>
<text x="542.25" y="721.1" font-size="3.9" text-anchor="middle" fill="#333" font-weight="bold" textLength="8.5" lengthAdjust="spacingAndGlyphs">2018</text>
<text x="582.65" y="721.1" font-size="3.9" text-anchor="middle" fill="#333" font-weight="bold" textLength="8.5" lengthAdjust="spacingAndGlyphs">2019</text>
<text x="622.75" y="721.1" font-size="3.9" text-anchor="middle" fill="#333" font-weight="bold" textLength="8.5" lengthAdjust="spacingAndGlyphs">2020</text>
<text x="663.15" y="721.1" font-size="3.9" text-anchor="middle" fill="#333" font-weight="bold" textLength="8.5" lengthAdjust="spacingAndGlyphs">2021</text>
<text x="588.85" y="727.6" font-size="3.9" text-anchor="middle" fill="#333" font-weight="bold" textLength="7.9" lengthAdjust="spacingAndGlyphs">Year</text>
<line x1="493.7" y1="606.45" x2="495.3" y2="606.45" stroke="#aaa" stroke-width="0.6"/>
<text x="491.3" y="606.45" font-size="4.5" text-anchor="middle" fill="#1a1a1a" textLength="3.8" lengthAdjust="spacingAndGlyphs" transform="rotate(-90 491.3 606.45)">35</text>
<line x1="493.7" y1="623.81" x2="495.3" y2="623.81" stroke="#aaa" stroke-width="0.6"/>
<text x="491.3" y="623.81" font-size="4.5" text-anchor="middle" fill="#1a1a1a" textLength="3.8" lengthAdjust="spacingAndGlyphs" transform="rotate(-90 491.3 623.81)">30</text>
<line x1="493.7" y1="641.17" x2="495.3" y2="641.17" stroke="#aaa" stroke-width="0.6"/>
<text x="491.3" y="641.17" font-size="4.5" text-anchor="middle" fill="#1a1a1a" textLength="3.8" lengthAdjust="spacingAndGlyphs" transform="rotate(-90 491.3 641.17)">25</text>
<line x1="493.7" y1="658.53" x2="495.3" y2="658.53" stroke="#aaa" stroke-width="0.6"/>
<text x="491.3" y="658.53" font-size="4.5" text-anchor="middle" fill="#1a1a1a" textLength="3.8" lengthAdjust="spacingAndGlyphs" transform="rotate(-90 491.3 658.53)">20</text>
<line x1="493.7" y1="675.88" x2="495.3" y2="675.88" stroke="#aaa" stroke-width="0.6"/>
<text x="491.3" y="675.88" font-size="4.5" text-anchor="middle" fill="#1a1a1a" textLength="3.8" lengthAdjust="spacingAndGlyphs" transform="rotate(-90 491.3 675.88)">15</text>
<line x1="493.7" y1="692.94" x2="495.3" y2="692.94" stroke="#aaa" stroke-width="0.6"/>
<text x="491.3" y="692.94" font-size="4.5" text-anchor="middle" fill="#1a1a1a" textLength="3.8" lengthAdjust="spacingAndGlyphs" transform="rotate(-90 491.3 692.94)">10</text>
<line x1="493.7" y1="710.3" x2="495.3" y2="710.3" stroke="#aaa" stroke-width="0.6"/>
<text x="491.3" y="710.3" font-size="4.5" text-anchor="middle" fill="#1a1a1a" textLength="2.1" lengthAdjust="spacingAndGlyphs" transform="rotate(-90 491.3 710.3)">5</text>
<text x="484.5" y="658.9" font-size="4" text-anchor="middle" fill="#111" textLength="59.08" lengthAdjust="spacingAndGlyphs" transform="rotate(-90 484.5 658.9)">Unipolar mood disorders (per 100,000)</text>
<text x="588.4" y="597.5" font-size="4.4" text-anchor="middle" font-weight="bold" textLength="55.73" lengthAdjust="spacingAndGlyphs">Unipolar mood disorders, Female</text></svg>
</body></html>
